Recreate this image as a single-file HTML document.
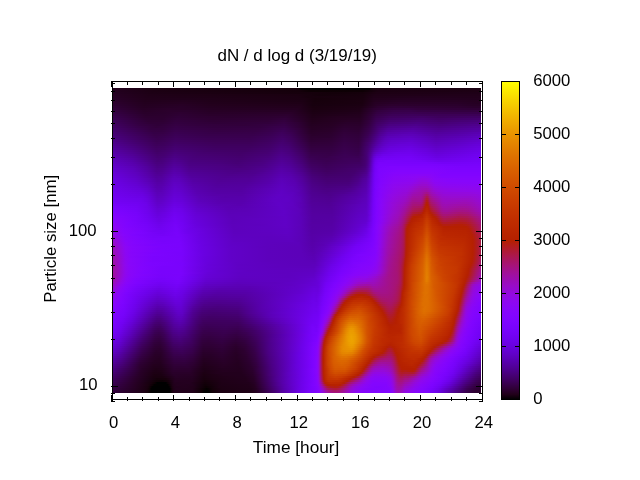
<!DOCTYPE html>
<html><head><meta charset="utf-8"><title>dN / d log d (3/19/19)</title>
<style>html,body{margin:0;padding:0;background:#fff;overflow:hidden}svg{display:block}</style>
</head><body>
<svg width="640" height="480" viewBox="0 0 640 480">
<rect width="640" height="480" fill="#fff"/>
<defs><linearGradient id="g0"><stop offset="0" stop-color="#23001e"/><stop offset="0.106" stop-color="#1b0012"/><stop offset="0.5" stop-color="#15000b"/><stop offset="0.508" stop-color="#0a0002"/><stop offset="0.511" stop-color="#000000"/><stop offset="0.696" stop-color="#000000"/><stop offset="0.698" stop-color="#030000"/><stop offset="0.704" stop-color="#110007"/><stop offset="0.715" stop-color="#19000f"/><stop offset="1" stop-color="#1b0012"/></linearGradient><linearGradient id="g1"><stop offset="0" stop-color="#23001f"/><stop offset="0.111" stop-color="#1c0013"/><stop offset="0.505" stop-color="#15000b"/><stop offset="0.538" stop-color="#0d0004"/><stop offset="0.679" stop-color="#0e0005"/><stop offset="0.72" stop-color="#1b0012"/><stop offset="1" stop-color="#1d0014"/></linearGradient><linearGradient id="g2"><stop offset="0" stop-color="#240021"/><stop offset="0.103" stop-color="#1d0015"/><stop offset="0.522" stop-color="#16000c"/><stop offset="0.601" stop-color="#130009"/><stop offset="0.679" stop-color="#15000b"/><stop offset="0.715" stop-color="#1d0014"/><stop offset="1" stop-color="#1e0017"/></linearGradient><linearGradient id="g3"><stop offset="0" stop-color="#260023"/><stop offset="0.098" stop-color="#1f0017"/><stop offset="0.503" stop-color="#1a0010"/><stop offset="0.56" stop-color="#14000a"/><stop offset="0.679" stop-color="#17000d"/><stop offset="0.712" stop-color="#1f0017"/><stop offset="0.94" stop-color="#200019"/><stop offset="1" stop-color="#200019"/></linearGradient><linearGradient id="g4"><stop offset="0" stop-color="#270025"/><stop offset="0.09" stop-color="#200019"/><stop offset="0.503" stop-color="#1b0012"/><stop offset="0.53" stop-color="#17000d"/><stop offset="0.679" stop-color="#18000e"/><stop offset="0.709" stop-color="#200019"/><stop offset="0.823" stop-color="#22001d"/><stop offset="1" stop-color="#21001b"/></linearGradient><linearGradient id="g5"><stop offset="0" stop-color="#280028"/><stop offset="0.092" stop-color="#21001a"/><stop offset="0.198" stop-color="#20001a"/><stop offset="0.356" stop-color="#1e0016"/><stop offset="0.519" stop-color="#1b0012"/><stop offset="0.549" stop-color="#16000b"/><stop offset="0.679" stop-color="#19000f"/><stop offset="0.709" stop-color="#22001c"/><stop offset="0.807" stop-color="#240021"/><stop offset="0.943" stop-color="#23001f"/><stop offset="1" stop-color="#22001d"/></linearGradient><linearGradient id="g6"><stop offset="0" stop-color="#2a002b"/><stop offset="0.087" stop-color="#22001c"/><stop offset="0.19" stop-color="#23001e"/><stop offset="0.272" stop-color="#200019"/><stop offset="0.516" stop-color="#1c0014"/><stop offset="0.546" stop-color="#16000c"/><stop offset="0.679" stop-color="#1a0010"/><stop offset="0.712" stop-color="#24001f"/><stop offset="0.772" stop-color="#260024"/><stop offset="0.938" stop-color="#260023"/><stop offset="1" stop-color="#24001f"/></linearGradient><linearGradient id="g7"><stop offset="0" stop-color="#2c002e"/><stop offset="0.087" stop-color="#23001e"/><stop offset="0.19" stop-color="#250021"/><stop offset="0.269" stop-color="#21001b"/><stop offset="0.514" stop-color="#1e0016"/><stop offset="0.546" stop-color="#17000d"/><stop offset="0.677" stop-color="#1a0010"/><stop offset="0.712" stop-color="#260023"/><stop offset="0.777" stop-color="#290029"/><stop offset="0.935" stop-color="#280027"/><stop offset="0.989" stop-color="#250022"/><stop offset="1" stop-color="#250022"/></linearGradient><linearGradient id="g8"><stop offset="0" stop-color="#2d0032"/><stop offset="0.084" stop-color="#240020"/><stop offset="0.185" stop-color="#270025"/><stop offset="0.266" stop-color="#23001d"/><stop offset="0.511" stop-color="#200019"/><stop offset="0.543" stop-color="#17000e"/><stop offset="0.677" stop-color="#1b0012"/><stop offset="0.715" stop-color="#280027"/><stop offset="0.758" stop-color="#2c002e"/><stop offset="0.935" stop-color="#2a002c"/><stop offset="0.978" stop-color="#270026"/><stop offset="1" stop-color="#270026"/></linearGradient><linearGradient id="g9"><stop offset="0" stop-color="#2f0036"/><stop offset="0.084" stop-color="#250022"/><stop offset="0.185" stop-color="#280028"/><stop offset="0.261" stop-color="#240020"/><stop offset="0.508" stop-color="#22001c"/><stop offset="0.543" stop-color="#19000f"/><stop offset="0.674" stop-color="#1d0014"/><stop offset="0.72" stop-color="#2c002f"/><stop offset="0.764" stop-color="#2f0037"/><stop offset="0.81" stop-color="#2f0036"/><stop offset="0.938" stop-color="#2d0031"/><stop offset="0.981" stop-color="#2a002c"/><stop offset="1" stop-color="#2a002c"/></linearGradient><linearGradient id="g10"><stop offset="0" stop-color="#31003a"/><stop offset="0.082" stop-color="#270025"/><stop offset="0.155" stop-color="#2a002a"/><stop offset="0.215" stop-color="#280027"/><stop offset="0.28" stop-color="#250022"/><stop offset="0.5" stop-color="#240020"/><stop offset="0.546" stop-color="#1a0010"/><stop offset="0.671" stop-color="#1e0016"/><stop offset="0.709" stop-color="#2d0031"/><stop offset="0.753" stop-color="#330040"/><stop offset="0.804" stop-color="#340042"/><stop offset="0.826" stop-color="#32003c"/><stop offset="0.94" stop-color="#300038"/><stop offset="1" stop-color="#2e0034"/></linearGradient><linearGradient id="g11"><stop offset="0" stop-color="#33003f"/><stop offset="0.087" stop-color="#280027"/><stop offset="0.152" stop-color="#2b002c"/><stop offset="0.204" stop-color="#2a002c"/><stop offset="0.266" stop-color="#270025"/><stop offset="0.492" stop-color="#260024"/><stop offset="0.522" stop-color="#20001a"/><stop offset="0.543" stop-color="#1b0012"/><stop offset="0.671" stop-color="#1f0018"/><stop offset="0.701" stop-color="#2b002e"/><stop offset="0.72" stop-color="#32003e"/><stop offset="0.764" stop-color="#370049"/><stop offset="0.807" stop-color="#37004a"/><stop offset="0.829" stop-color="#350045"/><stop offset="0.957" stop-color="#330040"/><stop offset="1" stop-color="#33003f"/></linearGradient><linearGradient id="g12"><stop offset="0" stop-color="#350044"/><stop offset="0.084" stop-color="#29002a"/><stop offset="0.141" stop-color="#2a002c"/><stop offset="0.182" stop-color="#2d0031"/><stop offset="0.264" stop-color="#280028"/><stop offset="0.438" stop-color="#290029"/><stop offset="0.484" stop-color="#290029"/><stop offset="0.522" stop-color="#22001c"/><stop offset="0.543" stop-color="#1c0014"/><stop offset="0.649" stop-color="#20001a"/><stop offset="0.671" stop-color="#21001b"/><stop offset="0.701" stop-color="#2d0032"/><stop offset="0.717" stop-color="#340042"/><stop offset="0.761" stop-color="#390050"/><stop offset="0.812" stop-color="#3a0051"/><stop offset="0.91" stop-color="#38004b"/><stop offset="1" stop-color="#37004b"/></linearGradient><linearGradient id="g13"><stop offset="0" stop-color="#370049"/><stop offset="0.09" stop-color="#2a002c"/><stop offset="0.141" stop-color="#2b002e"/><stop offset="0.182" stop-color="#2e0034"/><stop offset="0.266" stop-color="#2a002b"/><stop offset="0.435" stop-color="#2b002d"/><stop offset="0.476" stop-color="#2c002f"/><stop offset="0.519" stop-color="#240020"/><stop offset="0.543" stop-color="#1e0016"/><stop offset="0.647" stop-color="#22001d"/><stop offset="0.671" stop-color="#23001e"/><stop offset="0.701" stop-color="#2f0036"/><stop offset="0.715" stop-color="#360047"/><stop offset="0.758" stop-color="#3c0057"/><stop offset="0.812" stop-color="#3d005b"/><stop offset="0.864" stop-color="#3c0056"/><stop offset="0.94" stop-color="#3c0056"/><stop offset="1" stop-color="#3c0057"/></linearGradient><linearGradient id="g14"><stop offset="0" stop-color="#39004e"/><stop offset="0.087" stop-color="#2c002f"/><stop offset="0.139" stop-color="#2c002f"/><stop offset="0.177" stop-color="#2f0037"/><stop offset="0.231" stop-color="#2d0031"/><stop offset="0.312" stop-color="#2b002e"/><stop offset="0.432" stop-color="#2d0031"/><stop offset="0.47" stop-color="#2e0034"/><stop offset="0.516" stop-color="#260024"/><stop offset="0.541" stop-color="#1f0018"/><stop offset="0.614" stop-color="#24001f"/><stop offset="0.671" stop-color="#240020"/><stop offset="0.698" stop-color="#2f0037"/><stop offset="0.715" stop-color="#38004c"/><stop offset="0.753" stop-color="#3f005e"/><stop offset="0.84" stop-color="#410065"/><stop offset="0.889" stop-color="#3e005c"/><stop offset="0.984" stop-color="#400063"/><stop offset="1" stop-color="#400063"/></linearGradient><linearGradient id="g15"><stop offset="0" stop-color="#3b0053"/><stop offset="0.09" stop-color="#2d0032"/><stop offset="0.133" stop-color="#2c0030"/><stop offset="0.174" stop-color="#31003a"/><stop offset="0.228" stop-color="#2f0035"/><stop offset="0.272" stop-color="#2d0031"/><stop offset="0.427" stop-color="#2e0034"/><stop offset="0.467" stop-color="#31003a"/><stop offset="0.516" stop-color="#270026"/><stop offset="0.541" stop-color="#21001a"/><stop offset="0.609" stop-color="#250021"/><stop offset="0.647" stop-color="#260023"/><stop offset="0.671" stop-color="#260023"/><stop offset="0.696" stop-color="#2f0037"/><stop offset="0.715" stop-color="#3a0052"/><stop offset="0.755" stop-color="#410067"/><stop offset="0.84" stop-color="#44006f"/><stop offset="0.883" stop-color="#410065"/><stop offset="0.94" stop-color="#43006b"/><stop offset="1" stop-color="#44006e"/></linearGradient><linearGradient id="g16"><stop offset="0" stop-color="#3c0058"/><stop offset="0.095" stop-color="#2e0034"/><stop offset="0.136" stop-color="#2e0033"/><stop offset="0.171" stop-color="#32003d"/><stop offset="0.226" stop-color="#300039"/><stop offset="0.264" stop-color="#2e0034"/><stop offset="0.421" stop-color="#300037"/><stop offset="0.465" stop-color="#33003f"/><stop offset="0.516" stop-color="#290029"/><stop offset="0.541" stop-color="#22001c"/><stop offset="0.598" stop-color="#250021"/><stop offset="0.636" stop-color="#280026"/><stop offset="0.671" stop-color="#270026"/><stop offset="0.698" stop-color="#33003f"/><stop offset="0.715" stop-color="#3c0058"/><stop offset="0.75" stop-color="#44006e"/><stop offset="0.829" stop-color="#470078"/><stop offset="0.856" stop-color="#460073"/><stop offset="0.889" stop-color="#44006d"/><stop offset="0.94" stop-color="#460074"/><stop offset="0.984" stop-color="#470079"/><stop offset="1" stop-color="#470079"/></linearGradient><linearGradient id="g17"><stop offset="0" stop-color="#3e005c"/><stop offset="0.062" stop-color="#340043"/><stop offset="0.101" stop-color="#2f0036"/><stop offset="0.136" stop-color="#2f0036"/><stop offset="0.171" stop-color="#330040"/><stop offset="0.228" stop-color="#31003b"/><stop offset="0.277" stop-color="#2f0037"/><stop offset="0.421" stop-color="#31003b"/><stop offset="0.465" stop-color="#350043"/><stop offset="0.503" stop-color="#2e0034"/><stop offset="0.541" stop-color="#23001e"/><stop offset="0.598" stop-color="#260023"/><stop offset="0.636" stop-color="#29002a"/><stop offset="0.671" stop-color="#290029"/><stop offset="0.696" stop-color="#33003f"/><stop offset="0.717" stop-color="#3f0060"/><stop offset="0.753" stop-color="#470078"/><stop offset="0.829" stop-color="#4a0082"/><stop offset="0.861" stop-color="#480079"/><stop offset="0.894" stop-color="#460075"/><stop offset="0.943" stop-color="#49007e"/><stop offset="0.995" stop-color="#4b0083"/><stop offset="1" stop-color="#4b0083"/></linearGradient><linearGradient id="g18"><stop offset="0" stop-color="#400061"/><stop offset="0.073" stop-color="#340042"/><stop offset="0.122" stop-color="#2f0037"/><stop offset="0.171" stop-color="#350043"/><stop offset="0.234" stop-color="#32003d"/><stop offset="0.359" stop-color="#31003a"/><stop offset="0.432" stop-color="#340042"/><stop offset="0.465" stop-color="#360048"/><stop offset="0.508" stop-color="#2e0034"/><stop offset="0.538" stop-color="#240021"/><stop offset="0.595" stop-color="#270024"/><stop offset="0.63" stop-color="#2b002d"/><stop offset="0.671" stop-color="#2a002c"/><stop offset="0.696" stop-color="#340043"/><stop offset="0.717" stop-color="#410066"/><stop offset="0.75" stop-color="#4a0081"/><stop offset="0.823" stop-color="#4d008c"/><stop offset="0.861" stop-color="#4a0082"/><stop offset="0.889" stop-color="#49007d"/><stop offset="0.938" stop-color="#4b0085"/><stop offset="0.981" stop-color="#4e008c"/><stop offset="1" stop-color="#4e008d"/></linearGradient><linearGradient id="g19"><stop offset="0" stop-color="#410065"/><stop offset="0.065" stop-color="#37004a"/><stop offset="0.117" stop-color="#31003a"/><stop offset="0.144" stop-color="#33003f"/><stop offset="0.171" stop-color="#360047"/><stop offset="0.272" stop-color="#32003e"/><stop offset="0.399" stop-color="#330040"/><stop offset="0.44" stop-color="#370049"/><stop offset="0.467" stop-color="#38004c"/><stop offset="0.516" stop-color="#2d0031"/><stop offset="0.538" stop-color="#260023"/><stop offset="0.592" stop-color="#270026"/><stop offset="0.628" stop-color="#2c0030"/><stop offset="0.671" stop-color="#2c002f"/><stop offset="0.696" stop-color="#360047"/><stop offset="0.72" stop-color="#440070"/><stop offset="0.75" stop-color="#4d008b"/><stop offset="0.821" stop-color="#510096"/><stop offset="0.859" stop-color="#4d008b"/><stop offset="0.886" stop-color="#4b0085"/><stop offset="0.94" stop-color="#4e008e"/><stop offset="0.989" stop-color="#510096"/><stop offset="1" stop-color="#510096"/></linearGradient><linearGradient id="g20"><stop offset="0" stop-color="#43006a"/><stop offset="0.103" stop-color="#330040"/><stop offset="0.136" stop-color="#33003f"/><stop offset="0.168" stop-color="#37004a"/><stop offset="0.283" stop-color="#340041"/><stop offset="0.394" stop-color="#350043"/><stop offset="0.438" stop-color="#38004c"/><stop offset="0.465" stop-color="#3a0052"/><stop offset="0.508" stop-color="#31003a"/><stop offset="0.541" stop-color="#260024"/><stop offset="0.595" stop-color="#290029"/><stop offset="0.63" stop-color="#2e0034"/><stop offset="0.668" stop-color="#2c0030"/><stop offset="0.696" stop-color="#37004b"/><stop offset="0.723" stop-color="#48007a"/><stop offset="0.747" stop-color="#500094"/><stop offset="0.815" stop-color="#5400a0"/><stop offset="0.859" stop-color="#500093"/><stop offset="0.883" stop-color="#4e008d"/><stop offset="0.94" stop-color="#510096"/><stop offset="0.989" stop-color="#53009f"/><stop offset="1" stop-color="#54009f"/></linearGradient><linearGradient id="g21"><stop offset="0" stop-color="#44006e"/><stop offset="0.106" stop-color="#350043"/><stop offset="0.133" stop-color="#340042"/><stop offset="0.171" stop-color="#39004e"/><stop offset="0.283" stop-color="#350044"/><stop offset="0.389" stop-color="#360046"/><stop offset="0.432" stop-color="#39004e"/><stop offset="0.462" stop-color="#3c0057"/><stop offset="0.495" stop-color="#360047"/><stop offset="0.538" stop-color="#280027"/><stop offset="0.592" stop-color="#2a002a"/><stop offset="0.628" stop-color="#2f0037"/><stop offset="0.668" stop-color="#2e0033"/><stop offset="0.696" stop-color="#39004f"/><stop offset="0.723" stop-color="#4a0081"/><stop offset="0.745" stop-color="#52009b"/><stop offset="0.766" stop-color="#5500a3"/><stop offset="0.815" stop-color="#5700a9"/><stop offset="0.859" stop-color="#52009b"/><stop offset="0.883" stop-color="#500094"/><stop offset="0.946" stop-color="#5400a0"/><stop offset="1" stop-color="#5600a8"/></linearGradient><linearGradient id="g22"><stop offset="0" stop-color="#460073"/><stop offset="0.111" stop-color="#350046"/><stop offset="0.136" stop-color="#360046"/><stop offset="0.168" stop-color="#3a0052"/><stop offset="0.269" stop-color="#360048"/><stop offset="0.383" stop-color="#370049"/><stop offset="0.432" stop-color="#3a0052"/><stop offset="0.459" stop-color="#3e005c"/><stop offset="0.486" stop-color="#3a0050"/><stop offset="0.538" stop-color="#290029"/><stop offset="0.592" stop-color="#2b002d"/><stop offset="0.628" stop-color="#31003a"/><stop offset="0.668" stop-color="#2f0036"/><stop offset="0.696" stop-color="#3b0053"/><stop offset="0.726" stop-color="#4e008d"/><stop offset="0.747" stop-color="#5600a7"/><stop offset="0.81" stop-color="#5a00b3"/><stop offset="0.856" stop-color="#5500a4"/><stop offset="0.878" stop-color="#52009c"/><stop offset="0.938" stop-color="#5500a5"/><stop offset="0.986" stop-color="#5900b0"/><stop offset="1" stop-color="#5900b1"/></linearGradient><linearGradient id="g23"><stop offset="0" stop-color="#470078"/><stop offset="0.114" stop-color="#370048"/><stop offset="0.139" stop-color="#38004b"/><stop offset="0.171" stop-color="#3b0056"/><stop offset="0.253" stop-color="#38004c"/><stop offset="0.38" stop-color="#38004c"/><stop offset="0.429" stop-color="#3b0055"/><stop offset="0.459" stop-color="#3f0060"/><stop offset="0.481" stop-color="#3c0058"/><stop offset="0.522" stop-color="#300038"/><stop offset="0.541" stop-color="#2a002b"/><stop offset="0.595" stop-color="#2c0030"/><stop offset="0.628" stop-color="#32003d"/><stop offset="0.668" stop-color="#300039"/><stop offset="0.693" stop-color="#3b0053"/><stop offset="0.726" stop-color="#500095"/><stop offset="0.747" stop-color="#5800af"/><stop offset="0.791" stop-color="#5c01b9"/><stop offset="0.818" stop-color="#5c01b9"/><stop offset="0.856" stop-color="#5700ab"/><stop offset="0.878" stop-color="#5500a3"/><stop offset="0.935" stop-color="#5700ac"/><stop offset="0.992" stop-color="#5b01b8"/><stop offset="1" stop-color="#5c01b9"/></linearGradient><linearGradient id="g24"><stop offset="0" stop-color="#49007d"/><stop offset="0.117" stop-color="#38004b"/><stop offset="0.141" stop-color="#390050"/><stop offset="0.171" stop-color="#3d0059"/><stop offset="0.253" stop-color="#390050"/><stop offset="0.367" stop-color="#39004e"/><stop offset="0.432" stop-color="#3d005a"/><stop offset="0.459" stop-color="#410064"/><stop offset="0.481" stop-color="#3e005c"/><stop offset="0.522" stop-color="#31003b"/><stop offset="0.538" stop-color="#2c002f"/><stop offset="0.587" stop-color="#2c0030"/><stop offset="0.628" stop-color="#33003f"/><stop offset="0.668" stop-color="#31003b"/><stop offset="0.693" stop-color="#3c0058"/><stop offset="0.728" stop-color="#5400a1"/><stop offset="0.747" stop-color="#5b01b7"/><stop offset="0.807" stop-color="#5f01c2"/><stop offset="0.851" stop-color="#5a01b5"/><stop offset="0.878" stop-color="#5700a9"/><stop offset="0.938" stop-color="#5a00b4"/><stop offset="0.995" stop-color="#5e01c0"/><stop offset="1" stop-color="#5e01c0"/></linearGradient><linearGradient id="g25"><stop offset="0" stop-color="#4a0082"/><stop offset="0.073" stop-color="#3f0061"/><stop offset="0.122" stop-color="#39004e"/><stop offset="0.171" stop-color="#3e005d"/><stop offset="0.258" stop-color="#3b0053"/><stop offset="0.372" stop-color="#3a0052"/><stop offset="0.429" stop-color="#3e005d"/><stop offset="0.462" stop-color="#420069"/><stop offset="0.489" stop-color="#3d005a"/><stop offset="0.522" stop-color="#32003e"/><stop offset="0.538" stop-color="#2d0031"/><stop offset="0.595" stop-color="#2f0035"/><stop offset="0.628" stop-color="#340042"/><stop offset="0.668" stop-color="#32003d"/><stop offset="0.696" stop-color="#400062"/><stop offset="0.723" stop-color="#53009e"/><stop offset="0.739" stop-color="#5b01b6"/><stop offset="0.755" stop-color="#5e01c2"/><stop offset="0.81" stop-color="#6101c9"/><stop offset="0.853" stop-color="#5c01ba"/><stop offset="0.878" stop-color="#5900af"/><stop offset="0.94" stop-color="#5c01bb"/><stop offset="0.995" stop-color="#6001c7"/><stop offset="1" stop-color="#6001c7"/></linearGradient><linearGradient id="g26"><stop offset="0" stop-color="#4c0087"/><stop offset="0.06" stop-color="#44006d"/><stop offset="0.117" stop-color="#3a0053"/><stop offset="0.139" stop-color="#3c0056"/><stop offset="0.168" stop-color="#400061"/><stop offset="0.272" stop-color="#3c0056"/><stop offset="0.378" stop-color="#3c0056"/><stop offset="0.429" stop-color="#3f0061"/><stop offset="0.462" stop-color="#44006d"/><stop offset="0.489" stop-color="#3f005e"/><stop offset="0.516" stop-color="#360047"/><stop offset="0.538" stop-color="#2e0034"/><stop offset="0.595" stop-color="#300038"/><stop offset="0.628" stop-color="#350044"/><stop offset="0.668" stop-color="#33003f"/><stop offset="0.696" stop-color="#420068"/><stop offset="0.72" stop-color="#5400a1"/><stop offset="0.739" stop-color="#5d01bd"/><stop offset="0.758" stop-color="#6101c9"/><stop offset="0.812" stop-color="#6301cf"/><stop offset="0.853" stop-color="#5e01c0"/><stop offset="0.878" stop-color="#5a01b5"/><stop offset="0.935" stop-color="#5e01c0"/><stop offset="0.995" stop-color="#6301ce"/><stop offset="1" stop-color="#6301ce"/></linearGradient><linearGradient id="g27"><stop offset="0" stop-color="#4e008d"/><stop offset="0.065" stop-color="#44006f"/><stop offset="0.12" stop-color="#3c0056"/><stop offset="0.147" stop-color="#3e005d"/><stop offset="0.168" stop-color="#410065"/><stop offset="0.28" stop-color="#3d0059"/><stop offset="0.372" stop-color="#3d0059"/><stop offset="0.429" stop-color="#410064"/><stop offset="0.459" stop-color="#450071"/><stop offset="0.481" stop-color="#420068"/><stop offset="0.516" stop-color="#38004b"/><stop offset="0.538" stop-color="#300038"/><stop offset="0.592" stop-color="#31003a"/><stop offset="0.628" stop-color="#360047"/><stop offset="0.668" stop-color="#340041"/><stop offset="0.698" stop-color="#460073"/><stop offset="0.715" stop-color="#53009d"/><stop offset="0.734" stop-color="#5d01be"/><stop offset="0.753" stop-color="#6201cd"/><stop offset="0.807" stop-color="#6601d6"/><stop offset="0.853" stop-color="#6001c6"/><stop offset="0.878" stop-color="#5c01bb"/><stop offset="0.932" stop-color="#5f01c5"/><stop offset="0.992" stop-color="#6501d4"/><stop offset="1" stop-color="#6501d4"/></linearGradient><linearGradient id="g28"><stop offset="0" stop-color="#500092"/><stop offset="0.06" stop-color="#470077"/><stop offset="0.117" stop-color="#3d005a"/><stop offset="0.139" stop-color="#3e005d"/><stop offset="0.171" stop-color="#42006a"/><stop offset="0.272" stop-color="#3e005d"/><stop offset="0.378" stop-color="#3e005d"/><stop offset="0.429" stop-color="#420068"/><stop offset="0.457" stop-color="#460075"/><stop offset="0.478" stop-color="#44006e"/><stop offset="0.516" stop-color="#39004f"/><stop offset="0.538" stop-color="#31003b"/><stop offset="0.595" stop-color="#32003d"/><stop offset="0.628" stop-color="#370049"/><stop offset="0.668" stop-color="#350043"/><stop offset="0.693" stop-color="#43006d"/><stop offset="0.707" stop-color="#4f0091"/><stop offset="0.723" stop-color="#5a01b5"/><stop offset="0.745" stop-color="#6301cf"/><stop offset="0.78" stop-color="#6701d9"/><stop offset="0.812" stop-color="#6701da"/><stop offset="0.853" stop-color="#6201cc"/><stop offset="0.878" stop-color="#5e01c0"/><stop offset="0.938" stop-color="#6201cc"/><stop offset="0.986" stop-color="#6601d9"/><stop offset="1" stop-color="#6701da"/></linearGradient><linearGradient id="g29"><stop offset="0" stop-color="#510098"/><stop offset="0.057" stop-color="#49007e"/><stop offset="0.117" stop-color="#3f005e"/><stop offset="0.141" stop-color="#400062"/><stop offset="0.168" stop-color="#44006e"/><stop offset="0.28" stop-color="#3f0060"/><stop offset="0.372" stop-color="#3f0060"/><stop offset="0.427" stop-color="#43006a"/><stop offset="0.457" stop-color="#470079"/><stop offset="0.476" stop-color="#460074"/><stop offset="0.516" stop-color="#3a0053"/><stop offset="0.538" stop-color="#33003e"/><stop offset="0.595" stop-color="#330040"/><stop offset="0.628" stop-color="#38004b"/><stop offset="0.668" stop-color="#350045"/><stop offset="0.696" stop-color="#470078"/><stop offset="0.715" stop-color="#5800ae"/><stop offset="0.734" stop-color="#6201cb"/><stop offset="0.753" stop-color="#6701d9"/><stop offset="0.807" stop-color="#6a01e1"/><stop offset="0.856" stop-color="#6301d0"/><stop offset="0.878" stop-color="#6001c6"/><stop offset="0.935" stop-color="#6401d1"/><stop offset="0.992" stop-color="#6901df"/><stop offset="1" stop-color="#6901df"/></linearGradient><linearGradient id="g30"><stop offset="0" stop-color="#53009d"/><stop offset="0.054" stop-color="#4b0085"/><stop offset="0.117" stop-color="#400062"/><stop offset="0.139" stop-color="#410065"/><stop offset="0.168" stop-color="#450072"/><stop offset="0.277" stop-color="#400064"/><stop offset="0.361" stop-color="#400062"/><stop offset="0.427" stop-color="#44006e"/><stop offset="0.457" stop-color="#49007d"/><stop offset="0.478" stop-color="#470077"/><stop offset="0.516" stop-color="#3c0057"/><stop offset="0.538" stop-color="#340042"/><stop offset="0.592" stop-color="#340042"/><stop offset="0.628" stop-color="#39004d"/><stop offset="0.668" stop-color="#360048"/><stop offset="0.693" stop-color="#460075"/><stop offset="0.712" stop-color="#5900b0"/><stop offset="0.728" stop-color="#6201cc"/><stop offset="0.75" stop-color="#6901de"/><stop offset="0.807" stop-color="#6c01e6"/><stop offset="0.851" stop-color="#6701d9"/><stop offset="0.878" stop-color="#6201cc"/><stop offset="0.932" stop-color="#6501d6"/><stop offset="0.989" stop-color="#6b01e3"/><stop offset="1" stop-color="#6b01e4"/></linearGradient><linearGradient id="g31"><stop offset="0" stop-color="#5500a2"/><stop offset="0.052" stop-color="#4e008c"/><stop offset="0.12" stop-color="#410065"/><stop offset="0.144" stop-color="#43006c"/><stop offset="0.171" stop-color="#470077"/><stop offset="0.255" stop-color="#420069"/><stop offset="0.359" stop-color="#410065"/><stop offset="0.427" stop-color="#450072"/><stop offset="0.457" stop-color="#4a0081"/><stop offset="0.478" stop-color="#48007b"/><stop offset="0.514" stop-color="#3e005e"/><stop offset="0.538" stop-color="#350045"/><stop offset="0.595" stop-color="#350045"/><stop offset="0.63" stop-color="#390050"/><stop offset="0.668" stop-color="#37004a"/><stop offset="0.693" stop-color="#470078"/><stop offset="0.712" stop-color="#5c01b9"/><stop offset="0.726" stop-color="#6401d1"/><stop offset="0.747" stop-color="#6b01e3"/><stop offset="0.807" stop-color="#6e02eb"/><stop offset="0.853" stop-color="#6801dd"/><stop offset="0.878" stop-color="#6401d1"/><stop offset="0.943" stop-color="#6901df"/><stop offset="1" stop-color="#6d02e8"/></linearGradient><linearGradient id="g32"><stop offset="0" stop-color="#5600a8"/><stop offset="0.054" stop-color="#4f0090"/><stop offset="0.12" stop-color="#420069"/><stop offset="0.144" stop-color="#450070"/><stop offset="0.168" stop-color="#48007c"/><stop offset="0.245" stop-color="#44006e"/><stop offset="0.348" stop-color="#420068"/><stop offset="0.421" stop-color="#460073"/><stop offset="0.459" stop-color="#4c0086"/><stop offset="0.484" stop-color="#48007b"/><stop offset="0.514" stop-color="#400062"/><stop offset="0.538" stop-color="#370049"/><stop offset="0.592" stop-color="#360047"/><stop offset="0.63" stop-color="#3a0052"/><stop offset="0.668" stop-color="#38004d"/><stop offset="0.69" stop-color="#460074"/><stop offset="0.698" stop-color="#4e008f"/><stop offset="0.709" stop-color="#5d01bc"/><stop offset="0.717" stop-color="#6301d0"/><stop offset="0.734" stop-color="#6a01e3"/><stop offset="0.766" stop-color="#6f02ed"/><stop offset="0.81" stop-color="#7002ee"/><stop offset="0.853" stop-color="#6a01e2"/><stop offset="0.88" stop-color="#6601d7"/><stop offset="0.995" stop-color="#6e02ec"/><stop offset="1" stop-color="#6f02ec"/></linearGradient><linearGradient id="g33"><stop offset="0" stop-color="#5800ad"/><stop offset="0.054" stop-color="#510096"/><stop offset="0.12" stop-color="#44006d"/><stop offset="0.139" stop-color="#450071"/><stop offset="0.168" stop-color="#4a0081"/><stop offset="0.228" stop-color="#460073"/><stop offset="0.345" stop-color="#43006a"/><stop offset="0.424" stop-color="#470078"/><stop offset="0.457" stop-color="#4d008a"/><stop offset="0.478" stop-color="#4b0083"/><stop offset="0.511" stop-color="#420069"/><stop offset="0.538" stop-color="#38004d"/><stop offset="0.59" stop-color="#370049"/><stop offset="0.63" stop-color="#3b0055"/><stop offset="0.666" stop-color="#39004f"/><stop offset="0.677" stop-color="#3e005c"/><stop offset="0.69" stop-color="#460076"/><stop offset="0.698" stop-color="#500093"/><stop offset="0.709" stop-color="#6001c7"/><stop offset="0.717" stop-color="#6801dc"/><stop offset="0.734" stop-color="#6e02eb"/><stop offset="0.777" stop-color="#7202f2"/><stop offset="0.81" stop-color="#7202f2"/><stop offset="0.853" stop-color="#6c01e7"/><stop offset="0.88" stop-color="#6801dd"/><stop offset="0.989" stop-color="#7002ef"/><stop offset="1" stop-color="#7002ef"/></linearGradient><linearGradient id="g34"><stop offset="0" stop-color="#5a00b2"/><stop offset="0.054" stop-color="#52009c"/><stop offset="0.12" stop-color="#450071"/><stop offset="0.139" stop-color="#460075"/><stop offset="0.166" stop-color="#4b0085"/><stop offset="0.188" stop-color="#4a0081"/><stop offset="0.22" stop-color="#470077"/><stop offset="0.348" stop-color="#44006d"/><stop offset="0.424" stop-color="#49007c"/><stop offset="0.457" stop-color="#4e008e"/><stop offset="0.478" stop-color="#4c0088"/><stop offset="0.514" stop-color="#43006b"/><stop offset="0.535" stop-color="#3a0052"/><stop offset="0.579" stop-color="#38004b"/><stop offset="0.614" stop-color="#3b0054"/><stop offset="0.644" stop-color="#3c0056"/><stop offset="0.668" stop-color="#3b0054"/><stop offset="0.688" stop-color="#450071"/><stop offset="0.693" stop-color="#4a0080"/><stop offset="0.701" stop-color="#5600a7"/><stop offset="0.709" stop-color="#6401d2"/><stop offset="0.717" stop-color="#6c01e7"/><stop offset="0.734" stop-color="#7202f2"/><stop offset="0.804" stop-color="#7502f7"/><stop offset="0.853" stop-color="#6e02ec"/><stop offset="0.88" stop-color="#6a01e2"/><stop offset="0.981" stop-color="#7102f1"/><stop offset="1" stop-color="#7202f2"/></linearGradient><linearGradient id="g35"><stop offset="0" stop-color="#5b01b7"/><stop offset="0.054" stop-color="#5400a2"/><stop offset="0.109" stop-color="#48007b"/><stop offset="0.125" stop-color="#460074"/><stop offset="0.149" stop-color="#4a0081"/><stop offset="0.168" stop-color="#4d008b"/><stop offset="0.193" stop-color="#4a0082"/><stop offset="0.22" stop-color="#48007a"/><stop offset="0.296" stop-color="#460074"/><stop offset="0.351" stop-color="#450070"/><stop offset="0.427" stop-color="#4a0081"/><stop offset="0.457" stop-color="#4f0092"/><stop offset="0.478" stop-color="#4e008c"/><stop offset="0.514" stop-color="#44006f"/><stop offset="0.535" stop-color="#3c0057"/><stop offset="0.557" stop-color="#390050"/><stop offset="0.598" stop-color="#3a0050"/><stop offset="0.63" stop-color="#3d0059"/><stop offset="0.671" stop-color="#3d0059"/><stop offset="0.688" stop-color="#450072"/><stop offset="0.693" stop-color="#4a0082"/><stop offset="0.701" stop-color="#5800ad"/><stop offset="0.709" stop-color="#6701db"/><stop offset="0.715" stop-color="#6e02eb"/><stop offset="0.726" stop-color="#7402f6"/><stop offset="0.807" stop-color="#7603f9"/><stop offset="0.856" stop-color="#7002ef"/><stop offset="0.883" stop-color="#6d02e8"/><stop offset="0.981" stop-color="#7302f4"/><stop offset="1" stop-color="#7302f5"/></linearGradient><linearGradient id="g36"><stop offset="0" stop-color="#5d01bc"/><stop offset="0.052" stop-color="#5600a9"/><stop offset="0.095" stop-color="#4d008b"/><stop offset="0.12" stop-color="#470079"/><stop offset="0.136" stop-color="#48007c"/><stop offset="0.166" stop-color="#4f0090"/><stop offset="0.185" stop-color="#4d008b"/><stop offset="0.212" stop-color="#49007e"/><stop offset="0.285" stop-color="#480079"/><stop offset="0.34" stop-color="#450073"/><stop offset="0.402" stop-color="#49007d"/><stop offset="0.435" stop-color="#4d008b"/><stop offset="0.459" stop-color="#510096"/><stop offset="0.484" stop-color="#4e008d"/><stop offset="0.514" stop-color="#460074"/><stop offset="0.538" stop-color="#3d0059"/><stop offset="0.582" stop-color="#3a0051"/><stop offset="0.609" stop-color="#3c0057"/><stop offset="0.644" stop-color="#3e005c"/><stop offset="0.668" stop-color="#3e005b"/><stop offset="0.685" stop-color="#44006e"/><stop offset="0.69" stop-color="#48007a"/><stop offset="0.696" stop-color="#4f0091"/><stop offset="0.707" stop-color="#6501d6"/><stop offset="0.712" stop-color="#6f02ec"/><stop offset="0.72" stop-color="#7602f8"/><stop offset="0.747" stop-color="#7903fc"/><stop offset="0.84" stop-color="#7603f9"/><stop offset="0.883" stop-color="#7002ef"/><stop offset="0.989" stop-color="#7502f7"/><stop offset="1" stop-color="#7502f7"/></linearGradient><linearGradient id="g37"><stop offset="0" stop-color="#5e01c1"/><stop offset="0.052" stop-color="#5800ae"/><stop offset="0.092" stop-color="#500093"/><stop offset="0.117" stop-color="#49007e"/><stop offset="0.133" stop-color="#49007e"/><stop offset="0.166" stop-color="#500095"/><stop offset="0.182" stop-color="#4f0091"/><stop offset="0.209" stop-color="#4a0082"/><stop offset="0.288" stop-color="#48007c"/><stop offset="0.337" stop-color="#460075"/><stop offset="0.41" stop-color="#4b0083"/><stop offset="0.435" stop-color="#4e008f"/><stop offset="0.459" stop-color="#52009a"/><stop offset="0.484" stop-color="#4f0091"/><stop offset="0.514" stop-color="#470078"/><stop offset="0.538" stop-color="#3e005d"/><stop offset="0.579" stop-color="#3b0054"/><stop offset="0.611" stop-color="#3d005a"/><stop offset="0.647" stop-color="#3f005e"/><stop offset="0.671" stop-color="#3f0061"/><stop offset="0.685" stop-color="#450070"/><stop offset="0.69" stop-color="#49007c"/><stop offset="0.696" stop-color="#500095"/><stop offset="0.707" stop-color="#6701db"/><stop offset="0.712" stop-color="#7102f1"/><stop offset="0.723" stop-color="#7a03fc"/><stop offset="0.851" stop-color="#7903fc"/><stop offset="0.899" stop-color="#7502f7"/><stop offset="1" stop-color="#7703fa"/></linearGradient><linearGradient id="g38"><stop offset="0" stop-color="#6001c6"/><stop offset="0.062" stop-color="#5800ad"/><stop offset="0.095" stop-color="#500095"/><stop offset="0.12" stop-color="#4a0081"/><stop offset="0.136" stop-color="#4b0084"/><stop offset="0.166" stop-color="#52009a"/><stop offset="0.182" stop-color="#510096"/><stop offset="0.209" stop-color="#4b0085"/><stop offset="0.285" stop-color="#4a0080"/><stop offset="0.34" stop-color="#470079"/><stop offset="0.405" stop-color="#4b0085"/><stop offset="0.432" stop-color="#4f0091"/><stop offset="0.459" stop-color="#53009e"/><stop offset="0.484" stop-color="#500095"/><stop offset="0.511" stop-color="#4a0080"/><stop offset="0.538" stop-color="#400061"/><stop offset="0.579" stop-color="#3c0057"/><stop offset="0.617" stop-color="#3f005e"/><stop offset="0.674" stop-color="#410066"/><stop offset="0.685" stop-color="#450072"/><stop offset="0.69" stop-color="#49007f"/><stop offset="0.696" stop-color="#510098"/><stop offset="0.707" stop-color="#6901df"/><stop offset="0.712" stop-color="#7302f4"/><stop offset="0.723" stop-color="#7b03fe"/><stop offset="0.856" stop-color="#7c03fe"/><stop offset="0.935" stop-color="#7803fb"/><stop offset="1" stop-color="#7903fc"/></linearGradient><linearGradient id="g39"><stop offset="0" stop-color="#6101ca"/><stop offset="0.054" stop-color="#5b01b6"/><stop offset="0.09" stop-color="#53009f"/><stop offset="0.12" stop-color="#4b0085"/><stop offset="0.136" stop-color="#4c0088"/><stop offset="0.166" stop-color="#53009f"/><stop offset="0.182" stop-color="#52009b"/><stop offset="0.209" stop-color="#4d0089"/><stop offset="0.285" stop-color="#4b0083"/><stop offset="0.345" stop-color="#49007c"/><stop offset="0.416" stop-color="#4e008c"/><stop offset="0.457" stop-color="#5400a2"/><stop offset="0.481" stop-color="#52009b"/><stop offset="0.514" stop-color="#4a0081"/><stop offset="0.538" stop-color="#410065"/><stop offset="0.579" stop-color="#3d005a"/><stop offset="0.671" stop-color="#420069"/><stop offset="0.685" stop-color="#460076"/><stop offset="0.69" stop-color="#4b0083"/><stop offset="0.696" stop-color="#53009c"/><stop offset="0.707" stop-color="#6a01e2"/><stop offset="0.712" stop-color="#7402f5"/><stop offset="0.72" stop-color="#7b03fe"/><stop offset="0.755" stop-color="#7f04ff"/><stop offset="0.864" stop-color="#7e04ff"/><stop offset="0.951" stop-color="#7b03fd"/><stop offset="1" stop-color="#7b03fd"/></linearGradient><linearGradient id="g40"><stop offset="0" stop-color="#6301ce"/><stop offset="0.057" stop-color="#5c01b9"/><stop offset="0.095" stop-color="#53009e"/><stop offset="0.12" stop-color="#4d0089"/><stop offset="0.136" stop-color="#4e008d"/><stop offset="0.166" stop-color="#5500a4"/><stop offset="0.182" stop-color="#5400a0"/><stop offset="0.207" stop-color="#4e008e"/><stop offset="0.31" stop-color="#4a0082"/><stop offset="0.364" stop-color="#4b0082"/><stop offset="0.427" stop-color="#500095"/><stop offset="0.457" stop-color="#5600a6"/><stop offset="0.484" stop-color="#53009e"/><stop offset="0.514" stop-color="#4c0086"/><stop offset="0.541" stop-color="#420068"/><stop offset="0.584" stop-color="#3e005d"/><stop offset="0.671" stop-color="#44006e"/><stop offset="0.685" stop-color="#48007b"/><stop offset="0.69" stop-color="#4c0088"/><stop offset="0.696" stop-color="#5400a1"/><stop offset="0.707" stop-color="#6b01e4"/><stop offset="0.712" stop-color="#7402f6"/><stop offset="0.723" stop-color="#7d04ff"/><stop offset="0.78" stop-color="#8104ff"/><stop offset="0.864" stop-color="#8104ff"/><stop offset="0.929" stop-color="#7d03fe"/><stop offset="1" stop-color="#7d03fe"/></linearGradient><linearGradient id="g41"><stop offset="0" stop-color="#6401d2"/><stop offset="0.054" stop-color="#5d01be"/><stop offset="0.092" stop-color="#5500a5"/><stop offset="0.117" stop-color="#4e008e"/><stop offset="0.133" stop-color="#4f008f"/><stop offset="0.166" stop-color="#5700a9"/><stop offset="0.182" stop-color="#5500a5"/><stop offset="0.207" stop-color="#500093"/><stop offset="0.34" stop-color="#4b0084"/><stop offset="0.405" stop-color="#4f0090"/><stop offset="0.438" stop-color="#5400a0"/><stop offset="0.459" stop-color="#5700aa"/><stop offset="0.489" stop-color="#53009f"/><stop offset="0.516" stop-color="#4c0088"/><stop offset="0.541" stop-color="#43006d"/><stop offset="0.579" stop-color="#400061"/><stop offset="0.658" stop-color="#44006d"/><stop offset="0.682" stop-color="#49007d"/><stop offset="0.69" stop-color="#4e008d"/><stop offset="0.696" stop-color="#5600a6"/><stop offset="0.707" stop-color="#6c01e6"/><stop offset="0.712" stop-color="#7502f7"/><stop offset="0.723" stop-color="#7e04ff"/><stop offset="0.777" stop-color="#8305fe"/><stop offset="0.861" stop-color="#8305fe"/><stop offset="0.927" stop-color="#7e04ff"/><stop offset="1" stop-color="#7e04ff"/></linearGradient><linearGradient id="g42"><stop offset="0" stop-color="#6601d6"/><stop offset="0.065" stop-color="#5d01bc"/><stop offset="0.095" stop-color="#5600a6"/><stop offset="0.12" stop-color="#4f0091"/><stop offset="0.136" stop-color="#510095"/><stop offset="0.166" stop-color="#5800ae"/><stop offset="0.182" stop-color="#5700aa"/><stop offset="0.207" stop-color="#510098"/><stop offset="0.326" stop-color="#4c0088"/><stop offset="0.386" stop-color="#4e008e"/><stop offset="0.432" stop-color="#5400a0"/><stop offset="0.457" stop-color="#5800ad"/><stop offset="0.481" stop-color="#5600a8"/><stop offset="0.514" stop-color="#4f0090"/><stop offset="0.541" stop-color="#450071"/><stop offset="0.582" stop-color="#410065"/><stop offset="0.655" stop-color="#44006f"/><stop offset="0.674" stop-color="#49007d"/><stop offset="0.688" stop-color="#4e008c"/><stop offset="0.693" stop-color="#53009e"/><stop offset="0.707" stop-color="#6d02e8"/><stop offset="0.712" stop-color="#7602f8"/><stop offset="0.723" stop-color="#7e04ff"/><stop offset="0.766" stop-color="#8505fd"/><stop offset="0.861" stop-color="#8505fc"/><stop offset="0.916" stop-color="#8004ff"/><stop offset="1" stop-color="#8004ff"/></linearGradient><linearGradient id="g43"><stop offset="0" stop-color="#6701da"/><stop offset="0.062" stop-color="#5e01c1"/><stop offset="0.095" stop-color="#5700aa"/><stop offset="0.117" stop-color="#510097"/><stop offset="0.13" stop-color="#510096"/><stop offset="0.166" stop-color="#5a00b3"/><stop offset="0.182" stop-color="#5800af"/><stop offset="0.209" stop-color="#52009b"/><stop offset="0.312" stop-color="#4e008c"/><stop offset="0.378" stop-color="#4f0090"/><stop offset="0.429" stop-color="#5500a2"/><stop offset="0.457" stop-color="#5900b1"/><stop offset="0.484" stop-color="#5700aa"/><stop offset="0.511" stop-color="#510097"/><stop offset="0.541" stop-color="#460076"/><stop offset="0.579" stop-color="#420069"/><stop offset="0.647" stop-color="#44006f"/><stop offset="0.668" stop-color="#49007c"/><stop offset="0.688" stop-color="#500093"/><stop offset="0.693" stop-color="#5500a3"/><stop offset="0.707" stop-color="#6d02e9"/><stop offset="0.712" stop-color="#7603f9"/><stop offset="0.723" stop-color="#7f04ff"/><stop offset="0.764" stop-color="#8605fb"/><stop offset="0.826" stop-color="#8906f8"/><stop offset="0.859" stop-color="#8806f8"/><stop offset="0.891" stop-color="#8204ff"/><stop offset="1" stop-color="#8104ff"/></linearGradient><linearGradient id="g44"><stop offset="0" stop-color="#6801dd"/><stop offset="0.068" stop-color="#5e01c2"/><stop offset="0.095" stop-color="#5800ae"/><stop offset="0.117" stop-color="#52009b"/><stop offset="0.133" stop-color="#53009c"/><stop offset="0.166" stop-color="#5b01b7"/><stop offset="0.182" stop-color="#5a00b4"/><stop offset="0.212" stop-color="#53009e"/><stop offset="0.302" stop-color="#4f0090"/><stop offset="0.37" stop-color="#500092"/><stop offset="0.424" stop-color="#5500a3"/><stop offset="0.457" stop-color="#5a00b4"/><stop offset="0.484" stop-color="#5800ae"/><stop offset="0.514" stop-color="#520099"/><stop offset="0.541" stop-color="#48007a"/><stop offset="0.579" stop-color="#44006d"/><stop offset="0.644" stop-color="#450071"/><stop offset="0.668" stop-color="#4a0081"/><stop offset="0.682" stop-color="#4f0092"/><stop offset="0.688" stop-color="#520099"/><stop offset="0.696" stop-color="#5a00b4"/><stop offset="0.707" stop-color="#6e02ea"/><stop offset="0.712" stop-color="#7703f9"/><stop offset="0.723" stop-color="#7f04ff"/><stop offset="0.766" stop-color="#8806f9"/><stop offset="0.823" stop-color="#8b07f5"/><stop offset="0.845" stop-color="#8d07ef"/><stop offset="0.864" stop-color="#8906f7"/><stop offset="0.894" stop-color="#8305fe"/><stop offset="1" stop-color="#8305fe"/></linearGradient><linearGradient id="g45"><stop offset="0" stop-color="#6901e0"/><stop offset="0.06" stop-color="#6101ca"/><stop offset="0.092" stop-color="#5a01b5"/><stop offset="0.12" stop-color="#53009e"/><stop offset="0.136" stop-color="#5400a2"/><stop offset="0.163" stop-color="#5c01ba"/><stop offset="0.179" stop-color="#5c01ba"/><stop offset="0.212" stop-color="#5500a3"/><stop offset="0.288" stop-color="#500093"/><stop offset="0.372" stop-color="#510096"/><stop offset="0.424" stop-color="#5600a6"/><stop offset="0.457" stop-color="#5b01b7"/><stop offset="0.486" stop-color="#5900b0"/><stop offset="0.514" stop-color="#53009c"/><stop offset="0.541" stop-color="#49007e"/><stop offset="0.576" stop-color="#450071"/><stop offset="0.641" stop-color="#460073"/><stop offset="0.666" stop-color="#4b0083"/><stop offset="0.679" stop-color="#510096"/><stop offset="0.688" stop-color="#53009e"/><stop offset="0.696" stop-color="#5b01b8"/><stop offset="0.707" stop-color="#6e02ec"/><stop offset="0.712" stop-color="#7703fa"/><stop offset="0.728" stop-color="#8204ff"/><stop offset="0.766" stop-color="#8906f7"/><stop offset="0.821" stop-color="#8c07f2"/><stop offset="0.84" stop-color="#9008e7"/><stop offset="0.859" stop-color="#8e08ed"/><stop offset="0.875" stop-color="#8806fa"/><stop offset="0.957" stop-color="#8505fd"/><stop offset="1" stop-color="#8505fd"/></linearGradient><linearGradient id="g46"><stop offset="0" stop-color="#6a01e3"/><stop offset="0.065" stop-color="#6201cb"/><stop offset="0.098" stop-color="#5a00b4"/><stop offset="0.12" stop-color="#5400a2"/><stop offset="0.133" stop-color="#5500a4"/><stop offset="0.163" stop-color="#5d01be"/><stop offset="0.179" stop-color="#5d01be"/><stop offset="0.217" stop-color="#5500a4"/><stop offset="0.293" stop-color="#510096"/><stop offset="0.372" stop-color="#520099"/><stop offset="0.427" stop-color="#5700ab"/><stop offset="0.459" stop-color="#5c01ba"/><stop offset="0.492" stop-color="#5900b0"/><stop offset="0.516" stop-color="#53009c"/><stop offset="0.541" stop-color="#4a0081"/><stop offset="0.582" stop-color="#460074"/><stop offset="0.641" stop-color="#470077"/><stop offset="0.666" stop-color="#4c0088"/><stop offset="0.679" stop-color="#52009b"/><stop offset="0.688" stop-color="#5500a3"/><stop offset="0.696" stop-color="#5c01bb"/><stop offset="0.707" stop-color="#6f02ed"/><stop offset="0.712" stop-color="#7703fa"/><stop offset="0.726" stop-color="#8104ff"/><stop offset="0.761" stop-color="#8a06f5"/><stop offset="0.815" stop-color="#8d07f0"/><stop offset="0.837" stop-color="#9209df"/><stop offset="0.853" stop-color="#9209e0"/><stop offset="0.872" stop-color="#8b07f5"/><stop offset="0.91" stop-color="#8706fb"/><stop offset="1" stop-color="#8706fb"/></linearGradient><linearGradient id="g47"><stop offset="0" stop-color="#6b01e5"/><stop offset="0.065" stop-color="#6301cf"/><stop offset="0.095" stop-color="#5c01bb"/><stop offset="0.12" stop-color="#5600a6"/><stop offset="0.133" stop-color="#5600a8"/><stop offset="0.166" stop-color="#5f01c3"/><stop offset="0.182" stop-color="#5e01c0"/><stop offset="0.217" stop-color="#5600a8"/><stop offset="0.285" stop-color="#520099"/><stop offset="0.364" stop-color="#52009b"/><stop offset="0.421" stop-color="#5700ab"/><stop offset="0.459" stop-color="#5c01bc"/><stop offset="0.495" stop-color="#5900b1"/><stop offset="0.516" stop-color="#53009f"/><stop offset="0.541" stop-color="#4b0084"/><stop offset="0.582" stop-color="#470077"/><stop offset="0.641" stop-color="#48007b"/><stop offset="0.666" stop-color="#4e008d"/><stop offset="0.679" stop-color="#53009f"/><stop offset="0.688" stop-color="#5600a6"/><stop offset="0.696" stop-color="#5d01be"/><stop offset="0.707" stop-color="#7002ee"/><stop offset="0.712" stop-color="#7803fb"/><stop offset="0.726" stop-color="#8204ff"/><stop offset="0.764" stop-color="#8c07f3"/><stop offset="0.812" stop-color="#8f08eb"/><stop offset="0.84" stop-color="#950ad6"/><stop offset="0.853" stop-color="#950ad8"/><stop offset="0.875" stop-color="#8c07f2"/><stop offset="0.913" stop-color="#8906f8"/><stop offset="1" stop-color="#8806f9"/></linearGradient><linearGradient id="g48"><stop offset="0" stop-color="#6c01e7"/><stop offset="0.065" stop-color="#6401d3"/><stop offset="0.095" stop-color="#5e01c0"/><stop offset="0.12" stop-color="#5700a9"/><stop offset="0.136" stop-color="#5800ad"/><stop offset="0.166" stop-color="#6001c6"/><stop offset="0.182" stop-color="#5f01c4"/><stop offset="0.215" stop-color="#5800ac"/><stop offset="0.28" stop-color="#52009c"/><stop offset="0.359" stop-color="#53009d"/><stop offset="0.418" stop-color="#5800ae"/><stop offset="0.459" stop-color="#5d01be"/><stop offset="0.495" stop-color="#5a00b3"/><stop offset="0.516" stop-color="#5400a2"/><stop offset="0.541" stop-color="#4c0087"/><stop offset="0.579" stop-color="#48007b"/><stop offset="0.639" stop-color="#49007f"/><stop offset="0.663" stop-color="#4e008f"/><stop offset="0.679" stop-color="#5400a2"/><stop offset="0.688" stop-color="#5700a9"/><stop offset="0.696" stop-color="#5e01c1"/><stop offset="0.707" stop-color="#7002ef"/><stop offset="0.712" stop-color="#7803fb"/><stop offset="0.723" stop-color="#8104ff"/><stop offset="0.758" stop-color="#8c07f1"/><stop offset="0.807" stop-color="#9008e7"/><stop offset="0.837" stop-color="#970bcd"/><stop offset="0.853" stop-color="#970bce"/><stop offset="0.875" stop-color="#8e08ec"/><stop offset="0.897" stop-color="#8b07f3"/><stop offset="1" stop-color="#8a06f6"/></linearGradient><linearGradient id="g49"><stop offset="0" stop-color="#6d02e8"/><stop offset="0.068" stop-color="#6501d6"/><stop offset="0.095" stop-color="#5f01c5"/><stop offset="0.117" stop-color="#5800ae"/><stop offset="0.13" stop-color="#5800ad"/><stop offset="0.168" stop-color="#6101ca"/><stop offset="0.188" stop-color="#5f01c3"/><stop offset="0.22" stop-color="#5800ad"/><stop offset="0.283" stop-color="#53009e"/><stop offset="0.356" stop-color="#54009f"/><stop offset="0.427" stop-color="#5a00b4"/><stop offset="0.457" stop-color="#5e01bf"/><stop offset="0.489" stop-color="#5b01b8"/><stop offset="0.514" stop-color="#5600a7"/><stop offset="0.541" stop-color="#4d0089"/><stop offset="0.584" stop-color="#49007e"/><stop offset="0.644" stop-color="#4c0086"/><stop offset="0.668" stop-color="#52009a"/><stop offset="0.688" stop-color="#5800ac"/><stop offset="0.696" stop-color="#5f01c3"/><stop offset="0.707" stop-color="#7102f0"/><stop offset="0.712" stop-color="#7903fc"/><stop offset="0.726" stop-color="#8305fe"/><stop offset="0.764" stop-color="#8e08ee"/><stop offset="0.802" stop-color="#9109e4"/><stop offset="0.837" stop-color="#990cc2"/><stop offset="0.853" stop-color="#990cc3"/><stop offset="0.875" stop-color="#9108e6"/><stop offset="0.902" stop-color="#8d07ef"/><stop offset="1" stop-color="#8c07f2"/></linearGradient><linearGradient id="g50"><stop offset="0" stop-color="#6e02ea"/><stop offset="0.073" stop-color="#6601d8"/><stop offset="0.095" stop-color="#6101ca"/><stop offset="0.12" stop-color="#5900b0"/><stop offset="0.133" stop-color="#5900b2"/><stop offset="0.168" stop-color="#6201cd"/><stop offset="0.188" stop-color="#6001c6"/><stop offset="0.22" stop-color="#5900b0"/><stop offset="0.272" stop-color="#5400a2"/><stop offset="0.348" stop-color="#5400a0"/><stop offset="0.427" stop-color="#5b01b7"/><stop offset="0.459" stop-color="#5e01c1"/><stop offset="0.492" stop-color="#5b01b8"/><stop offset="0.514" stop-color="#5700a9"/><stop offset="0.538" stop-color="#4e008e"/><stop offset="0.573" stop-color="#4b0082"/><stop offset="0.628" stop-color="#4c0087"/><stop offset="0.655" stop-color="#500093"/><stop offset="0.679" stop-color="#5700a9"/><stop offset="0.688" stop-color="#5800af"/><stop offset="0.696" stop-color="#6001c5"/><stop offset="0.707" stop-color="#7102f2"/><stop offset="0.715" stop-color="#7c03fe"/><stop offset="0.731" stop-color="#8605fb"/><stop offset="0.766" stop-color="#8f08ea"/><stop offset="0.802" stop-color="#9309df"/><stop offset="0.829" stop-color="#9a0cbf"/><stop offset="0.851" stop-color="#9c0db4"/><stop offset="0.856" stop-color="#9b0db9"/><stop offset="0.872" stop-color="#940ada"/><stop offset="0.891" stop-color="#9008e7"/><stop offset="0.946" stop-color="#8f08ec"/><stop offset="1" stop-color="#8d07ef"/></linearGradient><linearGradient id="g51"><stop offset="0" stop-color="#6e02eb"/><stop offset="0.073" stop-color="#6801dc"/><stop offset="0.092" stop-color="#6401d1"/><stop offset="0.117" stop-color="#5a01b5"/><stop offset="0.13" stop-color="#5a00b4"/><stop offset="0.166" stop-color="#6301cf"/><stop offset="0.185" stop-color="#6201cb"/><stop offset="0.226" stop-color="#5900b1"/><stop offset="0.274" stop-color="#5500a4"/><stop offset="0.348" stop-color="#5400a2"/><stop offset="0.459" stop-color="#5f01c3"/><stop offset="0.503" stop-color="#5a01b5"/><stop offset="0.541" stop-color="#4e008e"/><stop offset="0.584" stop-color="#4b0085"/><stop offset="0.644" stop-color="#4f0092"/><stop offset="0.671" stop-color="#5600a6"/><stop offset="0.688" stop-color="#5900b1"/><stop offset="0.696" stop-color="#6001c7"/><stop offset="0.707" stop-color="#7202f3"/><stop offset="0.712" stop-color="#7a03fd"/><stop offset="0.726" stop-color="#8405fe"/><stop offset="0.764" stop-color="#9008e8"/><stop offset="0.799" stop-color="#940adb"/><stop offset="0.821" stop-color="#9b0dbd"/><stop offset="0.853" stop-color="#9f0fa3"/><stop offset="0.87" stop-color="#970bcc"/><stop offset="0.883" stop-color="#940adb"/><stop offset="0.916" stop-color="#9108e6"/><stop offset="0.995" stop-color="#9008e9"/><stop offset="1" stop-color="#8f08eb"/></linearGradient><linearGradient id="g52"><stop offset="0" stop-color="#6f02ed"/><stop offset="0.079" stop-color="#6901de"/><stop offset="0.098" stop-color="#6301d0"/><stop offset="0.12" stop-color="#5b01b7"/><stop offset="0.136" stop-color="#5c01ba"/><stop offset="0.166" stop-color="#6401d1"/><stop offset="0.182" stop-color="#6301d0"/><stop offset="0.228" stop-color="#5a00b2"/><stop offset="0.285" stop-color="#5500a5"/><stop offset="0.353" stop-color="#5500a5"/><stop offset="0.457" stop-color="#5f01c4"/><stop offset="0.492" stop-color="#5c01bc"/><stop offset="0.516" stop-color="#5700aa"/><stop offset="0.538" stop-color="#4f0092"/><stop offset="0.579" stop-color="#4c0088"/><stop offset="0.628" stop-color="#4f0092"/><stop offset="0.663" stop-color="#5500a3"/><stop offset="0.679" stop-color="#5800af"/><stop offset="0.688" stop-color="#5a00b4"/><stop offset="0.696" stop-color="#6101c9"/><stop offset="0.707" stop-color="#7302f4"/><stop offset="0.712" stop-color="#7a03fd"/><stop offset="0.728" stop-color="#8605fc"/><stop offset="0.764" stop-color="#9108e6"/><stop offset="0.799" stop-color="#950ad5"/><stop offset="0.81" stop-color="#990cc2"/><stop offset="0.818" stop-color="#9c0db6"/><stop offset="0.84" stop-color="#9f0fa6"/><stop offset="0.851" stop-color="#a3118c"/><stop offset="0.853" stop-color="#a3118b"/><stop offset="0.856" stop-color="#a21191"/><stop offset="0.864" stop-color="#9c0eb4"/><stop offset="0.878" stop-color="#970bcd"/><stop offset="0.899" stop-color="#9309dd"/><stop offset="0.965" stop-color="#9309df"/><stop offset="0.997" stop-color="#9109e5"/><stop offset="1" stop-color="#9008e7"/></linearGradient><linearGradient id="g53"><stop offset="0" stop-color="#7002ee"/><stop offset="0.079" stop-color="#6a01e2"/><stop offset="0.095" stop-color="#6601d7"/><stop offset="0.12" stop-color="#5c01ba"/><stop offset="0.136" stop-color="#5d01bd"/><stop offset="0.166" stop-color="#6501d4"/><stop offset="0.182" stop-color="#6401d3"/><stop offset="0.228" stop-color="#5a01b5"/><stop offset="0.274" stop-color="#5700a9"/><stop offset="0.348" stop-color="#5600a6"/><stop offset="0.454" stop-color="#6001c5"/><stop offset="0.486" stop-color="#5e01bf"/><stop offset="0.511" stop-color="#5900b1"/><stop offset="0.541" stop-color="#4f0092"/><stop offset="0.59" stop-color="#4d008b"/><stop offset="0.66" stop-color="#5500a5"/><stop offset="0.679" stop-color="#5900b1"/><stop offset="0.688" stop-color="#5b01b6"/><stop offset="0.696" stop-color="#6201cb"/><stop offset="0.707" stop-color="#7302f4"/><stop offset="0.712" stop-color="#7b03fd"/><stop offset="0.726" stop-color="#8405fd"/><stop offset="0.753" stop-color="#9008e9"/><stop offset="0.796" stop-color="#960bd2"/><stop offset="0.807" stop-color="#9a0cc0"/><stop offset="0.815" stop-color="#9d0eae"/><stop offset="0.837" stop-color="#9f0fa4"/><stop offset="0.842" stop-color="#a11097"/><stop offset="0.851" stop-color="#a71470"/><stop offset="0.853" stop-color="#a7146d"/><stop offset="0.856" stop-color="#a61376"/><stop offset="0.861" stop-color="#a1109a"/><stop offset="0.867" stop-color="#9d0eae"/><stop offset="0.886" stop-color="#970bcc"/><stop offset="0.902" stop-color="#950ad7"/><stop offset="0.981" stop-color="#940ada"/><stop offset="1" stop-color="#9209e2"/></linearGradient><linearGradient id="g54"><stop offset="0" stop-color="#7102f0"/><stop offset="0.082" stop-color="#6b01e5"/><stop offset="0.098" stop-color="#6601d8"/><stop offset="0.12" stop-color="#5d01be"/><stop offset="0.133" stop-color="#5e01bf"/><stop offset="0.166" stop-color="#6601d7"/><stop offset="0.185" stop-color="#6501d4"/><stop offset="0.234" stop-color="#5b01b5"/><stop offset="0.304" stop-color="#5600a8"/><stop offset="0.356" stop-color="#5700aa"/><stop offset="0.446" stop-color="#5f01c5"/><stop offset="0.478" stop-color="#5f01c3"/><stop offset="0.508" stop-color="#5a01b5"/><stop offset="0.541" stop-color="#500094"/><stop offset="0.59" stop-color="#4e008e"/><stop offset="0.66" stop-color="#5700a9"/><stop offset="0.679" stop-color="#5a00b4"/><stop offset="0.688" stop-color="#5b01b8"/><stop offset="0.696" stop-color="#6201cd"/><stop offset="0.707" stop-color="#7402f5"/><stop offset="0.712" stop-color="#7b03fd"/><stop offset="0.726" stop-color="#8505fd"/><stop offset="0.761" stop-color="#9209e2"/><stop offset="0.796" stop-color="#970bcc"/><stop offset="0.807" stop-color="#9c0db7"/><stop offset="0.815" stop-color="#9f0fa4"/><stop offset="0.837" stop-color="#a0109d"/><stop offset="0.842" stop-color="#a3118c"/><stop offset="0.848" stop-color="#a81567"/><stop offset="0.851" stop-color="#ab1753"/><stop offset="0.853" stop-color="#ab174c"/><stop offset="0.856" stop-color="#aa1659"/><stop offset="0.861" stop-color="#a31288"/><stop offset="0.864" stop-color="#a11097"/><stop offset="0.872" stop-color="#9e0eab"/><stop offset="0.894" stop-color="#970bcd"/><stop offset="0.924" stop-color="#960bd2"/><stop offset="0.97" stop-color="#960bd0"/><stop offset="1" stop-color="#9309de"/></linearGradient><linearGradient id="g55"><stop offset="0" stop-color="#7202f2"/><stop offset="0.076" stop-color="#6d02e9"/><stop offset="0.092" stop-color="#6a01e1"/><stop offset="0.12" stop-color="#5e01c1"/><stop offset="0.136" stop-color="#5f01c4"/><stop offset="0.166" stop-color="#6701da"/><stop offset="0.185" stop-color="#6601d7"/><stop offset="0.234" stop-color="#5b01b8"/><stop offset="0.296" stop-color="#5700ab"/><stop offset="0.353" stop-color="#5700ab"/><stop offset="0.438" stop-color="#5f01c4"/><stop offset="0.473" stop-color="#6001c5"/><stop offset="0.508" stop-color="#5b01b6"/><stop offset="0.538" stop-color="#510097"/><stop offset="0.587" stop-color="#4f0090"/><stop offset="0.658" stop-color="#5700ab"/><stop offset="0.677" stop-color="#5b01b6"/><stop offset="0.688" stop-color="#5c01ba"/><stop offset="0.696" stop-color="#6301ce"/><stop offset="0.707" stop-color="#7402f6"/><stop offset="0.715" stop-color="#7e04ff"/><stop offset="0.728" stop-color="#8706fa"/><stop offset="0.761" stop-color="#9309df"/><stop offset="0.793" stop-color="#980bc9"/><stop offset="0.804" stop-color="#9c0db6"/><stop offset="0.812" stop-color="#a0109e"/><stop offset="0.821" stop-color="#a11098"/><stop offset="0.834" stop-color="#a11099"/><stop offset="0.84" stop-color="#a2118e"/><stop offset="0.842" stop-color="#a41280"/><stop offset="0.845" stop-color="#a7146c"/><stop offset="0.851" stop-color="#ae1a38"/><stop offset="0.853" stop-color="#af1b2f"/><stop offset="0.856" stop-color="#ad193e"/><stop offset="0.861" stop-color="#a61376"/><stop offset="0.864" stop-color="#a31288"/><stop offset="0.87" stop-color="#a11098"/><stop offset="0.894" stop-color="#990cc5"/><stop offset="0.91" stop-color="#980bca"/><stop offset="0.965" stop-color="#990cc6"/><stop offset="1" stop-color="#940ad9"/></linearGradient><linearGradient id="g56"><stop offset="0" stop-color="#7302f4"/><stop offset="0.076" stop-color="#6e02ec"/><stop offset="0.095" stop-color="#6a01e1"/><stop offset="0.12" stop-color="#6001c5"/><stop offset="0.133" stop-color="#6001c6"/><stop offset="0.166" stop-color="#6801dd"/><stop offset="0.188" stop-color="#6601d9"/><stop offset="0.234" stop-color="#5c01bb"/><stop offset="0.299" stop-color="#5800ad"/><stop offset="0.353" stop-color="#5800ad"/><stop offset="0.44" stop-color="#6001c5"/><stop offset="0.476" stop-color="#5f01c5"/><stop offset="0.508" stop-color="#5b01b7"/><stop offset="0.541" stop-color="#510097"/><stop offset="0.592" stop-color="#500093"/><stop offset="0.666" stop-color="#5a00b3"/><stop offset="0.688" stop-color="#5d01bc"/><stop offset="0.696" stop-color="#6301d0"/><stop offset="0.707" stop-color="#7402f6"/><stop offset="0.715" stop-color="#7e04ff"/><stop offset="0.728" stop-color="#8706fa"/><stop offset="0.761" stop-color="#9309dd"/><stop offset="0.791" stop-color="#990cc6"/><stop offset="0.802" stop-color="#9c0eb3"/><stop offset="0.815" stop-color="#a2118f"/><stop offset="0.834" stop-color="#a2118f"/><stop offset="0.84" stop-color="#a41283"/><stop offset="0.842" stop-color="#a61473"/><stop offset="0.845" stop-color="#aa165b"/><stop offset="0.851" stop-color="#b11c20"/><stop offset="0.853" stop-color="#b21d16"/><stop offset="0.856" stop-color="#b01b26"/><stop offset="0.861" stop-color="#a81565"/><stop offset="0.864" stop-color="#a61378"/><stop offset="0.87" stop-color="#a3118a"/><stop offset="0.886" stop-color="#9d0ead"/><stop offset="0.897" stop-color="#9a0cc1"/><stop offset="0.929" stop-color="#9a0cc0"/><stop offset="0.957" stop-color="#9b0dbc"/><stop offset="0.976" stop-color="#990cc3"/><stop offset="1" stop-color="#950ad5"/></linearGradient><linearGradient id="g57"><stop offset="0" stop-color="#7402f6"/><stop offset="0.068" stop-color="#7102f0"/><stop offset="0.09" stop-color="#6d02e8"/><stop offset="0.12" stop-color="#6101c9"/><stop offset="0.13" stop-color="#6101c8"/><stop offset="0.168" stop-color="#6a01e1"/><stop offset="0.188" stop-color="#6801dc"/><stop offset="0.231" stop-color="#5e01c0"/><stop offset="0.288" stop-color="#5900b1"/><stop offset="0.348" stop-color="#5800ae"/><stop offset="0.451" stop-color="#6001c7"/><stop offset="0.489" stop-color="#5e01c1"/><stop offset="0.516" stop-color="#5900b0"/><stop offset="0.538" stop-color="#52009a"/><stop offset="0.587" stop-color="#500095"/><stop offset="0.658" stop-color="#5900b0"/><stop offset="0.679" stop-color="#5c01bb"/><stop offset="0.688" stop-color="#5d01be"/><stop offset="0.696" stop-color="#6401d2"/><stop offset="0.707" stop-color="#7502f7"/><stop offset="0.715" stop-color="#7e04ff"/><stop offset="0.728" stop-color="#8706fa"/><stop offset="0.755" stop-color="#9309de"/><stop offset="0.788" stop-color="#990cc3"/><stop offset="0.802" stop-color="#9e0eaa"/><stop offset="0.812" stop-color="#a31289"/><stop offset="0.821" stop-color="#a41281"/><stop offset="0.834" stop-color="#a41282"/><stop offset="0.837" stop-color="#a5137e"/><stop offset="0.84" stop-color="#a61474"/><stop offset="0.842" stop-color="#a81563"/><stop offset="0.845" stop-color="#ac184a"/><stop offset="0.851" stop-color="#b31e0d"/><stop offset="0.853" stop-color="#b42002"/><stop offset="0.856" stop-color="#b21e13"/><stop offset="0.861" stop-color="#aa1754"/><stop offset="0.864" stop-color="#a81568"/><stop offset="0.87" stop-color="#a5137b"/><stop offset="0.883" stop-color="#a0109b"/><stop offset="0.894" stop-color="#9c0db6"/><stop offset="0.905" stop-color="#9b0dbc"/><stop offset="0.954" stop-color="#9c0eb3"/><stop offset="0.973" stop-color="#9b0db9"/><stop offset="1" stop-color="#970bd0"/></linearGradient><linearGradient id="g58"><stop offset="0" stop-color="#7603f9"/><stop offset="0.065" stop-color="#7202f3"/><stop offset="0.09" stop-color="#6e02eb"/><stop offset="0.12" stop-color="#6201cc"/><stop offset="0.136" stop-color="#6301cf"/><stop offset="0.166" stop-color="#6b01e4"/><stop offset="0.185" stop-color="#6a01e1"/><stop offset="0.228" stop-color="#6001c5"/><stop offset="0.283" stop-color="#5a01b5"/><stop offset="0.345" stop-color="#5900af"/><stop offset="0.451" stop-color="#6001c7"/><stop offset="0.486" stop-color="#5f01c2"/><stop offset="0.514" stop-color="#5a00b3"/><stop offset="0.541" stop-color="#52009a"/><stop offset="0.592" stop-color="#510097"/><stop offset="0.668" stop-color="#5c01b9"/><stop offset="0.688" stop-color="#5e01c0"/><stop offset="0.693" stop-color="#6101ca"/><stop offset="0.707" stop-color="#7502f7"/><stop offset="0.715" stop-color="#7e04ff"/><stop offset="0.728" stop-color="#8806fa"/><stop offset="0.761" stop-color="#950ad8"/><stop offset="0.788" stop-color="#9b0dbd"/><stop offset="0.799" stop-color="#9e0fa7"/><stop offset="0.815" stop-color="#a61379"/><stop offset="0.834" stop-color="#a61473"/><stop offset="0.84" stop-color="#a81564"/><stop offset="0.842" stop-color="#ab1752"/><stop offset="0.845" stop-color="#ae1a38"/><stop offset="0.848" stop-color="#b21d18"/><stop offset="0.851" stop-color="#b52000"/><stop offset="0.856" stop-color="#b42001"/><stop offset="0.861" stop-color="#ad1843"/><stop offset="0.864" stop-color="#aa1658"/><stop offset="0.87" stop-color="#a7146c"/><stop offset="0.88" stop-color="#a41287"/><stop offset="0.894" stop-color="#9d0eaf"/><stop offset="0.905" stop-color="#9c0db5"/><stop offset="0.932" stop-color="#9e0eac"/><stop offset="0.959" stop-color="#9e0eaa"/><stop offset="0.976" stop-color="#9c0db5"/><stop offset="1" stop-color="#980bcb"/></linearGradient><linearGradient id="g59"><stop offset="0" stop-color="#7903fc"/><stop offset="0.065" stop-color="#7402f5"/><stop offset="0.095" stop-color="#6d02e8"/><stop offset="0.122" stop-color="#6301cf"/><stop offset="0.139" stop-color="#6501d5"/><stop offset="0.166" stop-color="#6c02e7"/><stop offset="0.185" stop-color="#6b01e4"/><stop offset="0.231" stop-color="#6001c7"/><stop offset="0.312" stop-color="#5a00b2"/><stop offset="0.361" stop-color="#5a00b4"/><stop offset="0.457" stop-color="#6001c7"/><stop offset="0.495" stop-color="#5e01bf"/><stop offset="0.516" stop-color="#5900b1"/><stop offset="0.541" stop-color="#52009c"/><stop offset="0.592" stop-color="#520099"/><stop offset="0.668" stop-color="#5c01bb"/><stop offset="0.688" stop-color="#5e01c1"/><stop offset="0.696" stop-color="#6501d4"/><stop offset="0.707" stop-color="#7502f8"/><stop offset="0.717" stop-color="#8004ff"/><stop offset="0.728" stop-color="#8806f9"/><stop offset="0.761" stop-color="#950ad6"/><stop offset="0.783" stop-color="#9a0cbf"/><stop offset="0.796" stop-color="#9f0fa5"/><stop offset="0.815" stop-color="#a7146d"/><stop offset="0.834" stop-color="#a91561"/><stop offset="0.84" stop-color="#ab1751"/><stop offset="0.842" stop-color="#ad193f"/><stop offset="0.845" stop-color="#b01c26"/><stop offset="0.848" stop-color="#b41f06"/><stop offset="0.851" stop-color="#b72300"/><stop offset="0.856" stop-color="#b62200"/><stop offset="0.859" stop-color="#b21e10"/><stop offset="0.861" stop-color="#af1a31"/><stop offset="0.864" stop-color="#ac1847"/><stop offset="0.87" stop-color="#a9165c"/><stop offset="0.883" stop-color="#a41284"/><stop offset="0.894" stop-color="#9f0fa6"/><stop offset="0.902" stop-color="#9d0eae"/><stop offset="0.929" stop-color="#9f0fa4"/><stop offset="0.946" stop-color="#a0109e"/><stop offset="0.967" stop-color="#9f0fa4"/><stop offset="1" stop-color="#990cc6"/></linearGradient><linearGradient id="g60"><stop offset="0" stop-color="#7b03fd"/><stop offset="0.065" stop-color="#7502f7"/><stop offset="0.095" stop-color="#6e02ea"/><stop offset="0.12" stop-color="#6501d4"/><stop offset="0.136" stop-color="#6601d7"/><stop offset="0.166" stop-color="#6e02ea"/><stop offset="0.182" stop-color="#6d02e9"/><stop offset="0.226" stop-color="#6201cd"/><stop offset="0.312" stop-color="#5a00b4"/><stop offset="0.367" stop-color="#5b01b6"/><stop offset="0.459" stop-color="#6001c7"/><stop offset="0.503" stop-color="#5d01bc"/><stop offset="0.541" stop-color="#53009d"/><stop offset="0.595" stop-color="#52009b"/><stop offset="0.668" stop-color="#5d01bd"/><stop offset="0.688" stop-color="#5f01c3"/><stop offset="0.696" stop-color="#6501d5"/><stop offset="0.707" stop-color="#7602f8"/><stop offset="0.717" stop-color="#8004ff"/><stop offset="0.728" stop-color="#8806f9"/><stop offset="0.761" stop-color="#960ad3"/><stop offset="0.777" stop-color="#990cc3"/><stop offset="0.793" stop-color="#9f0fa3"/><stop offset="0.81" stop-color="#a71471"/><stop offset="0.815" stop-color="#a91660"/><stop offset="0.826" stop-color="#aa1755"/><stop offset="0.834" stop-color="#ab174e"/><stop offset="0.84" stop-color="#ad193c"/><stop offset="0.842" stop-color="#af1b2b"/><stop offset="0.845" stop-color="#b21e12"/><stop offset="0.848" stop-color="#b62100"/><stop offset="0.853" stop-color="#ba2600"/><stop offset="0.859" stop-color="#b52000"/><stop offset="0.861" stop-color="#b11c1e"/><stop offset="0.864" stop-color="#ae1a34"/><stop offset="0.87" stop-color="#ac184b"/><stop offset="0.88" stop-color="#a7146c"/><stop offset="0.891" stop-color="#a11095"/><stop offset="0.897" stop-color="#9f0fa1"/><stop offset="0.908" stop-color="#9f0fa4"/><stop offset="0.935" stop-color="#a11095"/><stop offset="0.954" stop-color="#a21193"/><stop offset="0.967" stop-color="#a1109a"/><stop offset="1" stop-color="#9a0cc0"/></linearGradient><linearGradient id="g61"><stop offset="0" stop-color="#7d04ff"/><stop offset="0.062" stop-color="#7603f9"/><stop offset="0.092" stop-color="#7002ee"/><stop offset="0.122" stop-color="#6601d7"/><stop offset="0.139" stop-color="#6801dc"/><stop offset="0.166" stop-color="#6f02ed"/><stop offset="0.185" stop-color="#6e02ea"/><stop offset="0.228" stop-color="#6301cf"/><stop offset="0.315" stop-color="#5b01b6"/><stop offset="0.359" stop-color="#5b01b6"/><stop offset="0.465" stop-color="#6001c7"/><stop offset="0.508" stop-color="#5c01b9"/><stop offset="0.541" stop-color="#53009e"/><stop offset="0.595" stop-color="#53009d"/><stop offset="0.666" stop-color="#5d01bd"/><stop offset="0.682" stop-color="#5f01c2"/><stop offset="0.69" stop-color="#6101c8"/><stop offset="0.701" stop-color="#6d02e9"/><stop offset="0.707" stop-color="#7603f9"/><stop offset="0.717" stop-color="#8004ff"/><stop offset="0.731" stop-color="#8a06f6"/><stop offset="0.761" stop-color="#960bd1"/><stop offset="0.777" stop-color="#9a0cbf"/><stop offset="0.791" stop-color="#9f0fa2"/><stop offset="0.81" stop-color="#a91563"/><stop offset="0.815" stop-color="#ab174f"/><stop offset="0.826" stop-color="#ad1942"/><stop offset="0.834" stop-color="#ae1939"/><stop offset="0.84" stop-color="#b01b27"/><stop offset="0.845" stop-color="#b52000"/><stop offset="0.853" stop-color="#bc2900"/><stop offset="0.859" stop-color="#b72300"/><stop offset="0.861" stop-color="#b31f09"/><stop offset="0.864" stop-color="#b11c1f"/><stop offset="0.87" stop-color="#ae1a38"/><stop offset="0.88" stop-color="#aa165b"/><stop offset="0.891" stop-color="#a31288"/><stop offset="0.897" stop-color="#a11096"/><stop offset="0.908" stop-color="#a11098"/><stop offset="0.929" stop-color="#a3118b"/><stop offset="0.946" stop-color="#a41284"/><stop offset="0.965" stop-color="#a3118a"/><stop offset="0.997" stop-color="#9c0db6"/><stop offset="1" stop-color="#9b0db9"/></linearGradient><linearGradient id="g62"><stop offset="0" stop-color="#7f04ff"/><stop offset="0.065" stop-color="#7703fa"/><stop offset="0.098" stop-color="#6e02ec"/><stop offset="0.122" stop-color="#6701da"/><stop offset="0.144" stop-color="#6b01e3"/><stop offset="0.166" stop-color="#7102f0"/><stop offset="0.188" stop-color="#6e02eb"/><stop offset="0.226" stop-color="#6501d3"/><stop offset="0.318" stop-color="#5b01b7"/><stop offset="0.372" stop-color="#5c01b9"/><stop offset="0.465" stop-color="#6001c7"/><stop offset="0.505" stop-color="#5c01bb"/><stop offset="0.541" stop-color="#54009f"/><stop offset="0.595" stop-color="#53009e"/><stop offset="0.668" stop-color="#5e01c0"/><stop offset="0.682" stop-color="#5f01c4"/><stop offset="0.69" stop-color="#6101ca"/><stop offset="0.707" stop-color="#7603f9"/><stop offset="0.717" stop-color="#8104ff"/><stop offset="0.731" stop-color="#8a06f6"/><stop offset="0.761" stop-color="#970bcf"/><stop offset="0.777" stop-color="#9b0dbc"/><stop offset="0.791" stop-color="#a1109a"/><stop offset="0.807" stop-color="#a9165e"/><stop offset="0.815" stop-color="#ae193a"/><stop offset="0.821" stop-color="#af1a30"/><stop offset="0.834" stop-color="#b11c21"/><stop offset="0.84" stop-color="#b31e0f"/><stop offset="0.842" stop-color="#b52000"/><stop offset="0.853" stop-color="#bf2d00"/><stop offset="0.861" stop-color="#b62200"/><stop offset="0.864" stop-color="#b31f08"/><stop offset="0.87" stop-color="#b01c22"/><stop offset="0.88" stop-color="#ac1848"/><stop offset="0.891" stop-color="#a61378"/><stop offset="0.897" stop-color="#a41287"/><stop offset="0.908" stop-color="#a3118a"/><stop offset="0.929" stop-color="#a5137b"/><stop offset="0.943" stop-color="#a61473"/><stop offset="0.965" stop-color="#a5137b"/><stop offset="0.997" stop-color="#9e0eac"/><stop offset="1" stop-color="#9d0eaf"/></linearGradient><linearGradient id="g63"><stop offset="0" stop-color="#8104ff"/><stop offset="0.065" stop-color="#7803fb"/><stop offset="0.095" stop-color="#7002f0"/><stop offset="0.122" stop-color="#6801dd"/><stop offset="0.144" stop-color="#6c01e6"/><stop offset="0.168" stop-color="#7202f2"/><stop offset="0.188" stop-color="#6f02ed"/><stop offset="0.223" stop-color="#6601d7"/><stop offset="0.315" stop-color="#5c01b9"/><stop offset="0.367" stop-color="#5c01b9"/><stop offset="0.462" stop-color="#6001c7"/><stop offset="0.505" stop-color="#5c01bb"/><stop offset="0.541" stop-color="#5400a0"/><stop offset="0.598" stop-color="#5400a0"/><stop offset="0.671" stop-color="#5f01c4"/><stop offset="0.688" stop-color="#6101c8"/><stop offset="0.693" stop-color="#6401d1"/><stop offset="0.707" stop-color="#7703f9"/><stop offset="0.715" stop-color="#7f04ff"/><stop offset="0.728" stop-color="#8806f8"/><stop offset="0.758" stop-color="#970bcf"/><stop offset="0.777" stop-color="#9c0db8"/><stop offset="0.791" stop-color="#a21192"/><stop offset="0.807" stop-color="#ab184c"/><stop offset="0.815" stop-color="#b11c21"/><stop offset="0.823" stop-color="#b21e13"/><stop offset="0.834" stop-color="#b31f08"/><stop offset="0.837" stop-color="#b42001"/><stop offset="0.848" stop-color="#be2b00"/><stop offset="0.853" stop-color="#c23100"/><stop offset="0.867" stop-color="#b42000"/><stop offset="0.88" stop-color="#af1a32"/><stop offset="0.891" stop-color="#a81566"/><stop offset="0.897" stop-color="#a61376"/><stop offset="0.905" stop-color="#a51379"/><stop offset="0.929" stop-color="#a81569"/><stop offset="0.943" stop-color="#a91560"/><stop offset="0.965" stop-color="#a8156a"/><stop offset="0.992" stop-color="#a11099"/><stop offset="1" stop-color="#9f0fa4"/></linearGradient><linearGradient id="g64"><stop offset="0" stop-color="#8305fe"/><stop offset="0.065" stop-color="#7903fc"/><stop offset="0.098" stop-color="#7002f0"/><stop offset="0.12" stop-color="#6a01e1"/><stop offset="0.139" stop-color="#6c01e5"/><stop offset="0.166" stop-color="#7302f4"/><stop offset="0.188" stop-color="#7002ef"/><stop offset="0.223" stop-color="#6701d9"/><stop offset="0.321" stop-color="#5c01b9"/><stop offset="0.383" stop-color="#5d01bc"/><stop offset="0.47" stop-color="#6001c6"/><stop offset="0.511" stop-color="#5b01b8"/><stop offset="0.541" stop-color="#5400a1"/><stop offset="0.595" stop-color="#5400a1"/><stop offset="0.668" stop-color="#5f01c4"/><stop offset="0.682" stop-color="#6001c8"/><stop offset="0.69" stop-color="#6201cd"/><stop offset="0.707" stop-color="#7703fa"/><stop offset="0.717" stop-color="#8104ff"/><stop offset="0.731" stop-color="#8b07f5"/><stop offset="0.758" stop-color="#970bcc"/><stop offset="0.774" stop-color="#9b0db9"/><stop offset="0.785" stop-color="#a0109d"/><stop offset="0.796" stop-color="#a71471"/><stop offset="0.807" stop-color="#ae1939"/><stop offset="0.815" stop-color="#b31f08"/><stop offset="0.818" stop-color="#b42000"/><stop offset="0.84" stop-color="#b82400"/><stop offset="0.853" stop-color="#c43500"/><stop offset="0.867" stop-color="#b72300"/><stop offset="0.872" stop-color="#b52000"/><stop offset="0.878" stop-color="#b21e10"/><stop offset="0.891" stop-color="#ab1752"/><stop offset="0.897" stop-color="#a91562"/><stop offset="0.902" stop-color="#a81566"/><stop offset="0.924" stop-color="#aa165a"/><stop offset="0.94" stop-color="#ab174d"/><stop offset="0.962" stop-color="#aa1755"/><stop offset="0.973" stop-color="#a81567"/><stop offset="0.995" stop-color="#a21190"/><stop offset="1" stop-color="#a11098"/></linearGradient><linearGradient id="g65"><stop offset="0" stop-color="#8505fd"/><stop offset="0.062" stop-color="#7a03fd"/><stop offset="0.095" stop-color="#7202f3"/><stop offset="0.125" stop-color="#6b01e3"/><stop offset="0.168" stop-color="#7402f6"/><stop offset="0.19" stop-color="#7002ee"/><stop offset="0.223" stop-color="#6701db"/><stop offset="0.326" stop-color="#5c01b9"/><stop offset="0.427" stop-color="#5f01c2"/><stop offset="0.47" stop-color="#6001c6"/><stop offset="0.511" stop-color="#5b01b8"/><stop offset="0.541" stop-color="#5400a1"/><stop offset="0.598" stop-color="#5500a2"/><stop offset="0.668" stop-color="#6001c6"/><stop offset="0.682" stop-color="#6101ca"/><stop offset="0.69" stop-color="#6301cf"/><stop offset="0.707" stop-color="#7703fa"/><stop offset="0.717" stop-color="#8104ff"/><stop offset="0.728" stop-color="#8906f8"/><stop offset="0.758" stop-color="#980bc9"/><stop offset="0.774" stop-color="#9c0db4"/><stop offset="0.785" stop-color="#a11097"/><stop offset="0.793" stop-color="#a61474"/><stop offset="0.807" stop-color="#b01b27"/><stop offset="0.812" stop-color="#b42000"/><stop offset="0.842" stop-color="#bd2a00"/><stop offset="0.853" stop-color="#c73900"/><stop offset="0.867" stop-color="#ba2600"/><stop offset="0.878" stop-color="#b52000"/><stop offset="0.88" stop-color="#b31f07"/><stop offset="0.891" stop-color="#ad193e"/><stop offset="0.897" stop-color="#ab174e"/><stop offset="0.902" stop-color="#ab1753"/><stop offset="0.932" stop-color="#ad193f"/><stop offset="0.946" stop-color="#ae193a"/><stop offset="0.962" stop-color="#ac1843"/><stop offset="0.973" stop-color="#aa1656"/><stop offset="0.992" stop-color="#a5127f"/><stop offset="1" stop-color="#a3118d"/></linearGradient><linearGradient id="g66"><stop offset="0" stop-color="#8706fb"/><stop offset="0.049" stop-color="#7c03fe"/><stop offset="0.092" stop-color="#7402f6"/><stop offset="0.125" stop-color="#6c01e6"/><stop offset="0.171" stop-color="#7502f7"/><stop offset="0.193" stop-color="#7002ee"/><stop offset="0.226" stop-color="#6801db"/><stop offset="0.326" stop-color="#5c01ba"/><stop offset="0.413" stop-color="#5e01c0"/><stop offset="0.47" stop-color="#6001c6"/><stop offset="0.511" stop-color="#5b01b8"/><stop offset="0.541" stop-color="#5400a2"/><stop offset="0.598" stop-color="#5500a3"/><stop offset="0.671" stop-color="#6101ca"/><stop offset="0.688" stop-color="#6301cf"/><stop offset="0.696" stop-color="#6901df"/><stop offset="0.707" stop-color="#7803fb"/><stop offset="0.717" stop-color="#8204ff"/><stop offset="0.731" stop-color="#8b07f3"/><stop offset="0.758" stop-color="#990cc5"/><stop offset="0.774" stop-color="#9d0eaf"/><stop offset="0.785" stop-color="#a21190"/><stop offset="0.791" stop-color="#a61378"/><stop offset="0.807" stop-color="#b21d16"/><stop offset="0.81" stop-color="#b42002"/><stop offset="0.832" stop-color="#bb2700"/><stop offset="0.842" stop-color="#bf2d00"/><stop offset="0.851" stop-color="#c83b00"/><stop offset="0.856" stop-color="#c73a00"/><stop offset="0.867" stop-color="#bc2900"/><stop offset="0.883" stop-color="#b42001"/><stop offset="0.891" stop-color="#b01b2a"/><stop offset="0.897" stop-color="#ae193a"/><stop offset="0.902" stop-color="#ad193f"/><stop offset="0.929" stop-color="#af1b2e"/><stop offset="0.943" stop-color="#b01b27"/><stop offset="0.962" stop-color="#ae1a33"/><stop offset="0.973" stop-color="#ac1847"/><stop offset="0.992" stop-color="#a61474"/><stop offset="1" stop-color="#a41284"/></linearGradient><linearGradient id="g67"><stop offset="0" stop-color="#8806f8"/><stop offset="0.041" stop-color="#7e04ff"/><stop offset="0.092" stop-color="#7502f8"/><stop offset="0.125" stop-color="#6d02e9"/><stop offset="0.168" stop-color="#7602f8"/><stop offset="0.188" stop-color="#7202f3"/><stop offset="0.22" stop-color="#6901df"/><stop offset="0.323" stop-color="#5c01bb"/><stop offset="0.408" stop-color="#5e01bf"/><stop offset="0.47" stop-color="#6001c6"/><stop offset="0.511" stop-color="#5b01b8"/><stop offset="0.541" stop-color="#5500a2"/><stop offset="0.595" stop-color="#5500a3"/><stop offset="0.666" stop-color="#6101c8"/><stop offset="0.688" stop-color="#6401d3"/><stop offset="0.698" stop-color="#6e02ea"/><stop offset="0.707" stop-color="#7803fb"/><stop offset="0.717" stop-color="#8205fe"/><stop offset="0.728" stop-color="#8a06f5"/><stop offset="0.758" stop-color="#9a0cc0"/><stop offset="0.774" stop-color="#9e0fa9"/><stop offset="0.785" stop-color="#a31289"/><stop offset="0.791" stop-color="#a7146e"/><stop offset="0.802" stop-color="#b01c22"/><stop offset="0.807" stop-color="#b42003"/><stop offset="0.823" stop-color="#bc2800"/><stop offset="0.842" stop-color="#c12f00"/><stop offset="0.853" stop-color="#ca4000"/><stop offset="0.867" stop-color="#be2b00"/><stop offset="0.886" stop-color="#b52000"/><stop offset="0.894" stop-color="#b11c1f"/><stop offset="0.899" stop-color="#b01b28"/><stop offset="0.921" stop-color="#b01c22"/><stop offset="0.943" stop-color="#b21d15"/><stop offset="0.959" stop-color="#b11c1f"/><stop offset="0.97" stop-color="#af1a32"/><stop offset="0.992" stop-color="#a8156a"/><stop offset="1" stop-color="#a5137c"/></linearGradient><linearGradient id="g68"><stop offset="0" stop-color="#8a06f6"/><stop offset="0.038" stop-color="#7f04ff"/><stop offset="0.092" stop-color="#7603f9"/><stop offset="0.125" stop-color="#6f02ec"/><stop offset="0.171" stop-color="#7703f9"/><stop offset="0.19" stop-color="#7202f2"/><stop offset="0.228" stop-color="#6801dd"/><stop offset="0.323" stop-color="#5d01bc"/><stop offset="0.399" stop-color="#5d01be"/><stop offset="0.467" stop-color="#6001c6"/><stop offset="0.508" stop-color="#5c01ba"/><stop offset="0.538" stop-color="#5500a4"/><stop offset="0.595" stop-color="#5500a4"/><stop offset="0.666" stop-color="#6201cb"/><stop offset="0.688" stop-color="#6601d8"/><stop offset="0.707" stop-color="#7903fc"/><stop offset="0.717" stop-color="#8305fe"/><stop offset="0.728" stop-color="#8c07f3"/><stop offset="0.755" stop-color="#9a0dbe"/><stop offset="0.774" stop-color="#9f0fa2"/><stop offset="0.783" stop-color="#a3118c"/><stop offset="0.788" stop-color="#a61474"/><stop offset="0.793" stop-color="#ab174d"/><stop offset="0.799" stop-color="#b11c1e"/><stop offset="0.804" stop-color="#b42000"/><stop offset="0.823" stop-color="#bd2b00"/><stop offset="0.84" stop-color="#c12f00"/><stop offset="0.853" stop-color="#cc4300"/><stop offset="0.867" stop-color="#bf2e00"/><stop offset="0.891" stop-color="#b42001"/><stop offset="0.897" stop-color="#b31e10"/><stop offset="0.908" stop-color="#b21e13"/><stop offset="0.935" stop-color="#b41f06"/><stop offset="0.948" stop-color="#b41f05"/><stop offset="0.965" stop-color="#b21d16"/><stop offset="1" stop-color="#a61375"/></linearGradient><linearGradient id="g69"><stop offset="0" stop-color="#8c07f3"/><stop offset="0.033" stop-color="#8104ff"/><stop offset="0.092" stop-color="#7703fa"/><stop offset="0.125" stop-color="#7002ee"/><stop offset="0.171" stop-color="#7703fa"/><stop offset="0.19" stop-color="#7302f3"/><stop offset="0.223" stop-color="#6a01e1"/><stop offset="0.326" stop-color="#5d01bc"/><stop offset="0.427" stop-color="#5e01c1"/><stop offset="0.473" stop-color="#6001c5"/><stop offset="0.514" stop-color="#5b01b6"/><stop offset="0.541" stop-color="#5500a3"/><stop offset="0.598" stop-color="#5600a6"/><stop offset="0.666" stop-color="#6201cd"/><stop offset="0.688" stop-color="#6801dd"/><stop offset="0.707" stop-color="#7a03fd"/><stop offset="0.717" stop-color="#8405fe"/><stop offset="0.728" stop-color="#8d07f0"/><stop offset="0.755" stop-color="#9c0db8"/><stop offset="0.774" stop-color="#a0109c"/><stop offset="0.785" stop-color="#a5137b"/><stop offset="0.791" stop-color="#aa165a"/><stop offset="0.799" stop-color="#b31f0b"/><stop offset="0.802" stop-color="#b52100"/><stop offset="0.826" stop-color="#bf2d00"/><stop offset="0.842" stop-color="#c43500"/><stop offset="0.853" stop-color="#cd4600"/><stop offset="0.867" stop-color="#c13000"/><stop offset="0.899" stop-color="#b52000"/><stop offset="0.959" stop-color="#b42000"/><stop offset="0.967" stop-color="#b31e0e"/><stop offset="1" stop-color="#a7146f"/></linearGradient><linearGradient id="g70"><stop offset="0" stop-color="#8d07ef"/><stop offset="0.03" stop-color="#8305fe"/><stop offset="0.092" stop-color="#7803fb"/><stop offset="0.128" stop-color="#7102f1"/><stop offset="0.174" stop-color="#7803fb"/><stop offset="0.207" stop-color="#6d02e9"/><stop offset="0.329" stop-color="#5d01bc"/><stop offset="0.429" stop-color="#5e01c1"/><stop offset="0.473" stop-color="#5f01c4"/><stop offset="0.511" stop-color="#5b01b8"/><stop offset="0.541" stop-color="#5500a4"/><stop offset="0.598" stop-color="#5600a7"/><stop offset="0.663" stop-color="#6301ce"/><stop offset="0.685" stop-color="#6901de"/><stop offset="0.704" stop-color="#7803fb"/><stop offset="0.715" stop-color="#8205fe"/><stop offset="0.726" stop-color="#8b07f3"/><stop offset="0.753" stop-color="#9c0db7"/><stop offset="0.774" stop-color="#a11096"/><stop offset="0.783" stop-color="#a51280"/><stop offset="0.788" stop-color="#a81567"/><stop offset="0.791" stop-color="#aa1753"/><stop offset="0.796" stop-color="#b11d19"/><stop offset="0.799" stop-color="#b42000"/><stop offset="0.821" stop-color="#c02e00"/><stop offset="0.84" stop-color="#c43400"/><stop offset="0.853" stop-color="#cf4900"/><stop offset="0.867" stop-color="#c23200"/><stop offset="0.899" stop-color="#b72200"/><stop offset="0.962" stop-color="#b52100"/><stop offset="0.967" stop-color="#b41f03"/><stop offset="1" stop-color="#a81569"/></linearGradient><linearGradient id="g71"><stop offset="0" stop-color="#8f08eb"/><stop offset="0.027" stop-color="#8405fd"/><stop offset="0.076" stop-color="#7c03fe"/><stop offset="0.111" stop-color="#7402f5"/><stop offset="0.139" stop-color="#7302f5"/><stop offset="0.174" stop-color="#7803fb"/><stop offset="0.201" stop-color="#6f02ee"/><stop offset="0.245" stop-color="#6801dc"/><stop offset="0.329" stop-color="#5d01bd"/><stop offset="0.432" stop-color="#5e01c1"/><stop offset="0.476" stop-color="#5f01c4"/><stop offset="0.514" stop-color="#5b01b6"/><stop offset="0.538" stop-color="#5500a5"/><stop offset="0.595" stop-color="#5600a8"/><stop offset="0.66" stop-color="#6301cf"/><stop offset="0.688" stop-color="#6c01e6"/><stop offset="0.709" stop-color="#7e04ff"/><stop offset="0.72" stop-color="#8706fa"/><stop offset="0.731" stop-color="#9109e5"/><stop offset="0.753" stop-color="#9c0eb4"/><stop offset="0.774" stop-color="#a21192"/><stop offset="0.783" stop-color="#a5137c"/><stop offset="0.788" stop-color="#a81564"/><stop offset="0.791" stop-color="#ab1750"/><stop offset="0.796" stop-color="#b21d15"/><stop offset="0.799" stop-color="#b52100"/><stop offset="0.826" stop-color="#c23100"/><stop offset="0.842" stop-color="#c73a00"/><stop offset="0.853" stop-color="#d04c00"/><stop offset="0.867" stop-color="#c43400"/><stop offset="0.899" stop-color="#b82400"/><stop offset="0.957" stop-color="#b72300"/><stop offset="0.97" stop-color="#b42002"/><stop offset="1" stop-color="#a91562"/></linearGradient><linearGradient id="g72"><stop offset="0" stop-color="#9008e7"/><stop offset="0.03" stop-color="#8405fd"/><stop offset="0.073" stop-color="#7d04ff"/><stop offset="0.13" stop-color="#7302f5"/><stop offset="0.174" stop-color="#7903fc"/><stop offset="0.201" stop-color="#7002ef"/><stop offset="0.255" stop-color="#6701d9"/><stop offset="0.329" stop-color="#5d01be"/><stop offset="0.429" stop-color="#5e01c0"/><stop offset="0.473" stop-color="#5f01c4"/><stop offset="0.514" stop-color="#5b01b6"/><stop offset="0.541" stop-color="#5500a5"/><stop offset="0.595" stop-color="#5700aa"/><stop offset="0.66" stop-color="#6401d3"/><stop offset="0.688" stop-color="#6d02e9"/><stop offset="0.707" stop-color="#7c03fe"/><stop offset="0.717" stop-color="#8505fc"/><stop offset="0.726" stop-color="#8c07f1"/><stop offset="0.75" stop-color="#9c0db6"/><stop offset="0.777" stop-color="#a31289"/><stop offset="0.785" stop-color="#a71470"/><stop offset="0.788" stop-color="#a91562"/><stop offset="0.791" stop-color="#ab174e"/><stop offset="0.796" stop-color="#b21e13"/><stop offset="0.799" stop-color="#b52100"/><stop offset="0.823" stop-color="#c23200"/><stop offset="0.84" stop-color="#c73900"/><stop offset="0.853" stop-color="#d24f00"/><stop offset="0.859" stop-color="#cd4500"/><stop offset="0.867" stop-color="#c53600"/><stop offset="0.897" stop-color="#ba2600"/><stop offset="0.962" stop-color="#b72300"/><stop offset="0.973" stop-color="#b42003"/><stop offset="1" stop-color="#a9165b"/></linearGradient><linearGradient id="g73"><stop offset="0" stop-color="#9209e2"/><stop offset="0.027" stop-color="#8706fb"/><stop offset="0.054" stop-color="#7f04ff"/><stop offset="0.106" stop-color="#7703fa"/><stop offset="0.136" stop-color="#7502f7"/><stop offset="0.177" stop-color="#7903fc"/><stop offset="0.234" stop-color="#6a01e2"/><stop offset="0.329" stop-color="#5e01bf"/><stop offset="0.427" stop-color="#5e01bf"/><stop offset="0.476" stop-color="#5f01c2"/><stop offset="0.511" stop-color="#5b01b8"/><stop offset="0.538" stop-color="#5600a6"/><stop offset="0.595" stop-color="#5800ac"/><stop offset="0.682" stop-color="#6c02e7"/><stop offset="0.707" stop-color="#7c03fe"/><stop offset="0.717" stop-color="#8505fc"/><stop offset="0.728" stop-color="#8f08e9"/><stop offset="0.75" stop-color="#9c0db4"/><stop offset="0.774" stop-color="#a3118c"/><stop offset="0.783" stop-color="#a61378"/><stop offset="0.788" stop-color="#a91560"/><stop offset="0.791" stop-color="#ab174d"/><stop offset="0.796" stop-color="#b21e11"/><stop offset="0.799" stop-color="#b62100"/><stop offset="0.823" stop-color="#c33300"/><stop offset="0.84" stop-color="#c83c00"/><stop offset="0.848" stop-color="#cf4a00"/><stop offset="0.853" stop-color="#d35200"/><stop offset="0.859" stop-color="#ce4800"/><stop offset="0.867" stop-color="#c63800"/><stop offset="0.897" stop-color="#bb2700"/><stop offset="0.962" stop-color="#b82400"/><stop offset="0.976" stop-color="#b41f03"/><stop offset="0.995" stop-color="#ad1941"/><stop offset="1" stop-color="#aa1754"/></linearGradient><linearGradient id="g74"><stop offset="0" stop-color="#930adc"/><stop offset="0.03" stop-color="#8605fb"/><stop offset="0.065" stop-color="#7f04ff"/><stop offset="0.111" stop-color="#7703fa"/><stop offset="0.152" stop-color="#7803fb"/><stop offset="0.182" stop-color="#7803fb"/><stop offset="0.236" stop-color="#6a01e2"/><stop offset="0.326" stop-color="#5e01c1"/><stop offset="0.424" stop-color="#5d01be"/><stop offset="0.478" stop-color="#5e01c1"/><stop offset="0.514" stop-color="#5b01b6"/><stop offset="0.541" stop-color="#5600a7"/><stop offset="0.595" stop-color="#5900b0"/><stop offset="0.688" stop-color="#7102f0"/><stop offset="0.707" stop-color="#7d03fe"/><stop offset="0.717" stop-color="#8605fc"/><stop offset="0.726" stop-color="#8d07ef"/><stop offset="0.75" stop-color="#9d0eb2"/><stop offset="0.777" stop-color="#a41284"/><stop offset="0.785" stop-color="#a7146c"/><stop offset="0.788" stop-color="#a9165f"/><stop offset="0.791" stop-color="#ab184b"/><stop offset="0.796" stop-color="#b21e10"/><stop offset="0.799" stop-color="#b62100"/><stop offset="0.826" stop-color="#c53600"/><stop offset="0.842" stop-color="#cb4100"/><stop offset="0.851" stop-color="#d35300"/><stop offset="0.856" stop-color="#d35200"/><stop offset="0.864" stop-color="#c93e00"/><stop offset="0.883" stop-color="#c02e00"/><stop offset="0.908" stop-color="#bb2800"/><stop offset="0.957" stop-color="#b92600"/><stop offset="0.976" stop-color="#b52000"/><stop offset="0.986" stop-color="#b11c1e"/><stop offset="1" stop-color="#ab174f"/></linearGradient><linearGradient id="g75"><stop offset="0" stop-color="#950ad6"/><stop offset="0.027" stop-color="#8906f7"/><stop offset="0.043" stop-color="#8305fe"/><stop offset="0.109" stop-color="#7903fc"/><stop offset="0.152" stop-color="#7903fc"/><stop offset="0.182" stop-color="#7903fc"/><stop offset="0.231" stop-color="#6b01e5"/><stop offset="0.326" stop-color="#5f01c2"/><stop offset="0.432" stop-color="#5d01be"/><stop offset="0.478" stop-color="#5e01c0"/><stop offset="0.514" stop-color="#5b01b6"/><stop offset="0.541" stop-color="#5600a7"/><stop offset="0.595" stop-color="#5a00b4"/><stop offset="0.671" stop-color="#6e02ea"/><stop offset="0.704" stop-color="#7b03fe"/><stop offset="0.717" stop-color="#8605fc"/><stop offset="0.728" stop-color="#9008e7"/><stop offset="0.75" stop-color="#9d0eb0"/><stop offset="0.777" stop-color="#a41282"/><stop offset="0.785" stop-color="#a7146b"/><stop offset="0.788" stop-color="#a9165e"/><stop offset="0.791" stop-color="#ac184b"/><stop offset="0.796" stop-color="#b31e0f"/><stop offset="0.799" stop-color="#b62200"/><stop offset="0.826" stop-color="#c63700"/><stop offset="0.842" stop-color="#cc4400"/><stop offset="0.851" stop-color="#d55600"/><stop offset="0.853" stop-color="#d65800"/><stop offset="0.867" stop-color="#c83c00"/><stop offset="0.891" stop-color="#be2b00"/><stop offset="0.954" stop-color="#bb2700"/><stop offset="0.978" stop-color="#b42001"/><stop offset="0.992" stop-color="#af1b2c"/><stop offset="1" stop-color="#ac184b"/></linearGradient><linearGradient id="g76"><stop offset="0" stop-color="#960bd0"/><stop offset="0.033" stop-color="#8706fa"/><stop offset="0.068" stop-color="#8104ff"/><stop offset="0.136" stop-color="#7803fb"/><stop offset="0.179" stop-color="#7a03fd"/><stop offset="0.239" stop-color="#6a01e2"/><stop offset="0.329" stop-color="#5f01c3"/><stop offset="0.429" stop-color="#5d01bd"/><stop offset="0.486" stop-color="#5d01be"/><stop offset="0.516" stop-color="#5a01b5"/><stop offset="0.543" stop-color="#5600a8"/><stop offset="0.595" stop-color="#5b01b8"/><stop offset="0.668" stop-color="#7002ee"/><stop offset="0.701" stop-color="#7a03fd"/><stop offset="0.715" stop-color="#8405fe"/><stop offset="0.726" stop-color="#8e08ee"/><stop offset="0.75" stop-color="#9d0eae"/><stop offset="0.777" stop-color="#a51280"/><stop offset="0.785" stop-color="#a81569"/><stop offset="0.788" stop-color="#a9165d"/><stop offset="0.791" stop-color="#ac184a"/><stop offset="0.796" stop-color="#b31e0e"/><stop offset="0.799" stop-color="#b62200"/><stop offset="0.826" stop-color="#c63900"/><stop offset="0.842" stop-color="#ce4600"/><stop offset="0.853" stop-color="#d75b00"/><stop offset="0.867" stop-color="#ca3e00"/><stop offset="0.889" stop-color="#c02e00"/><stop offset="0.954" stop-color="#bb2800"/><stop offset="0.978" stop-color="#b42000"/><stop offset="0.992" stop-color="#af1b2b"/><stop offset="1" stop-color="#ac184a"/></linearGradient><linearGradient id="g77"><stop offset="0" stop-color="#980bca"/><stop offset="0.033" stop-color="#8906f8"/><stop offset="0.057" stop-color="#8305fe"/><stop offset="0.136" stop-color="#7903fc"/><stop offset="0.182" stop-color="#7a03fd"/><stop offset="0.236" stop-color="#6b01e4"/><stop offset="0.321" stop-color="#6001c6"/><stop offset="0.418" stop-color="#5d01bd"/><stop offset="0.503" stop-color="#5c01bb"/><stop offset="0.541" stop-color="#5700a9"/><stop offset="0.584" stop-color="#5b01b7"/><stop offset="0.617" stop-color="#6201cd"/><stop offset="0.668" stop-color="#7202f3"/><stop offset="0.707" stop-color="#7e04ff"/><stop offset="0.717" stop-color="#8605fb"/><stop offset="0.726" stop-color="#8e08ed"/><stop offset="0.747" stop-color="#9c0eb3"/><stop offset="0.764" stop-color="#a11096"/><stop offset="0.78" stop-color="#a61378"/><stop offset="0.785" stop-color="#a81568"/><stop offset="0.788" stop-color="#a9165c"/><stop offset="0.791" stop-color="#ac1849"/><stop offset="0.796" stop-color="#b31e0e"/><stop offset="0.799" stop-color="#b62200"/><stop offset="0.826" stop-color="#c73a00"/><stop offset="0.842" stop-color="#cf4800"/><stop offset="0.851" stop-color="#d75b00"/><stop offset="0.856" stop-color="#d65a00"/><stop offset="0.864" stop-color="#cd4400"/><stop offset="0.883" stop-color="#c33200"/><stop offset="0.91" stop-color="#bf2d00"/><stop offset="0.954" stop-color="#bc2900"/><stop offset="0.978" stop-color="#b42000"/><stop offset="0.992" stop-color="#af1b2b"/><stop offset="1" stop-color="#ac184a"/></linearGradient><linearGradient id="g78"><stop offset="0" stop-color="#990cc4"/><stop offset="0.03" stop-color="#8b07f3"/><stop offset="0.043" stop-color="#8605fc"/><stop offset="0.111" stop-color="#7b03fe"/><stop offset="0.182" stop-color="#7a03fd"/><stop offset="0.247" stop-color="#6901e0"/><stop offset="0.321" stop-color="#6001c7"/><stop offset="0.427" stop-color="#5d01bc"/><stop offset="0.505" stop-color="#5c01ba"/><stop offset="0.541" stop-color="#5700aa"/><stop offset="0.571" stop-color="#5a00b3"/><stop offset="0.614" stop-color="#6301d0"/><stop offset="0.663" stop-color="#7302f5"/><stop offset="0.704" stop-color="#7d04ff"/><stop offset="0.717" stop-color="#8605fb"/><stop offset="0.726" stop-color="#8e08ec"/><stop offset="0.75" stop-color="#9e0eab"/><stop offset="0.777" stop-color="#a5137c"/><stop offset="0.785" stop-color="#a81567"/><stop offset="0.791" stop-color="#ac1848"/><stop offset="0.796" stop-color="#b31e0d"/><stop offset="0.799" stop-color="#b62200"/><stop offset="0.826" stop-color="#c83b00"/><stop offset="0.842" stop-color="#d04b00"/><stop offset="0.853" stop-color="#d96000"/><stop offset="0.867" stop-color="#cc4200"/><stop offset="0.891" stop-color="#c13000"/><stop offset="0.951" stop-color="#bd2b00"/><stop offset="0.978" stop-color="#b52000"/><stop offset="0.989" stop-color="#b01c22"/><stop offset="1" stop-color="#ac184a"/></linearGradient><linearGradient id="g79"><stop offset="0" stop-color="#9a0cbf"/><stop offset="0.033" stop-color="#8b07f5"/><stop offset="0.054" stop-color="#8505fd"/><stop offset="0.133" stop-color="#7b03fd"/><stop offset="0.185" stop-color="#7a03fc"/><stop offset="0.239" stop-color="#6b01e4"/><stop offset="0.315" stop-color="#6101c9"/><stop offset="0.408" stop-color="#5d01bd"/><stop offset="0.508" stop-color="#5c01b9"/><stop offset="0.543" stop-color="#5700ab"/><stop offset="0.576" stop-color="#5c01b9"/><stop offset="0.66" stop-color="#7502f7"/><stop offset="0.704" stop-color="#7e04ff"/><stop offset="0.717" stop-color="#8706fb"/><stop offset="0.726" stop-color="#8f08eb"/><stop offset="0.747" stop-color="#9d0eb0"/><stop offset="0.764" stop-color="#a21192"/><stop offset="0.78" stop-color="#a61375"/><stop offset="0.785" stop-color="#a81565"/><stop offset="0.788" stop-color="#aa1659"/><stop offset="0.791" stop-color="#ac1847"/><stop offset="0.796" stop-color="#b31f0c"/><stop offset="0.799" stop-color="#b62200"/><stop offset="0.829" stop-color="#ca3f00"/><stop offset="0.842" stop-color="#d14d00"/><stop offset="0.853" stop-color="#da6300"/><stop offset="0.859" stop-color="#d55700"/><stop offset="0.867" stop-color="#cd4400"/><stop offset="0.886" stop-color="#c43400"/><stop offset="0.921" stop-color="#c13000"/><stop offset="0.951" stop-color="#be2c00"/><stop offset="0.978" stop-color="#b52000"/><stop offset="0.989" stop-color="#b01c22"/><stop offset="1" stop-color="#ac184b"/></linearGradient><linearGradient id="g80"><stop offset="0" stop-color="#9b0dbb"/><stop offset="0.033" stop-color="#8b07f4"/><stop offset="0.049" stop-color="#8605fc"/><stop offset="0.122" stop-color="#7b03fe"/><stop offset="0.185" stop-color="#7a03fd"/><stop offset="0.239" stop-color="#6b01e4"/><stop offset="0.321" stop-color="#6101c8"/><stop offset="0.424" stop-color="#5d01bc"/><stop offset="0.508" stop-color="#5c01b9"/><stop offset="0.543" stop-color="#5800ac"/><stop offset="0.573" stop-color="#5c01ba"/><stop offset="0.655" stop-color="#7502f7"/><stop offset="0.679" stop-color="#7903fc"/><stop offset="0.712" stop-color="#8305fe"/><stop offset="0.72" stop-color="#8a06f7"/><stop offset="0.745" stop-color="#9c0db4"/><stop offset="0.761" stop-color="#a11094"/><stop offset="0.777" stop-color="#a61379"/><stop offset="0.785" stop-color="#a81563"/><stop offset="0.788" stop-color="#aa1657"/><stop offset="0.791" stop-color="#ac1845"/><stop offset="0.796" stop-color="#b31f0a"/><stop offset="0.799" stop-color="#b72200"/><stop offset="0.829" stop-color="#cb4100"/><stop offset="0.842" stop-color="#d24f00"/><stop offset="0.851" stop-color="#da6300"/><stop offset="0.853" stop-color="#db6500"/><stop offset="0.859" stop-color="#d65900"/><stop offset="0.867" stop-color="#ce4600"/><stop offset="0.886" stop-color="#c53600"/><stop offset="0.913" stop-color="#c23200"/><stop offset="0.948" stop-color="#bf2e00"/><stop offset="0.978" stop-color="#b52000"/><stop offset="0.986" stop-color="#b11d19"/><stop offset="1" stop-color="#ac184b"/></linearGradient><linearGradient id="g81"><stop offset="0" stop-color="#9c0db7"/><stop offset="0.033" stop-color="#8c07f3"/><stop offset="0.052" stop-color="#8605fc"/><stop offset="0.136" stop-color="#7b03fe"/><stop offset="0.185" stop-color="#7a03fd"/><stop offset="0.239" stop-color="#6b01e4"/><stop offset="0.321" stop-color="#6101c8"/><stop offset="0.424" stop-color="#5d01bc"/><stop offset="0.511" stop-color="#5c01b9"/><stop offset="0.541" stop-color="#5800ae"/><stop offset="0.565" stop-color="#5b01b7"/><stop offset="0.652" stop-color="#7602f8"/><stop offset="0.679" stop-color="#7a03fd"/><stop offset="0.715" stop-color="#8505fd"/><stop offset="0.723" stop-color="#8d07f0"/><stop offset="0.747" stop-color="#9e0eac"/><stop offset="0.764" stop-color="#a2118f"/><stop offset="0.78" stop-color="#a71471"/><stop offset="0.785" stop-color="#a91561"/><stop offset="0.788" stop-color="#aa1755"/><stop offset="0.791" stop-color="#ad1843"/><stop offset="0.793" stop-color="#b01b28"/><stop offset="0.796" stop-color="#b31f07"/><stop offset="0.799" stop-color="#b72300"/><stop offset="0.826" stop-color="#cb4000"/><stop offset="0.842" stop-color="#d35200"/><stop offset="0.853" stop-color="#dc6800"/><stop offset="0.859" stop-color="#d75c00"/><stop offset="0.867" stop-color="#cf4900"/><stop offset="0.886" stop-color="#c63800"/><stop offset="0.913" stop-color="#c33300"/><stop offset="0.948" stop-color="#c02e00"/><stop offset="0.978" stop-color="#b52000"/><stop offset="0.992" stop-color="#af1b2e"/><stop offset="1" stop-color="#ab184c"/></linearGradient><linearGradient id="g82"><stop offset="0" stop-color="#9c0eb4"/><stop offset="0.033" stop-color="#8c07f2"/><stop offset="0.049" stop-color="#8605fb"/><stop offset="0.109" stop-color="#7d03fe"/><stop offset="0.188" stop-color="#7903fc"/><stop offset="0.245" stop-color="#6a01e2"/><stop offset="0.321" stop-color="#6101c8"/><stop offset="0.424" stop-color="#5d01bc"/><stop offset="0.511" stop-color="#5c01b9"/><stop offset="0.546" stop-color="#5900af"/><stop offset="0.579" stop-color="#5f01c5"/><stop offset="0.647" stop-color="#7502f8"/><stop offset="0.677" stop-color="#7c03fe"/><stop offset="0.712" stop-color="#8305fe"/><stop offset="0.723" stop-color="#8d07ef"/><stop offset="0.747" stop-color="#9e0eaa"/><stop offset="0.764" stop-color="#a3118d"/><stop offset="0.78" stop-color="#a7146f"/><stop offset="0.788" stop-color="#ab1752"/><stop offset="0.791" stop-color="#ad193f"/><stop offset="0.793" stop-color="#b01c24"/><stop offset="0.796" stop-color="#b41f03"/><stop offset="0.812" stop-color="#c33400"/><stop offset="0.842" stop-color="#d45400"/><stop offset="0.851" stop-color="#dc6800"/><stop offset="0.853" stop-color="#dd6b00"/><stop offset="0.859" stop-color="#d85f00"/><stop offset="0.867" stop-color="#d04b00"/><stop offset="0.889" stop-color="#c63800"/><stop offset="0.946" stop-color="#c13000"/><stop offset="0.978" stop-color="#b42000"/><stop offset="0.995" stop-color="#ae193a"/><stop offset="1" stop-color="#ab174f"/></linearGradient><linearGradient id="g83"><stop offset="0" stop-color="#9d0eb0"/><stop offset="0.033" stop-color="#8c07f1"/><stop offset="0.046" stop-color="#8706fa"/><stop offset="0.106" stop-color="#7d04ff"/><stop offset="0.188" stop-color="#7903fc"/><stop offset="0.245" stop-color="#6a01e2"/><stop offset="0.321" stop-color="#6101c8"/><stop offset="0.424" stop-color="#5d01bc"/><stop offset="0.514" stop-color="#5c01b9"/><stop offset="0.543" stop-color="#5900b1"/><stop offset="0.565" stop-color="#5d01bc"/><stop offset="0.633" stop-color="#7202f2"/><stop offset="0.668" stop-color="#7d04ff"/><stop offset="0.698" stop-color="#8004ff"/><stop offset="0.715" stop-color="#8605fc"/><stop offset="0.726" stop-color="#9008e7"/><stop offset="0.75" stop-color="#9f0fa1"/><stop offset="0.774" stop-color="#a51379"/><stop offset="0.783" stop-color="#a81565"/><stop offset="0.788" stop-color="#ab174e"/><stop offset="0.791" stop-color="#ae193b"/><stop offset="0.796" stop-color="#b52000"/><stop offset="0.826" stop-color="#cd4400"/><stop offset="0.842" stop-color="#d55700"/><stop offset="0.851" stop-color="#dd6c00"/><stop offset="0.853" stop-color="#de6e00"/><stop offset="0.859" stop-color="#d96200"/><stop offset="0.864" stop-color="#d35200"/><stop offset="0.88" stop-color="#ca4000"/><stop offset="0.902" stop-color="#c53600"/><stop offset="0.946" stop-color="#c13000"/><stop offset="0.978" stop-color="#b42000"/><stop offset="1" stop-color="#ab1753"/></linearGradient><linearGradient id="g84"><stop offset="0" stop-color="#9d0ead"/><stop offset="0.033" stop-color="#8d07f0"/><stop offset="0.049" stop-color="#8605fb"/><stop offset="0.109" stop-color="#7c03fe"/><stop offset="0.185" stop-color="#7a03fc"/><stop offset="0.247" stop-color="#6901e0"/><stop offset="0.321" stop-color="#6101c8"/><stop offset="0.424" stop-color="#5d01bc"/><stop offset="0.514" stop-color="#5c01b9"/><stop offset="0.546" stop-color="#5a00b3"/><stop offset="0.568" stop-color="#5e01c1"/><stop offset="0.625" stop-color="#7002f0"/><stop offset="0.658" stop-color="#7b03fe"/><stop offset="0.712" stop-color="#8505fd"/><stop offset="0.72" stop-color="#8b07f3"/><stop offset="0.742" stop-color="#9c0db5"/><stop offset="0.753" stop-color="#a11099"/><stop offset="0.774" stop-color="#a61378"/><stop offset="0.783" stop-color="#a91562"/><stop offset="0.788" stop-color="#ac1849"/><stop offset="0.791" stop-color="#ae1a35"/><stop offset="0.796" stop-color="#b52100"/><stop offset="0.818" stop-color="#c93d00"/><stop offset="0.842" stop-color="#d65900"/><stop offset="0.851" stop-color="#de6e00"/><stop offset="0.853" stop-color="#df7100"/><stop offset="0.859" stop-color="#da6400"/><stop offset="0.867" stop-color="#d25000"/><stop offset="0.889" stop-color="#c83c00"/><stop offset="0.927" stop-color="#c43500"/><stop offset="0.957" stop-color="#bd2a00"/><stop offset="0.976" stop-color="#b52100"/><stop offset="0.978" stop-color="#b42003"/><stop offset="1" stop-color="#aa1658"/></linearGradient><linearGradient id="g85"><stop offset="0" stop-color="#9e0eaa"/><stop offset="0.033" stop-color="#8d07f0"/><stop offset="0.049" stop-color="#8706fb"/><stop offset="0.109" stop-color="#7c03fe"/><stop offset="0.185" stop-color="#7a03fc"/><stop offset="0.247" stop-color="#6901e0"/><stop offset="0.321" stop-color="#6101c8"/><stop offset="0.424" stop-color="#5d01bc"/><stop offset="0.514" stop-color="#5c01ba"/><stop offset="0.546" stop-color="#5a00b4"/><stop offset="0.568" stop-color="#5f01c4"/><stop offset="0.611" stop-color="#6d02ea"/><stop offset="0.649" stop-color="#7a03fd"/><stop offset="0.677" stop-color="#7f04ff"/><stop offset="0.712" stop-color="#8605fc"/><stop offset="0.723" stop-color="#8e08ec"/><stop offset="0.747" stop-color="#9f0fa4"/><stop offset="0.758" stop-color="#a2118e"/><stop offset="0.774" stop-color="#a61376"/><stop offset="0.783" stop-color="#a9165e"/><stop offset="0.788" stop-color="#ac1844"/><stop offset="0.791" stop-color="#af1b2f"/><stop offset="0.793" stop-color="#b21e11"/><stop offset="0.796" stop-color="#b62200"/><stop offset="0.818" stop-color="#ca3f00"/><stop offset="0.842" stop-color="#d75c00"/><stop offset="0.851" stop-color="#df7100"/><stop offset="0.853" stop-color="#e07400"/><stop offset="0.859" stop-color="#db6700"/><stop offset="0.867" stop-color="#d35200"/><stop offset="0.889" stop-color="#c93e00"/><stop offset="0.916" stop-color="#c63700"/><stop offset="0.948" stop-color="#c02f00"/><stop offset="0.976" stop-color="#b52000"/><stop offset="0.981" stop-color="#b21e10"/><stop offset="1" stop-color="#a9165f"/></linearGradient><linearGradient id="g86"><stop offset="0" stop-color="#9f0fa7"/><stop offset="0.033" stop-color="#8d07ef"/><stop offset="0.049" stop-color="#8706fb"/><stop offset="0.109" stop-color="#7c03fe"/><stop offset="0.185" stop-color="#7a03fc"/><stop offset="0.247" stop-color="#6901e0"/><stop offset="0.321" stop-color="#6101c8"/><stop offset="0.418" stop-color="#5d01bd"/><stop offset="0.516" stop-color="#5c01ba"/><stop offset="0.549" stop-color="#5b01b7"/><stop offset="0.576" stop-color="#6301d0"/><stop offset="0.62" stop-color="#7202f2"/><stop offset="0.652" stop-color="#7c03fe"/><stop offset="0.679" stop-color="#7f04ff"/><stop offset="0.712" stop-color="#8706fb"/><stop offset="0.723" stop-color="#8f08ea"/><stop offset="0.75" stop-color="#a0109b"/><stop offset="0.761" stop-color="#a31289"/><stop offset="0.774" stop-color="#a61375"/><stop offset="0.783" stop-color="#a9165b"/><stop offset="0.788" stop-color="#ad193f"/><stop offset="0.791" stop-color="#b01b28"/><stop offset="0.793" stop-color="#b31f09"/><stop offset="0.796" stop-color="#b72300"/><stop offset="0.818" stop-color="#cb4000"/><stop offset="0.842" stop-color="#d85e00"/><stop offset="0.851" stop-color="#df7300"/><stop offset="0.853" stop-color="#e07600"/><stop offset="0.859" stop-color="#dc6900"/><stop offset="0.867" stop-color="#d45400"/><stop offset="0.889" stop-color="#ca3f00"/><stop offset="0.921" stop-color="#c63700"/><stop offset="0.948" stop-color="#c02f00"/><stop offset="0.976" stop-color="#b42000"/><stop offset="1" stop-color="#a81565"/></linearGradient><linearGradient id="g87"><stop offset="0" stop-color="#9f0fa4"/><stop offset="0.03" stop-color="#8f08ea"/><stop offset="0.043" stop-color="#8806f9"/><stop offset="0.095" stop-color="#7e04ff"/><stop offset="0.149" stop-color="#7b03fe"/><stop offset="0.188" stop-color="#7903fc"/><stop offset="0.253" stop-color="#6801dd"/><stop offset="0.332" stop-color="#6001c6"/><stop offset="0.432" stop-color="#5d01bd"/><stop offset="0.522" stop-color="#5c01ba"/><stop offset="0.549" stop-color="#5c01b9"/><stop offset="0.576" stop-color="#6501d3"/><stop offset="0.617" stop-color="#7202f3"/><stop offset="0.655" stop-color="#7e04ff"/><stop offset="0.704" stop-color="#8505fd"/><stop offset="0.717" stop-color="#8b07f3"/><stop offset="0.728" stop-color="#940ad9"/><stop offset="0.75" stop-color="#a11099"/><stop offset="0.761" stop-color="#a41287"/><stop offset="0.774" stop-color="#a61473"/><stop offset="0.783" stop-color="#aa1658"/><stop offset="0.788" stop-color="#ae1939"/><stop offset="0.791" stop-color="#b01c22"/><stop offset="0.793" stop-color="#b42002"/><stop offset="0.81" stop-color="#c63800"/><stop offset="0.842" stop-color="#d85f00"/><stop offset="0.851" stop-color="#e07500"/><stop offset="0.853" stop-color="#e17800"/><stop offset="0.859" stop-color="#dd6b00"/><stop offset="0.864" stop-color="#d65a00"/><stop offset="0.88" stop-color="#ce4600"/><stop offset="0.902" stop-color="#c83b00"/><stop offset="0.943" stop-color="#c23200"/><stop offset="0.973" stop-color="#b52000"/><stop offset="0.976" stop-color="#b41f06"/><stop offset="1" stop-color="#a7146e"/></linearGradient><linearGradient id="g88"><stop offset="0" stop-color="#9f0fa2"/><stop offset="0.033" stop-color="#8e08ee"/><stop offset="0.046" stop-color="#8806fa"/><stop offset="0.101" stop-color="#7d04ff"/><stop offset="0.155" stop-color="#7b03fe"/><stop offset="0.188" stop-color="#7903fc"/><stop offset="0.258" stop-color="#6701da"/><stop offset="0.342" stop-color="#5f01c4"/><stop offset="0.451" stop-color="#5d01bd"/><stop offset="0.533" stop-color="#5c01ba"/><stop offset="0.552" stop-color="#5d01bd"/><stop offset="0.595" stop-color="#6c02e7"/><stop offset="0.63" stop-color="#7803fb"/><stop offset="0.668" stop-color="#8205fe"/><stop offset="0.696" stop-color="#8405fd"/><stop offset="0.712" stop-color="#8906f8"/><stop offset="0.723" stop-color="#9008e6"/><stop offset="0.75" stop-color="#a11097"/><stop offset="0.761" stop-color="#a41285"/><stop offset="0.772" stop-color="#a61378"/><stop offset="0.78" stop-color="#a91561"/><stop offset="0.785" stop-color="#ac1847"/><stop offset="0.791" stop-color="#b11d1c"/><stop offset="0.793" stop-color="#b52000"/><stop offset="0.812" stop-color="#c93d00"/><stop offset="0.842" stop-color="#d96100"/><stop offset="0.851" stop-color="#e07700"/><stop offset="0.853" stop-color="#e17a00"/><stop offset="0.859" stop-color="#dd6c00"/><stop offset="0.867" stop-color="#d55600"/><stop offset="0.891" stop-color="#ca3f00"/><stop offset="0.94" stop-color="#c33300"/><stop offset="0.97" stop-color="#b52100"/><stop offset="0.973" stop-color="#b41f04"/><stop offset="1" stop-color="#a61378"/></linearGradient><linearGradient id="g89"><stop offset="0" stop-color="#a00f9f"/><stop offset="0.03" stop-color="#9008e8"/><stop offset="0.041" stop-color="#8a06f7"/><stop offset="0.076" stop-color="#8204ff"/><stop offset="0.133" stop-color="#7a03fd"/><stop offset="0.185" stop-color="#7a03fc"/><stop offset="0.25" stop-color="#6801dd"/><stop offset="0.337" stop-color="#6001c5"/><stop offset="0.44" stop-color="#5d01bd"/><stop offset="0.546" stop-color="#5d01bc"/><stop offset="0.568" stop-color="#6301d0"/><stop offset="0.592" stop-color="#6d02e8"/><stop offset="0.628" stop-color="#7903fc"/><stop offset="0.674" stop-color="#8305fe"/><stop offset="0.707" stop-color="#8806f9"/><stop offset="0.717" stop-color="#8d07ef"/><stop offset="0.728" stop-color="#950ad5"/><stop offset="0.75" stop-color="#a21094"/><stop offset="0.764" stop-color="#a41281"/><stop offset="0.774" stop-color="#a71471"/><stop offset="0.78" stop-color="#a91660"/><stop offset="0.785" stop-color="#ac1843"/><stop offset="0.788" stop-color="#af1a30"/><stop offset="0.793" stop-color="#b62100"/><stop offset="0.812" stop-color="#ca3e00"/><stop offset="0.842" stop-color="#d96200"/><stop offset="0.851" stop-color="#e17800"/><stop offset="0.853" stop-color="#e27b00"/><stop offset="0.859" stop-color="#dd6e00"/><stop offset="0.864" stop-color="#d75d00"/><stop offset="0.88" stop-color="#cf4800"/><stop offset="0.902" stop-color="#c93d00"/><stop offset="0.935" stop-color="#c53600"/><stop offset="0.97" stop-color="#b42000"/><stop offset="0.992" stop-color="#a81563"/><stop offset="1" stop-color="#a41283"/></linearGradient><linearGradient id="g90"><stop offset="0" stop-color="#a0109e"/><stop offset="0.03" stop-color="#9008e8"/><stop offset="0.041" stop-color="#8a06f6"/><stop offset="0.068" stop-color="#8305fe"/><stop offset="0.13" stop-color="#7a03fd"/><stop offset="0.185" stop-color="#7a03fc"/><stop offset="0.255" stop-color="#6701da"/><stop offset="0.342" stop-color="#5f01c4"/><stop offset="0.457" stop-color="#5d01be"/><stop offset="0.546" stop-color="#5e01bf"/><stop offset="0.568" stop-color="#6501d3"/><stop offset="0.59" stop-color="#6d02e9"/><stop offset="0.622" stop-color="#7903fb"/><stop offset="0.655" stop-color="#8204ff"/><stop offset="0.698" stop-color="#8706fa"/><stop offset="0.715" stop-color="#8d07f0"/><stop offset="0.726" stop-color="#940ada"/><stop offset="0.75" stop-color="#a21192"/><stop offset="0.764" stop-color="#a51280"/><stop offset="0.774" stop-color="#a71471"/><stop offset="0.78" stop-color="#a9165e"/><stop offset="0.785" stop-color="#ad1941"/><stop offset="0.791" stop-color="#b21e12"/><stop offset="0.793" stop-color="#b62200"/><stop offset="0.81" stop-color="#c83c00"/><stop offset="0.842" stop-color="#da6300"/><stop offset="0.851" stop-color="#e17900"/><stop offset="0.853" stop-color="#e27c00"/><stop offset="0.859" stop-color="#de6f00"/><stop offset="0.864" stop-color="#d85e00"/><stop offset="0.88" stop-color="#cf4900"/><stop offset="0.902" stop-color="#c93d00"/><stop offset="0.932" stop-color="#c63700"/><stop offset="0.967" stop-color="#b52000"/><stop offset="0.978" stop-color="#af1a32"/><stop offset="0.995" stop-color="#a51379"/><stop offset="1" stop-color="#a3118d"/></linearGradient><linearGradient id="g91"><stop offset="0" stop-color="#a0109d"/><stop offset="0.033" stop-color="#8e08ed"/><stop offset="0.046" stop-color="#8806f9"/><stop offset="0.084" stop-color="#8004ff"/><stop offset="0.13" stop-color="#7903fc"/><stop offset="0.185" stop-color="#7a03fc"/><stop offset="0.239" stop-color="#6a01e1"/><stop offset="0.291" stop-color="#6301cf"/><stop offset="0.364" stop-color="#5f01c2"/><stop offset="0.495" stop-color="#5e01bf"/><stop offset="0.549" stop-color="#5f01c2"/><stop offset="0.59" stop-color="#6f02ec"/><stop offset="0.622" stop-color="#7a03fd"/><stop offset="0.66" stop-color="#8505fd"/><stop offset="0.698" stop-color="#8906f8"/><stop offset="0.717" stop-color="#9008e8"/><stop offset="0.728" stop-color="#970bce"/><stop offset="0.75" stop-color="#a21190"/><stop offset="0.764" stop-color="#a5127f"/><stop offset="0.774" stop-color="#a71470"/><stop offset="0.78" stop-color="#a9165d"/><stop offset="0.785" stop-color="#ad193e"/><stop offset="0.791" stop-color="#b31e0f"/><stop offset="0.793" stop-color="#b62200"/><stop offset="0.812" stop-color="#cb4000"/><stop offset="0.842" stop-color="#da6400"/><stop offset="0.851" stop-color="#e27a00"/><stop offset="0.853" stop-color="#e37d00"/><stop offset="0.859" stop-color="#de7000"/><stop offset="0.864" stop-color="#d85f00"/><stop offset="0.883" stop-color="#cf4800"/><stop offset="0.905" stop-color="#c93e00"/><stop offset="0.935" stop-color="#c53600"/><stop offset="0.965" stop-color="#b52100"/><stop offset="0.967" stop-color="#b41f04"/><stop offset="0.986" stop-color="#a91562"/><stop offset="1" stop-color="#a11097"/></linearGradient><linearGradient id="g92"><stop offset="0" stop-color="#a0109c"/><stop offset="0.033" stop-color="#8e08ed"/><stop offset="0.046" stop-color="#8806f9"/><stop offset="0.084" stop-color="#7f04ff"/><stop offset="0.136" stop-color="#7903fc"/><stop offset="0.185" stop-color="#7a03fd"/><stop offset="0.258" stop-color="#6601d8"/><stop offset="0.345" stop-color="#5f01c4"/><stop offset="0.465" stop-color="#5e01bf"/><stop offset="0.546" stop-color="#5f01c4"/><stop offset="0.562" stop-color="#6401d2"/><stop offset="0.587" stop-color="#6f02ed"/><stop offset="0.62" stop-color="#7b03fe"/><stop offset="0.658" stop-color="#8605fc"/><stop offset="0.696" stop-color="#8a07f5"/><stop offset="0.715" stop-color="#9109e5"/><stop offset="0.726" stop-color="#970bcf"/><stop offset="0.747" stop-color="#a21193"/><stop offset="0.758" stop-color="#a41283"/><stop offset="0.772" stop-color="#a61376"/><stop offset="0.777" stop-color="#a81568"/><stop offset="0.783" stop-color="#ab174e"/><stop offset="0.788" stop-color="#b01b27"/><stop offset="0.791" stop-color="#b31e0c"/><stop offset="0.793" stop-color="#b72200"/><stop offset="0.815" stop-color="#cd4400"/><stop offset="0.842" stop-color="#da6400"/><stop offset="0.851" stop-color="#e27b00"/><stop offset="0.853" stop-color="#e37f00"/><stop offset="0.859" stop-color="#df7100"/><stop offset="0.864" stop-color="#d96000"/><stop offset="0.88" stop-color="#d14d00"/><stop offset="0.902" stop-color="#ca3f00"/><stop offset="0.932" stop-color="#c53700"/><stop offset="0.965" stop-color="#b52000"/><stop offset="0.989" stop-color="#a61376"/><stop offset="1" stop-color="#a00f9f"/></linearGradient><linearGradient id="g93"><stop offset="0" stop-color="#a0109d"/><stop offset="0.03" stop-color="#9008e8"/><stop offset="0.041" stop-color="#8a06f6"/><stop offset="0.065" stop-color="#8305fe"/><stop offset="0.128" stop-color="#7903fb"/><stop offset="0.185" stop-color="#7a03fc"/><stop offset="0.228" stop-color="#6c01e6"/><stop offset="0.258" stop-color="#6601d6"/><stop offset="0.351" stop-color="#5f01c3"/><stop offset="0.481" stop-color="#5e01c0"/><stop offset="0.546" stop-color="#6001c6"/><stop offset="0.568" stop-color="#6801dc"/><stop offset="0.59" stop-color="#7102f1"/><stop offset="0.617" stop-color="#7c03fe"/><stop offset="0.649" stop-color="#8605fc"/><stop offset="0.677" stop-color="#8a06f5"/><stop offset="0.693" stop-color="#8c07f1"/><stop offset="0.715" stop-color="#930adc"/><stop offset="0.731" stop-color="#9c0db7"/><stop offset="0.75" stop-color="#a3118b"/><stop offset="0.772" stop-color="#a61376"/><stop offset="0.777" stop-color="#a81568"/><stop offset="0.783" stop-color="#ab174e"/><stop offset="0.788" stop-color="#b01c25"/><stop offset="0.791" stop-color="#b31f0a"/><stop offset="0.793" stop-color="#b72300"/><stop offset="0.812" stop-color="#cb4100"/><stop offset="0.842" stop-color="#db6500"/><stop offset="0.851" stop-color="#e27c00"/><stop offset="0.853" stop-color="#e37f00"/><stop offset="0.859" stop-color="#df7200"/><stop offset="0.864" stop-color="#d96100"/><stop offset="0.889" stop-color="#ce4700"/><stop offset="0.94" stop-color="#c23100"/><stop offset="0.962" stop-color="#b52100"/><stop offset="0.965" stop-color="#b41f05"/><stop offset="0.984" stop-color="#a81566"/><stop offset="1" stop-color="#9e0fa8"/></linearGradient><linearGradient id="g94"><stop offset="0" stop-color="#a00fa0"/><stop offset="0.03" stop-color="#8f08ea"/><stop offset="0.043" stop-color="#8806f9"/><stop offset="0.079" stop-color="#7f04ff"/><stop offset="0.133" stop-color="#7803fb"/><stop offset="0.179" stop-color="#7a03fd"/><stop offset="0.217" stop-color="#6e02ec"/><stop offset="0.253" stop-color="#6601d6"/><stop offset="0.348" stop-color="#5f01c2"/><stop offset="0.478" stop-color="#5e01c0"/><stop offset="0.546" stop-color="#6101c9"/><stop offset="0.59" stop-color="#7302f4"/><stop offset="0.62" stop-color="#7f04ff"/><stop offset="0.652" stop-color="#8906f7"/><stop offset="0.671" stop-color="#8e07ee"/><stop offset="0.688" stop-color="#8e08ee"/><stop offset="0.712" stop-color="#950ad5"/><stop offset="0.728" stop-color="#9c0db4"/><stop offset="0.75" stop-color="#a31289"/><stop offset="0.772" stop-color="#a61376"/><stop offset="0.777" stop-color="#a81568"/><stop offset="0.783" stop-color="#ab174d"/><stop offset="0.788" stop-color="#b01c24"/><stop offset="0.791" stop-color="#b31f08"/><stop offset="0.793" stop-color="#b72300"/><stop offset="0.812" stop-color="#cb4200"/><stop offset="0.842" stop-color="#db6600"/><stop offset="0.851" stop-color="#e27d00"/><stop offset="0.853" stop-color="#e38000"/><stop offset="0.856" stop-color="#e27c00"/><stop offset="0.864" stop-color="#da6200"/><stop offset="0.897" stop-color="#cc4300"/><stop offset="0.938" stop-color="#c23200"/><stop offset="0.962" stop-color="#b42000"/><stop offset="0.981" stop-color="#a91562"/><stop offset="0.997" stop-color="#9e0fa8"/><stop offset="1" stop-color="#9d0eb1"/></linearGradient><linearGradient id="g95"><stop offset="0" stop-color="#9e0fa7"/><stop offset="0.027" stop-color="#9008e8"/><stop offset="0.038" stop-color="#8906f7"/><stop offset="0.062" stop-color="#8104ff"/><stop offset="0.13" stop-color="#7603f9"/><stop offset="0.177" stop-color="#7a03fd"/><stop offset="0.212" stop-color="#6f02ed"/><stop offset="0.253" stop-color="#6401d3"/><stop offset="0.351" stop-color="#5e01c0"/><stop offset="0.497" stop-color="#5f01c2"/><stop offset="0.549" stop-color="#6301ce"/><stop offset="0.587" stop-color="#7302f4"/><stop offset="0.617" stop-color="#7f04ff"/><stop offset="0.641" stop-color="#8906f8"/><stop offset="0.668" stop-color="#9109e4"/><stop offset="0.685" stop-color="#9008e6"/><stop offset="0.712" stop-color="#980bca"/><stop offset="0.745" stop-color="#a2118f"/><stop offset="0.761" stop-color="#a5137f"/><stop offset="0.772" stop-color="#a61375"/><stop offset="0.777" stop-color="#a81568"/><stop offset="0.783" stop-color="#ab184c"/><stop offset="0.788" stop-color="#b01c22"/><stop offset="0.791" stop-color="#b41f06"/><stop offset="0.793" stop-color="#b72300"/><stop offset="0.812" stop-color="#cc4200"/><stop offset="0.842" stop-color="#db6600"/><stop offset="0.851" stop-color="#e37d00"/><stop offset="0.853" stop-color="#e38000"/><stop offset="0.859" stop-color="#df7300"/><stop offset="0.864" stop-color="#da6300"/><stop offset="0.897" stop-color="#cd4400"/><stop offset="0.935" stop-color="#c33300"/><stop offset="0.959" stop-color="#b52000"/><stop offset="0.965" stop-color="#b11d1b"/><stop offset="0.981" stop-color="#a71470"/><stop offset="0.997" stop-color="#9c0eb3"/><stop offset="1" stop-color="#9b0dbc"/></linearGradient><linearGradient id="g96"><stop offset="0" stop-color="#9d0eb0"/><stop offset="0.024" stop-color="#9008e7"/><stop offset="0.035" stop-color="#8906f7"/><stop offset="0.057" stop-color="#8104ff"/><stop offset="0.106" stop-color="#7603f9"/><stop offset="0.139" stop-color="#7502f8"/><stop offset="0.179" stop-color="#7803fb"/><stop offset="0.215" stop-color="#6d02e8"/><stop offset="0.253" stop-color="#6301ce"/><stop offset="0.345" stop-color="#5d01be"/><stop offset="0.476" stop-color="#5e01c1"/><stop offset="0.533" stop-color="#6201cc"/><stop offset="0.554" stop-color="#6501d5"/><stop offset="0.584" stop-color="#7302f4"/><stop offset="0.609" stop-color="#7d04ff"/><stop offset="0.636" stop-color="#8806f9"/><stop offset="0.66" stop-color="#9209e0"/><stop offset="0.671" stop-color="#940ad8"/><stop offset="0.685" stop-color="#940ad9"/><stop offset="0.715" stop-color="#9b0dbd"/><stop offset="0.742" stop-color="#a21191"/><stop offset="0.764" stop-color="#a5137c"/><stop offset="0.774" stop-color="#a7146f"/><stop offset="0.78" stop-color="#aa165b"/><stop offset="0.785" stop-color="#ae1a38"/><stop offset="0.791" stop-color="#b41f03"/><stop offset="0.807" stop-color="#c73a00"/><stop offset="0.834" stop-color="#d75c00"/><stop offset="0.845" stop-color="#de6e00"/><stop offset="0.851" stop-color="#e27c00"/><stop offset="0.853" stop-color="#e37e00"/><stop offset="0.859" stop-color="#df7100"/><stop offset="0.867" stop-color="#d85f00"/><stop offset="0.899" stop-color="#cd4500"/><stop offset="0.938" stop-color="#c23100"/><stop offset="0.957" stop-color="#b52100"/><stop offset="0.959" stop-color="#b31f0a"/><stop offset="0.976" stop-color="#a7146f"/><stop offset="0.986" stop-color="#a00fa0"/><stop offset="0.997" stop-color="#990cc3"/><stop offset="1" stop-color="#980bca"/></linearGradient><linearGradient id="g97"><stop offset="0" stop-color="#9b0dba"/><stop offset="0.022" stop-color="#9008e9"/><stop offset="0.035" stop-color="#8706fa"/><stop offset="0.065" stop-color="#7e04ff"/><stop offset="0.128" stop-color="#7202f3"/><stop offset="0.177" stop-color="#7703fa"/><stop offset="0.209" stop-color="#6d02e8"/><stop offset="0.25" stop-color="#6101ca"/><stop offset="0.337" stop-color="#5c01bb"/><stop offset="0.443" stop-color="#5d01be"/><stop offset="0.519" stop-color="#6101ca"/><stop offset="0.557" stop-color="#6601d8"/><stop offset="0.579" stop-color="#7302f4"/><stop offset="0.603" stop-color="#7d04ff"/><stop offset="0.63" stop-color="#8806fa"/><stop offset="0.649" stop-color="#9008e7"/><stop offset="0.668" stop-color="#980bcb"/><stop offset="0.698" stop-color="#9a0dbd"/><stop offset="0.709" stop-color="#9b0dbc"/><stop offset="0.753" stop-color="#a41284"/><stop offset="0.772" stop-color="#a71472"/><stop offset="0.777" stop-color="#a81564"/><stop offset="0.783" stop-color="#ac184a"/><stop offset="0.788" stop-color="#b11c1e"/><stop offset="0.791" stop-color="#b42000"/><stop offset="0.812" stop-color="#cc4300"/><stop offset="0.845" stop-color="#de6e00"/><stop offset="0.853" stop-color="#e17800"/><stop offset="0.87" stop-color="#d75c00"/><stop offset="0.905" stop-color="#cd4500"/><stop offset="0.938" stop-color="#c23200"/><stop offset="0.954" stop-color="#b62200"/><stop offset="0.957" stop-color="#b31f09"/><stop offset="0.973" stop-color="#a41285"/><stop offset="0.978" stop-color="#9f0fa5"/><stop offset="0.986" stop-color="#9a0cc2"/><stop offset="1" stop-color="#940adb"/></linearGradient><linearGradient id="g98"><stop offset="0" stop-color="#990cc4"/><stop offset="0.022" stop-color="#8d07ef"/><stop offset="0.038" stop-color="#8405fd"/><stop offset="0.071" stop-color="#7a03fd"/><stop offset="0.128" stop-color="#7002ef"/><stop offset="0.174" stop-color="#7502f8"/><stop offset="0.198" stop-color="#6f02ec"/><stop offset="0.253" stop-color="#5f01c3"/><stop offset="0.345" stop-color="#5b01b6"/><stop offset="0.481" stop-color="#5f01c3"/><stop offset="0.53" stop-color="#6401d0"/><stop offset="0.549" stop-color="#6501d5"/><stop offset="0.557" stop-color="#6701d9"/><stop offset="0.579" stop-color="#7402f6"/><stop offset="0.603" stop-color="#7f04ff"/><stop offset="0.625" stop-color="#8806f9"/><stop offset="0.641" stop-color="#9008e9"/><stop offset="0.658" stop-color="#980cc8"/><stop offset="0.668" stop-color="#9c0db4"/><stop offset="0.693" stop-color="#9f0fa5"/><stop offset="0.707" stop-color="#9c0eb3"/><stop offset="0.717" stop-color="#9e0eac"/><stop offset="0.769" stop-color="#a61473"/><stop offset="0.777" stop-color="#a91660"/><stop offset="0.783" stop-color="#ac1845"/><stop offset="0.785" stop-color="#af1a32"/><stop offset="0.791" stop-color="#b52000"/><stop offset="0.815" stop-color="#ce4800"/><stop offset="0.848" stop-color="#df7200"/><stop offset="0.856" stop-color="#df7100"/><stop offset="0.872" stop-color="#d65a00"/><stop offset="0.932" stop-color="#c53600"/><stop offset="0.954" stop-color="#b42001"/><stop offset="0.965" stop-color="#a81563"/><stop offset="0.973" stop-color="#9f0fa3"/><stop offset="0.978" stop-color="#9a0cc2"/><stop offset="0.984" stop-color="#960ad3"/><stop offset="0.997" stop-color="#9109e5"/><stop offset="1" stop-color="#9008e7"/></linearGradient><linearGradient id="g99"><stop offset="0" stop-color="#970bce"/><stop offset="0.016" stop-color="#8e08ed"/><stop offset="0.033" stop-color="#8505fd"/><stop offset="0.062" stop-color="#7a03fd"/><stop offset="0.125" stop-color="#6e02ea"/><stop offset="0.174" stop-color="#7402f5"/><stop offset="0.198" stop-color="#6d02e8"/><stop offset="0.25" stop-color="#5d01be"/><stop offset="0.304" stop-color="#5a01b5"/><stop offset="0.37" stop-color="#5a00b3"/><stop offset="0.511" stop-color="#6201cb"/><stop offset="0.546" stop-color="#6601d9"/><stop offset="0.557" stop-color="#6701da"/><stop offset="0.579" stop-color="#7602f8"/><stop offset="0.601" stop-color="#7f04ff"/><stop offset="0.62" stop-color="#8806f9"/><stop offset="0.636" stop-color="#9109e4"/><stop offset="0.649" stop-color="#990cc6"/><stop offset="0.666" stop-color="#a11098"/><stop offset="0.688" stop-color="#a3118a"/><stop offset="0.696" stop-color="#a2118f"/><stop offset="0.707" stop-color="#9f0fa5"/><stop offset="0.717" stop-color="#9f0fa4"/><stop offset="0.764" stop-color="#a61379"/><stop offset="0.774" stop-color="#a81564"/><stop offset="0.78" stop-color="#ab174f"/><stop offset="0.785" stop-color="#af1b2c"/><stop offset="0.791" stop-color="#b52100"/><stop offset="0.815" stop-color="#cf4800"/><stop offset="0.848" stop-color="#df7100"/><stop offset="0.856" stop-color="#de7000"/><stop offset="0.872" stop-color="#d65a00"/><stop offset="0.932" stop-color="#c53600"/><stop offset="0.951" stop-color="#b52100"/><stop offset="0.954" stop-color="#b21e11"/><stop offset="0.965" stop-color="#a61474"/><stop offset="0.973" stop-color="#9d0eb1"/><stop offset="0.978" stop-color="#970bcd"/><stop offset="0.986" stop-color="#9209e0"/><stop offset="1" stop-color="#8e08ec"/></linearGradient><linearGradient id="g100"><stop offset="0" stop-color="#950ad7"/><stop offset="0.016" stop-color="#8c07f2"/><stop offset="0.033" stop-color="#8305fe"/><stop offset="0.062" stop-color="#7803fb"/><stop offset="0.125" stop-color="#6b01e4"/><stop offset="0.171" stop-color="#7202f2"/><stop offset="0.193" stop-color="#6d02e8"/><stop offset="0.247" stop-color="#5c01b9"/><stop offset="0.291" stop-color="#5900b0"/><stop offset="0.372" stop-color="#5900b0"/><stop offset="0.511" stop-color="#6201cd"/><stop offset="0.546" stop-color="#6801dc"/><stop offset="0.557" stop-color="#6801dc"/><stop offset="0.576" stop-color="#7502f7"/><stop offset="0.592" stop-color="#7d04ff"/><stop offset="0.614" stop-color="#8706fa"/><stop offset="0.628" stop-color="#9008e8"/><stop offset="0.644" stop-color="#9b0dbd"/><stop offset="0.663" stop-color="#a5137a"/><stop offset="0.671" stop-color="#a7146f"/><stop offset="0.69" stop-color="#a7146d"/><stop offset="0.696" stop-color="#a61376"/><stop offset="0.707" stop-color="#a11096"/><stop offset="0.715" stop-color="#a0109b"/><stop offset="0.747" stop-color="#a31289"/><stop offset="0.766" stop-color="#a61473"/><stop offset="0.774" stop-color="#a91561"/><stop offset="0.78" stop-color="#ac184a"/><stop offset="0.785" stop-color="#b01c25"/><stop offset="0.788" stop-color="#b31f0b"/><stop offset="0.791" stop-color="#b62200"/><stop offset="0.818" stop-color="#d14d00"/><stop offset="0.848" stop-color="#df7100"/><stop offset="0.856" stop-color="#de7000"/><stop offset="0.875" stop-color="#d65800"/><stop offset="0.929" stop-color="#c53700"/><stop offset="0.948" stop-color="#b72200"/><stop offset="0.951" stop-color="#b41f06"/><stop offset="0.962" stop-color="#a7146d"/><stop offset="0.97" stop-color="#9e0ea9"/><stop offset="0.976" stop-color="#980cc8"/><stop offset="0.981" stop-color="#940adb"/><stop offset="0.992" stop-color="#8f08ea"/><stop offset="1" stop-color="#8d07ef"/></linearGradient><linearGradient id="g101"><stop offset="0" stop-color="#9309df"/><stop offset="0.019" stop-color="#8806f9"/><stop offset="0.041" stop-color="#7e04ff"/><stop offset="0.095" stop-color="#6e02eb"/><stop offset="0.122" stop-color="#6901df"/><stop offset="0.147" stop-color="#6c01e6"/><stop offset="0.171" stop-color="#7002ef"/><stop offset="0.193" stop-color="#6b01e4"/><stop offset="0.245" stop-color="#5a00b4"/><stop offset="0.285" stop-color="#5700aa"/><stop offset="0.361" stop-color="#5700ab"/><stop offset="0.505" stop-color="#6201cd"/><stop offset="0.546" stop-color="#6901de"/><stop offset="0.557" stop-color="#6901de"/><stop offset="0.576" stop-color="#7602f8"/><stop offset="0.595" stop-color="#8004ff"/><stop offset="0.611" stop-color="#8806f9"/><stop offset="0.622" stop-color="#9008e9"/><stop offset="0.633" stop-color="#980bca"/><stop offset="0.66" stop-color="#a9165c"/><stop offset="0.666" stop-color="#ab174e"/><stop offset="0.674" stop-color="#ac1849"/><stop offset="0.69" stop-color="#ab1750"/><stop offset="0.696" stop-color="#a9165c"/><stop offset="0.707" stop-color="#a41285"/><stop offset="0.715" stop-color="#a2118f"/><stop offset="0.736" stop-color="#a3118d"/><stop offset="0.758" stop-color="#a5137d"/><stop offset="0.769" stop-color="#a7146c"/><stop offset="0.777" stop-color="#ab1753"/><stop offset="0.78" stop-color="#ac1845"/><stop offset="0.783" stop-color="#af1a30"/><stop offset="0.785" stop-color="#b21d14"/><stop offset="0.788" stop-color="#b62100"/><stop offset="0.815" stop-color="#cf4a00"/><stop offset="0.848" stop-color="#df7100"/><stop offset="0.856" stop-color="#de6f00"/><stop offset="0.88" stop-color="#d45400"/><stop offset="0.927" stop-color="#c63800"/><stop offset="0.948" stop-color="#b52100"/><stop offset="0.951" stop-color="#b21d15"/><stop offset="0.959" stop-color="#a81565"/><stop offset="0.967" stop-color="#9f0fa2"/><stop offset="0.973" stop-color="#990cc2"/><stop offset="0.978" stop-color="#940ad8"/><stop offset="0.989" stop-color="#8f08eb"/><stop offset="1" stop-color="#8c07f2"/></linearGradient><linearGradient id="g102"><stop offset="0" stop-color="#9109e5"/><stop offset="0.016" stop-color="#8806f9"/><stop offset="0.035" stop-color="#7e04ff"/><stop offset="0.087" stop-color="#6e02ec"/><stop offset="0.122" stop-color="#6701d9"/><stop offset="0.149" stop-color="#6b01e3"/><stop offset="0.171" stop-color="#6e02eb"/><stop offset="0.188" stop-color="#6b01e5"/><stop offset="0.245" stop-color="#5800ae"/><stop offset="0.285" stop-color="#5500a5"/><stop offset="0.364" stop-color="#5600a8"/><stop offset="0.508" stop-color="#6301cf"/><stop offset="0.546" stop-color="#6a01e1"/><stop offset="0.557" stop-color="#6a01e1"/><stop offset="0.576" stop-color="#7703f9"/><stop offset="0.592" stop-color="#8004ff"/><stop offset="0.609" stop-color="#8906f8"/><stop offset="0.62" stop-color="#9109e4"/><stop offset="0.628" stop-color="#980bcb"/><stop offset="0.639" stop-color="#a11096"/><stop offset="0.649" stop-color="#a9165e"/><stop offset="0.66" stop-color="#ae1a33"/><stop offset="0.666" stop-color="#b01c26"/><stop offset="0.674" stop-color="#b01c23"/><stop offset="0.688" stop-color="#af1b2e"/><stop offset="0.696" stop-color="#ad1942"/><stop offset="0.707" stop-color="#a71470"/><stop offset="0.712" stop-color="#a5137d"/><stop offset="0.728" stop-color="#a31289"/><stop offset="0.747" stop-color="#a41284"/><stop offset="0.764" stop-color="#a61473"/><stop offset="0.774" stop-color="#aa165a"/><stop offset="0.78" stop-color="#ad1940"/><stop offset="0.783" stop-color="#b01b29"/><stop offset="0.785" stop-color="#b31f09"/><stop offset="0.788" stop-color="#b72300"/><stop offset="0.804" stop-color="#c83b00"/><stop offset="0.845" stop-color="#de7000"/><stop offset="0.853" stop-color="#df7200"/><stop offset="0.878" stop-color="#d55700"/><stop offset="0.927" stop-color="#c53700"/><stop offset="0.946" stop-color="#b62200"/><stop offset="0.948" stop-color="#b31f09"/><stop offset="0.957" stop-color="#a9165c"/><stop offset="0.962" stop-color="#a3118a"/><stop offset="0.97" stop-color="#9a0dbd"/><stop offset="0.978" stop-color="#9309de"/><stop offset="0.989" stop-color="#8d07ef"/><stop offset="1" stop-color="#8a07f5"/></linearGradient><linearGradient id="g103"><stop offset="0" stop-color="#8f08ea"/><stop offset="0.016" stop-color="#8706fb"/><stop offset="0.038" stop-color="#7c03fe"/><stop offset="0.084" stop-color="#6e02ea"/><stop offset="0.12" stop-color="#6501d4"/><stop offset="0.139" stop-color="#6601d8"/><stop offset="0.168" stop-color="#6d02e8"/><stop offset="0.185" stop-color="#6b01e4"/><stop offset="0.242" stop-color="#5700aa"/><stop offset="0.277" stop-color="#5400a0"/><stop offset="0.356" stop-color="#5500a3"/><stop offset="0.465" stop-color="#5f01c3"/><stop offset="0.524" stop-color="#6701d9"/><stop offset="0.546" stop-color="#6b01e3"/><stop offset="0.554" stop-color="#6a01e1"/><stop offset="0.576" stop-color="#7803fa"/><stop offset="0.592" stop-color="#8104ff"/><stop offset="0.606" stop-color="#8a06f7"/><stop offset="0.617" stop-color="#9209e0"/><stop offset="0.625" stop-color="#9a0cc1"/><stop offset="0.633" stop-color="#a21194"/><stop offset="0.644" stop-color="#ac184a"/><stop offset="0.652" stop-color="#b01c24"/><stop offset="0.66" stop-color="#b31f08"/><stop offset="0.666" stop-color="#b52000"/><stop offset="0.679" stop-color="#b42001"/><stop offset="0.69" stop-color="#b21e13"/><stop offset="0.696" stop-color="#b01c25"/><stop offset="0.707" stop-color="#aa1658"/><stop offset="0.717" stop-color="#a61473"/><stop offset="0.728" stop-color="#a41281"/><stop offset="0.745" stop-color="#a41280"/><stop offset="0.758" stop-color="#a61378"/><stop offset="0.772" stop-color="#a9165f"/><stop offset="0.777" stop-color="#ac184b"/><stop offset="0.78" stop-color="#ad193b"/><stop offset="0.783" stop-color="#b01c24"/><stop offset="0.785" stop-color="#b41f04"/><stop offset="0.791" stop-color="#bc2900"/><stop offset="0.826" stop-color="#d65900"/><stop offset="0.848" stop-color="#df7100"/><stop offset="0.859" stop-color="#dd6c00"/><stop offset="0.88" stop-color="#d45500"/><stop offset="0.924" stop-color="#c63800"/><stop offset="0.946" stop-color="#b52000"/><stop offset="0.948" stop-color="#b21d17"/><stop offset="0.957" stop-color="#a7146c"/><stop offset="0.962" stop-color="#a11098"/><stop offset="0.97" stop-color="#990cc6"/><stop offset="0.978" stop-color="#9209e3"/><stop offset="0.992" stop-color="#8b07f4"/><stop offset="1" stop-color="#8906f8"/></linearGradient><linearGradient id="g104"><stop offset="0" stop-color="#8d07ef"/><stop offset="0.019" stop-color="#8405fd"/><stop offset="0.041" stop-color="#7a03fd"/><stop offset="0.092" stop-color="#6a01e1"/><stop offset="0.122" stop-color="#6201cd"/><stop offset="0.144" stop-color="#6601d6"/><stop offset="0.171" stop-color="#6b01e5"/><stop offset="0.188" stop-color="#6901df"/><stop offset="0.242" stop-color="#5500a4"/><stop offset="0.274" stop-color="#52009b"/><stop offset="0.353" stop-color="#54009f"/><stop offset="0.454" stop-color="#5e01c1"/><stop offset="0.524" stop-color="#6701db"/><stop offset="0.546" stop-color="#6b01e5"/><stop offset="0.554" stop-color="#6b01e3"/><stop offset="0.573" stop-color="#7703fa"/><stop offset="0.59" stop-color="#8104ff"/><stop offset="0.603" stop-color="#8a06f6"/><stop offset="0.611" stop-color="#9109e5"/><stop offset="0.62" stop-color="#990cc2"/><stop offset="0.628" stop-color="#a21192"/><stop offset="0.641" stop-color="#af1b2b"/><stop offset="0.647" stop-color="#b31f0b"/><stop offset="0.649" stop-color="#b42000"/><stop offset="0.677" stop-color="#b92500"/><stop offset="0.696" stop-color="#b42000"/><stop offset="0.709" stop-color="#ac1846"/><stop offset="0.72" stop-color="#a81568"/><stop offset="0.728" stop-color="#a61378"/><stop offset="0.745" stop-color="#a5137b"/><stop offset="0.758" stop-color="#a61375"/><stop offset="0.769" stop-color="#a91562"/><stop offset="0.774" stop-color="#ab1752"/><stop offset="0.78" stop-color="#ae1a36"/><stop offset="0.783" stop-color="#b11c1f"/><stop offset="0.785" stop-color="#b42000"/><stop offset="0.807" stop-color="#cb4000"/><stop offset="0.845" stop-color="#de7000"/><stop offset="0.856" stop-color="#de6f00"/><stop offset="0.88" stop-color="#d55600"/><stop offset="0.924" stop-color="#c63700"/><stop offset="0.943" stop-color="#b62200"/><stop offset="0.946" stop-color="#b31f09"/><stop offset="0.957" stop-color="#a5137b"/><stop offset="0.962" stop-color="#9f0fa5"/><stop offset="0.97" stop-color="#970bcf"/><stop offset="0.978" stop-color="#9008e8"/><stop offset="0.989" stop-color="#8b07f5"/><stop offset="1" stop-color="#8806fa"/></linearGradient><linearGradient id="g105"><stop offset="0" stop-color="#8c07f2"/><stop offset="0.022" stop-color="#8204ff"/><stop offset="0.049" stop-color="#7603f9"/><stop offset="0.098" stop-color="#6601d8"/><stop offset="0.12" stop-color="#6101c8"/><stop offset="0.136" stop-color="#6201cb"/><stop offset="0.171" stop-color="#6a01e1"/><stop offset="0.188" stop-color="#6801dc"/><stop offset="0.239" stop-color="#5400a0"/><stop offset="0.266" stop-color="#510096"/><stop offset="0.345" stop-color="#520099"/><stop offset="0.454" stop-color="#5f01c2"/><stop offset="0.519" stop-color="#6701da"/><stop offset="0.546" stop-color="#6c01e7"/><stop offset="0.554" stop-color="#6c01e5"/><stop offset="0.573" stop-color="#7803fb"/><stop offset="0.592" stop-color="#8405fe"/><stop offset="0.603" stop-color="#8c07f2"/><stop offset="0.609" stop-color="#9109e4"/><stop offset="0.614" stop-color="#980bca"/><stop offset="0.622" stop-color="#a21190"/><stop offset="0.639" stop-color="#b31e0d"/><stop offset="0.641" stop-color="#b52100"/><stop offset="0.668" stop-color="#be2b00"/><stop offset="0.696" stop-color="#b92600"/><stop offset="0.701" stop-color="#b62100"/><stop offset="0.704" stop-color="#b41f05"/><stop offset="0.712" stop-color="#ae1a34"/><stop offset="0.723" stop-color="#a9165f"/><stop offset="0.731" stop-color="#a71470"/><stop offset="0.753" stop-color="#a61375"/><stop offset="0.764" stop-color="#a81569"/><stop offset="0.772" stop-color="#aa1756"/><stop offset="0.777" stop-color="#ad1941"/><stop offset="0.78" stop-color="#af1a30"/><stop offset="0.785" stop-color="#b52100"/><stop offset="0.804" stop-color="#c93d00"/><stop offset="0.842" stop-color="#de6e00"/><stop offset="0.853" stop-color="#df7100"/><stop offset="0.886" stop-color="#d35200"/><stop offset="0.924" stop-color="#c53600"/><stop offset="0.943" stop-color="#b52000"/><stop offset="0.946" stop-color="#b21d17"/><stop offset="0.954" stop-color="#a71470"/><stop offset="0.959" stop-color="#a00f9f"/><stop offset="0.965" stop-color="#9a0cc0"/><stop offset="0.973" stop-color="#9209df"/><stop offset="0.981" stop-color="#8d07f0"/><stop offset="0.997" stop-color="#8706fb"/><stop offset="1" stop-color="#8605fb"/></linearGradient><linearGradient id="g106"><stop offset="0" stop-color="#8a06f6"/><stop offset="0.024" stop-color="#7f04ff"/><stop offset="0.057" stop-color="#7202f3"/><stop offset="0.101" stop-color="#6301d0"/><stop offset="0.122" stop-color="#5e01c0"/><stop offset="0.144" stop-color="#6101ca"/><stop offset="0.168" stop-color="#6801dc"/><stop offset="0.182" stop-color="#6801dd"/><stop offset="0.198" stop-color="#6201cc"/><stop offset="0.231" stop-color="#5400a2"/><stop offset="0.25" stop-color="#500094"/><stop offset="0.293" stop-color="#4f008f"/><stop offset="0.345" stop-color="#500095"/><stop offset="0.435" stop-color="#5d01bd"/><stop offset="0.519" stop-color="#6801dc"/><stop offset="0.543" stop-color="#6d02e9"/><stop offset="0.554" stop-color="#6c01e7"/><stop offset="0.573" stop-color="#7903fc"/><stop offset="0.59" stop-color="#8305fe"/><stop offset="0.601" stop-color="#8c07f2"/><stop offset="0.609" stop-color="#950ad8"/><stop offset="0.614" stop-color="#9c0db4"/><stop offset="0.63" stop-color="#b11c1f"/><stop offset="0.633" stop-color="#b31f08"/><stop offset="0.636" stop-color="#b62100"/><stop offset="0.655" stop-color="#c02e00"/><stop offset="0.685" stop-color="#c13000"/><stop offset="0.704" stop-color="#b82400"/><stop offset="0.707" stop-color="#b62100"/><stop offset="0.709" stop-color="#b41f06"/><stop offset="0.72" stop-color="#ad193f"/><stop offset="0.728" stop-color="#a9165d"/><stop offset="0.739" stop-color="#a7146b"/><stop offset="0.753" stop-color="#a71470"/><stop offset="0.761" stop-color="#a81569"/><stop offset="0.772" stop-color="#ab174f"/><stop offset="0.777" stop-color="#ae1a39"/><stop offset="0.78" stop-color="#b01b28"/><stop offset="0.783" stop-color="#b21e11"/><stop offset="0.785" stop-color="#b62200"/><stop offset="0.812" stop-color="#cf4a00"/><stop offset="0.845" stop-color="#de7000"/><stop offset="0.856" stop-color="#de6f00"/><stop offset="0.883" stop-color="#d45400"/><stop offset="0.921" stop-color="#c63800"/><stop offset="0.94" stop-color="#b62200"/><stop offset="0.943" stop-color="#b31f08"/><stop offset="0.954" stop-color="#a5137e"/><stop offset="0.959" stop-color="#9e0ead"/><stop offset="0.965" stop-color="#980bca"/><stop offset="0.973" stop-color="#9109e5"/><stop offset="0.984" stop-color="#8a06f6"/><stop offset="1" stop-color="#8505fd"/></linearGradient><linearGradient id="g107"><stop offset="0" stop-color="#8806f9"/><stop offset="0.027" stop-color="#7d04ff"/><stop offset="0.06" stop-color="#7002ef"/><stop offset="0.103" stop-color="#6101c8"/><stop offset="0.12" stop-color="#5c01ba"/><stop offset="0.136" stop-color="#5d01be"/><stop offset="0.171" stop-color="#6701d9"/><stop offset="0.185" stop-color="#6601d9"/><stop offset="0.207" stop-color="#5c01bb"/><stop offset="0.239" stop-color="#500094"/><stop offset="0.266" stop-color="#4d008a"/><stop offset="0.34" stop-color="#4e008e"/><stop offset="0.429" stop-color="#5c01bb"/><stop offset="0.533" stop-color="#6b01e5"/><stop offset="0.546" stop-color="#6e02ea"/><stop offset="0.557" stop-color="#6e02eb"/><stop offset="0.568" stop-color="#7703f9"/><stop offset="0.584" stop-color="#8004ff"/><stop offset="0.595" stop-color="#8a06f7"/><stop offset="0.603" stop-color="#9209e1"/><stop offset="0.609" stop-color="#990cc5"/><stop offset="0.614" stop-color="#a11099"/><stop offset="0.625" stop-color="#b01c25"/><stop offset="0.628" stop-color="#b31e0c"/><stop offset="0.63" stop-color="#b62100"/><stop offset="0.652" stop-color="#c33300"/><stop offset="0.677" stop-color="#c53700"/><stop offset="0.698" stop-color="#bf2d00"/><stop offset="0.712" stop-color="#b52100"/><stop offset="0.715" stop-color="#b41f07"/><stop offset="0.726" stop-color="#ad1940"/><stop offset="0.734" stop-color="#aa1657"/><stop offset="0.75" stop-color="#a8156a"/><stop offset="0.758" stop-color="#a81566"/><stop offset="0.769" stop-color="#ab174d"/><stop offset="0.777" stop-color="#af1b2c"/><stop offset="0.78" stop-color="#b11d1c"/><stop offset="0.783" stop-color="#b41f06"/><stop offset="0.785" stop-color="#b72300"/><stop offset="0.812" stop-color="#d04a00"/><stop offset="0.842" stop-color="#de6f00"/><stop offset="0.856" stop-color="#de6f00"/><stop offset="0.889" stop-color="#d35100"/><stop offset="0.921" stop-color="#c63700"/><stop offset="0.94" stop-color="#b52100"/><stop offset="0.943" stop-color="#b21d15"/><stop offset="0.954" stop-color="#a3118d"/><stop offset="0.959" stop-color="#9b0dba"/><stop offset="0.965" stop-color="#950ad5"/><stop offset="0.976" stop-color="#8d07f0"/><stop offset="0.992" stop-color="#8505fc"/><stop offset="1" stop-color="#8305fe"/></linearGradient><linearGradient id="g108"><stop offset="0" stop-color="#8706fb"/><stop offset="0.027" stop-color="#7c03fe"/><stop offset="0.054" stop-color="#7102f1"/><stop offset="0.098" stop-color="#6101c8"/><stop offset="0.12" stop-color="#5a00b3"/><stop offset="0.136" stop-color="#5b01b7"/><stop offset="0.171" stop-color="#6501d5"/><stop offset="0.185" stop-color="#6501d6"/><stop offset="0.198" stop-color="#5f01c4"/><stop offset="0.226" stop-color="#53009c"/><stop offset="0.247" stop-color="#4d0089"/><stop offset="0.285" stop-color="#4b0084"/><stop offset="0.342" stop-color="#4d008a"/><stop offset="0.413" stop-color="#5a00b4"/><stop offset="0.546" stop-color="#6e02ec"/><stop offset="0.554" stop-color="#6e02ea"/><stop offset="0.571" stop-color="#7903fc"/><stop offset="0.587" stop-color="#8405fe"/><stop offset="0.595" stop-color="#8c07f1"/><stop offset="0.601" stop-color="#9309de"/><stop offset="0.606" stop-color="#9a0cc1"/><stop offset="0.611" stop-color="#a11094"/><stop offset="0.622" stop-color="#b11d1a"/><stop offset="0.625" stop-color="#b52000"/><stop offset="0.649" stop-color="#c63700"/><stop offset="0.674" stop-color="#c93e00"/><stop offset="0.701" stop-color="#c02f00"/><stop offset="0.717" stop-color="#b52100"/><stop offset="0.72" stop-color="#b31f0a"/><stop offset="0.726" stop-color="#b01b28"/><stop offset="0.734" stop-color="#ac1845"/><stop offset="0.745" stop-color="#a9165c"/><stop offset="0.753" stop-color="#a91562"/><stop offset="0.758" stop-color="#a9165e"/><stop offset="0.769" stop-color="#ad1940"/><stop offset="0.777" stop-color="#b11c1e"/><stop offset="0.783" stop-color="#b52100"/><stop offset="0.815" stop-color="#d24f00"/><stop offset="0.842" stop-color="#de6f00"/><stop offset="0.856" stop-color="#de6f00"/><stop offset="0.889" stop-color="#d35200"/><stop offset="0.924" stop-color="#c33300"/><stop offset="0.938" stop-color="#b72300"/><stop offset="0.94" stop-color="#b41f04"/><stop offset="0.954" stop-color="#a0109b"/><stop offset="0.959" stop-color="#990cc6"/><stop offset="0.965" stop-color="#9309de"/><stop offset="0.976" stop-color="#8b07f4"/><stop offset="0.995" stop-color="#8305fe"/><stop offset="1" stop-color="#8204ff"/></linearGradient><linearGradient id="g109"><stop offset="0" stop-color="#8505fd"/><stop offset="0.03" stop-color="#7a03fd"/><stop offset="0.06" stop-color="#6e02eb"/><stop offset="0.106" stop-color="#5c01b9"/><stop offset="0.122" stop-color="#5700ab"/><stop offset="0.139" stop-color="#5900b2"/><stop offset="0.174" stop-color="#6401d2"/><stop offset="0.185" stop-color="#6401d2"/><stop offset="0.198" stop-color="#5e01c0"/><stop offset="0.22" stop-color="#53009d"/><stop offset="0.245" stop-color="#4b0084"/><stop offset="0.283" stop-color="#49007e"/><stop offset="0.342" stop-color="#4b0085"/><stop offset="0.408" stop-color="#5900b1"/><stop offset="0.546" stop-color="#6f02ed"/><stop offset="0.554" stop-color="#6f02ec"/><stop offset="0.568" stop-color="#7903fc"/><stop offset="0.584" stop-color="#8305fe"/><stop offset="0.592" stop-color="#8c07f3"/><stop offset="0.598" stop-color="#9309dd"/><stop offset="0.603" stop-color="#9b0dbc"/><stop offset="0.609" stop-color="#a2118e"/><stop offset="0.614" stop-color="#ab1753"/><stop offset="0.62" stop-color="#b21e11"/><stop offset="0.622" stop-color="#b62200"/><stop offset="0.647" stop-color="#c83b00"/><stop offset="0.668" stop-color="#cd4500"/><stop offset="0.693" stop-color="#c73900"/><stop offset="0.723" stop-color="#b42000"/><stop offset="0.731" stop-color="#b01b28"/><stop offset="0.745" stop-color="#ab1751"/><stop offset="0.753" stop-color="#aa165a"/><stop offset="0.761" stop-color="#ab174e"/><stop offset="0.772" stop-color="#b01b27"/><stop offset="0.78" stop-color="#b42000"/><stop offset="0.807" stop-color="#cc4300"/><stop offset="0.832" stop-color="#da6400"/><stop offset="0.848" stop-color="#df7100"/><stop offset="0.859" stop-color="#dd6c00"/><stop offset="0.902" stop-color="#cf4800"/><stop offset="0.929" stop-color="#be2c00"/><stop offset="0.938" stop-color="#b62100"/><stop offset="0.94" stop-color="#b21e10"/><stop offset="0.951" stop-color="#a3118d"/><stop offset="0.957" stop-color="#9a0cbf"/><stop offset="0.959" stop-color="#960bd1"/><stop offset="0.965" stop-color="#9109e5"/><stop offset="0.976" stop-color="#8906f7"/><stop offset="0.997" stop-color="#8104ff"/><stop offset="1" stop-color="#8004ff"/></linearGradient><linearGradient id="g110"><stop offset="0" stop-color="#8305fe"/><stop offset="0.03" stop-color="#7903fc"/><stop offset="0.057" stop-color="#6e02eb"/><stop offset="0.103" stop-color="#5b01b6"/><stop offset="0.12" stop-color="#5500a5"/><stop offset="0.136" stop-color="#5600a8"/><stop offset="0.174" stop-color="#6301ce"/><stop offset="0.185" stop-color="#6301cf"/><stop offset="0.196" stop-color="#5e01c1"/><stop offset="0.217" stop-color="#52009b"/><stop offset="0.242" stop-color="#4a0080"/><stop offset="0.272" stop-color="#470079"/><stop offset="0.34" stop-color="#4a007f"/><stop offset="0.399" stop-color="#5700ab"/><stop offset="0.489" stop-color="#6501d6"/><stop offset="0.546" stop-color="#7002ee"/><stop offset="0.557" stop-color="#7102f0"/><stop offset="0.568" stop-color="#7a03fd"/><stop offset="0.584" stop-color="#8405fd"/><stop offset="0.59" stop-color="#8b07f5"/><stop offset="0.595" stop-color="#9309df"/><stop offset="0.601" stop-color="#9b0db9"/><stop offset="0.606" stop-color="#a41287"/><stop offset="0.614" stop-color="#af1b2a"/><stop offset="0.617" stop-color="#b31f09"/><stop offset="0.62" stop-color="#b72300"/><stop offset="0.641" stop-color="#c93d00"/><stop offset="0.666" stop-color="#d04b00"/><stop offset="0.682" stop-color="#cd4500"/><stop offset="0.726" stop-color="#b52100"/><stop offset="0.728" stop-color="#b41f06"/><stop offset="0.742" stop-color="#ad193d"/><stop offset="0.75" stop-color="#ab1750"/><stop offset="0.755" stop-color="#ab174f"/><stop offset="0.761" stop-color="#ac1844"/><stop offset="0.774" stop-color="#b31e0f"/><stop offset="0.777" stop-color="#b42003"/><stop offset="0.793" stop-color="#c13000"/><stop offset="0.823" stop-color="#d75b00"/><stop offset="0.845" stop-color="#df7100"/><stop offset="0.859" stop-color="#dd6c00"/><stop offset="0.916" stop-color="#c83b00"/><stop offset="0.938" stop-color="#b42001"/><stop offset="0.946" stop-color="#aa165b"/><stop offset="0.951" stop-color="#a11099"/><stop offset="0.954" stop-color="#9c0db4"/><stop offset="0.959" stop-color="#940ad9"/><stop offset="0.965" stop-color="#8f08eb"/><stop offset="0.976" stop-color="#8806f9"/><stop offset="1" stop-color="#7f04ff"/></linearGradient><linearGradient id="g111"><stop offset="0" stop-color="#8204ff"/><stop offset="0.033" stop-color="#7703fa"/><stop offset="0.057" stop-color="#6d02e8"/><stop offset="0.101" stop-color="#5a00b3"/><stop offset="0.12" stop-color="#53009d"/><stop offset="0.133" stop-color="#54009f"/><stop offset="0.174" stop-color="#6101c9"/><stop offset="0.185" stop-color="#6201cb"/><stop offset="0.196" stop-color="#5d01bd"/><stop offset="0.217" stop-color="#510096"/><stop offset="0.242" stop-color="#48007b"/><stop offset="0.264" stop-color="#460074"/><stop offset="0.34" stop-color="#48007a"/><stop offset="0.405" stop-color="#5800ad"/><stop offset="0.478" stop-color="#6401d2"/><stop offset="0.546" stop-color="#7102f0"/><stop offset="0.554" stop-color="#7002ef"/><stop offset="0.568" stop-color="#7b03fe"/><stop offset="0.584" stop-color="#8706fb"/><stop offset="0.59" stop-color="#8d07ef"/><stop offset="0.595" stop-color="#960bd0"/><stop offset="0.601" stop-color="#a0109e"/><stop offset="0.614" stop-color="#b52000"/><stop offset="0.636" stop-color="#ca3e00"/><stop offset="0.652" stop-color="#d04c00"/><stop offset="0.671" stop-color="#d25000"/><stop offset="0.717" stop-color="#bd2a00"/><stop offset="0.731" stop-color="#b42000"/><stop offset="0.742" stop-color="#af1a30"/><stop offset="0.75" stop-color="#ac1846"/><stop offset="0.755" stop-color="#ac1846"/><stop offset="0.761" stop-color="#ae193b"/><stop offset="0.774" stop-color="#b41f06"/><stop offset="0.777" stop-color="#b52000"/><stop offset="0.802" stop-color="#c83b00"/><stop offset="0.832" stop-color="#da6500"/><stop offset="0.845" stop-color="#de7000"/><stop offset="0.859" stop-color="#dd6b00"/><stop offset="0.913" stop-color="#c93c00"/><stop offset="0.935" stop-color="#b62100"/><stop offset="0.938" stop-color="#b31e0f"/><stop offset="0.951" stop-color="#9f0fa5"/><stop offset="0.954" stop-color="#9a0dbe"/><stop offset="0.959" stop-color="#9209df"/><stop offset="0.965" stop-color="#8d07ef"/><stop offset="0.976" stop-color="#8605fb"/><stop offset="1" stop-color="#7e04ff"/></linearGradient><linearGradient id="g112"><stop offset="0" stop-color="#8004ff"/><stop offset="0.03" stop-color="#7703fa"/><stop offset="0.054" stop-color="#6d02e8"/><stop offset="0.103" stop-color="#5600a9"/><stop offset="0.12" stop-color="#510096"/><stop offset="0.133" stop-color="#510098"/><stop offset="0.177" stop-color="#6001c7"/><stop offset="0.188" stop-color="#6001c6"/><stop offset="0.217" stop-color="#4f0091"/><stop offset="0.242" stop-color="#460075"/><stop offset="0.274" stop-color="#44006f"/><stop offset="0.34" stop-color="#460076"/><stop offset="0.372" stop-color="#500092"/><stop offset="0.435" stop-color="#5d01be"/><stop offset="0.546" stop-color="#7102f1"/><stop offset="0.557" stop-color="#7202f3"/><stop offset="0.568" stop-color="#7c03fe"/><stop offset="0.582" stop-color="#8706fb"/><stop offset="0.587" stop-color="#8d07f0"/><stop offset="0.59" stop-color="#9109e4"/><stop offset="0.592" stop-color="#960bd2"/><stop offset="0.595" stop-color="#9b0dba"/><stop offset="0.601" stop-color="#a51379"/><stop offset="0.609" stop-color="#b31e0f"/><stop offset="0.611" stop-color="#b62200"/><stop offset="0.63" stop-color="#ca3f00"/><stop offset="0.649" stop-color="#d35200"/><stop offset="0.671" stop-color="#d55500"/><stop offset="0.734" stop-color="#b52000"/><stop offset="0.739" stop-color="#b21d15"/><stop offset="0.745" stop-color="#af1b2d"/><stop offset="0.75" stop-color="#ad193b"/><stop offset="0.755" stop-color="#ad193c"/><stop offset="0.761" stop-color="#af1a31"/><stop offset="0.774" stop-color="#b42000"/><stop offset="0.791" stop-color="#bf2e00"/><stop offset="0.829" stop-color="#d96100"/><stop offset="0.845" stop-color="#de6e00"/><stop offset="0.861" stop-color="#db6500"/><stop offset="0.91" stop-color="#c93d00"/><stop offset="0.932" stop-color="#b72300"/><stop offset="0.935" stop-color="#b41f04"/><stop offset="0.948" stop-color="#a11096"/><stop offset="0.954" stop-color="#990cc7"/><stop offset="0.959" stop-color="#9109e4"/><stop offset="0.965" stop-color="#8c07f2"/><stop offset="0.976" stop-color="#8505fc"/><stop offset="1" stop-color="#7d03fe"/></linearGradient><linearGradient id="g113"><stop offset="0" stop-color="#7f04ff"/><stop offset="0.03" stop-color="#7603f9"/><stop offset="0.057" stop-color="#6a01e2"/><stop offset="0.103" stop-color="#5400a2"/><stop offset="0.12" stop-color="#4e008e"/><stop offset="0.13" stop-color="#4e008f"/><stop offset="0.152" stop-color="#5600a7"/><stop offset="0.177" stop-color="#5f01c2"/><stop offset="0.188" stop-color="#5e01c1"/><stop offset="0.198" stop-color="#5800af"/><stop offset="0.217" stop-color="#4e008d"/><stop offset="0.242" stop-color="#450070"/><stop offset="0.269" stop-color="#43006b"/><stop offset="0.34" stop-color="#450071"/><stop offset="0.364" stop-color="#4c0086"/><stop offset="0.421" stop-color="#5a00b4"/><stop offset="0.481" stop-color="#6501d3"/><stop offset="0.546" stop-color="#7202f3"/><stop offset="0.557" stop-color="#7302f4"/><stop offset="0.568" stop-color="#7e04ff"/><stop offset="0.579" stop-color="#8706fa"/><stop offset="0.584" stop-color="#8d07ef"/><stop offset="0.59" stop-color="#960ad4"/><stop offset="0.592" stop-color="#9b0dbb"/><stop offset="0.595" stop-color="#a0109b"/><stop offset="0.603" stop-color="#b01c23"/><stop offset="0.606" stop-color="#b52000"/><stop offset="0.625" stop-color="#ca4000"/><stop offset="0.644" stop-color="#d55700"/><stop offset="0.666" stop-color="#d75c00"/><stop offset="0.682" stop-color="#d25000"/><stop offset="0.726" stop-color="#bb2800"/><stop offset="0.736" stop-color="#b52100"/><stop offset="0.739" stop-color="#b41f06"/><stop offset="0.745" stop-color="#b11c20"/><stop offset="0.75" stop-color="#af1a30"/><stop offset="0.755" stop-color="#af1a31"/><stop offset="0.764" stop-color="#b11c1f"/><stop offset="0.772" stop-color="#b42003"/><stop offset="0.788" stop-color="#bd2b00"/><stop offset="0.81" stop-color="#ce4700"/><stop offset="0.834" stop-color="#da6500"/><stop offset="0.848" stop-color="#dc6a00"/><stop offset="0.908" stop-color="#c93d00"/><stop offset="0.932" stop-color="#b52100"/><stop offset="0.935" stop-color="#b21d17"/><stop offset="0.948" stop-color="#9f0fa3"/><stop offset="0.954" stop-color="#970bce"/><stop offset="0.959" stop-color="#9008e8"/><stop offset="0.967" stop-color="#8906f8"/><stop offset="0.986" stop-color="#8004ff"/><stop offset="1" stop-color="#7c03fe"/></linearGradient><linearGradient id="g114"><stop offset="0" stop-color="#7e04ff"/><stop offset="0.03" stop-color="#7502f7"/><stop offset="0.054" stop-color="#6a01e1"/><stop offset="0.117" stop-color="#4c0088"/><stop offset="0.128" stop-color="#4c0086"/><stop offset="0.147" stop-color="#520099"/><stop offset="0.171" stop-color="#5c01b9"/><stop offset="0.185" stop-color="#5d01be"/><stop offset="0.196" stop-color="#5900b0"/><stop offset="0.215" stop-color="#4e008d"/><stop offset="0.239" stop-color="#44006e"/><stop offset="0.261" stop-color="#410066"/><stop offset="0.34" stop-color="#43006c"/><stop offset="0.364" stop-color="#4a0081"/><stop offset="0.429" stop-color="#5b01b7"/><stop offset="0.533" stop-color="#7002ee"/><stop offset="0.546" stop-color="#7302f4"/><stop offset="0.557" stop-color="#7402f6"/><stop offset="0.568" stop-color="#7f04ff"/><stop offset="0.576" stop-color="#8806fa"/><stop offset="0.582" stop-color="#8e08ee"/><stop offset="0.587" stop-color="#960ad4"/><stop offset="0.59" stop-color="#9a0dbd"/><stop offset="0.592" stop-color="#a0109e"/><stop offset="0.598" stop-color="#ac184b"/><stop offset="0.601" stop-color="#b11d1d"/><stop offset="0.603" stop-color="#b62200"/><stop offset="0.625" stop-color="#cf4800"/><stop offset="0.644" stop-color="#d96000"/><stop offset="0.666" stop-color="#d96100"/><stop offset="0.677" stop-color="#d65a00"/><stop offset="0.707" stop-color="#c73900"/><stop offset="0.739" stop-color="#b52100"/><stop offset="0.742" stop-color="#b41f06"/><stop offset="0.747" stop-color="#b11d1d"/><stop offset="0.753" stop-color="#b01b27"/><stop offset="0.758" stop-color="#b01c23"/><stop offset="0.772" stop-color="#b52000"/><stop offset="0.791" stop-color="#c02e00"/><stop offset="0.826" stop-color="#d75c00"/><stop offset="0.842" stop-color="#db6600"/><stop offset="0.856" stop-color="#d96100"/><stop offset="0.916" stop-color="#c33200"/><stop offset="0.929" stop-color="#b62200"/><stop offset="0.932" stop-color="#b31e0d"/><stop offset="0.943" stop-color="#a51280"/><stop offset="0.948" stop-color="#9d0eb0"/><stop offset="0.954" stop-color="#950ad5"/><stop offset="0.959" stop-color="#8f08ec"/><stop offset="0.97" stop-color="#8605fb"/><stop offset="0.992" stop-color="#7d04ff"/><stop offset="1" stop-color="#7b03fd"/></linearGradient><linearGradient id="g115"><stop offset="0" stop-color="#7c03fe"/><stop offset="0.024" stop-color="#7602f8"/><stop offset="0.052" stop-color="#6901e0"/><stop offset="0.106" stop-color="#4e008f"/><stop offset="0.12" stop-color="#49007f"/><stop offset="0.13" stop-color="#4a007f"/><stop offset="0.155" stop-color="#54009f"/><stop offset="0.174" stop-color="#5b01b6"/><stop offset="0.185" stop-color="#5c01b9"/><stop offset="0.196" stop-color="#5700ab"/><stop offset="0.217" stop-color="#4b0085"/><stop offset="0.242" stop-color="#420067"/><stop offset="0.266" stop-color="#400062"/><stop offset="0.342" stop-color="#420068"/><stop offset="0.427" stop-color="#5900b0"/><stop offset="0.538" stop-color="#7202f3"/><stop offset="0.557" stop-color="#7502f7"/><stop offset="0.568" stop-color="#8104ff"/><stop offset="0.576" stop-color="#8b07f5"/><stop offset="0.582" stop-color="#9209e2"/><stop offset="0.584" stop-color="#960ad4"/><stop offset="0.587" stop-color="#9a0cbf"/><stop offset="0.59" stop-color="#9f0fa3"/><stop offset="0.592" stop-color="#a5137e"/><stop offset="0.598" stop-color="#b01c22"/><stop offset="0.601" stop-color="#b62200"/><stop offset="0.62" stop-color="#ce4700"/><stop offset="0.644" stop-color="#dc6900"/><stop offset="0.666" stop-color="#db6700"/><stop offset="0.679" stop-color="#d65900"/><stop offset="0.701" stop-color="#ca3f00"/><stop offset="0.742" stop-color="#b52100"/><stop offset="0.75" stop-color="#b11d1a"/><stop offset="0.755" stop-color="#b11d1d"/><stop offset="0.766" stop-color="#b31f09"/><stop offset="0.769" stop-color="#b42001"/><stop offset="0.788" stop-color="#be2b00"/><stop offset="0.829" stop-color="#d85d00"/><stop offset="0.845" stop-color="#da6200"/><stop offset="0.916" stop-color="#c13000"/><stop offset="0.929" stop-color="#b42001"/><stop offset="0.938" stop-color="#a9165d"/><stop offset="0.943" stop-color="#a21191"/><stop offset="0.948" stop-color="#9b0dbc"/><stop offset="0.954" stop-color="#940adc"/><stop offset="0.959" stop-color="#8d07ef"/><stop offset="0.97" stop-color="#8505fc"/><stop offset="0.995" stop-color="#7b03fe"/><stop offset="1" stop-color="#7a03fc"/></linearGradient><linearGradient id="g116"><stop offset="0" stop-color="#7b03fe"/><stop offset="0.027" stop-color="#7302f4"/><stop offset="0.052" stop-color="#6701db"/><stop offset="0.117" stop-color="#470079"/><stop offset="0.128" stop-color="#470076"/><stop offset="0.144" stop-color="#4c0088"/><stop offset="0.168" stop-color="#5700ac"/><stop offset="0.182" stop-color="#5a00b4"/><stop offset="0.193" stop-color="#5700aa"/><stop offset="0.226" stop-color="#460075"/><stop offset="0.245" stop-color="#400061"/><stop offset="0.274" stop-color="#3f005f"/><stop offset="0.323" stop-color="#3f0061"/><stop offset="0.345" stop-color="#410065"/><stop offset="0.438" stop-color="#5a00b3"/><stop offset="0.533" stop-color="#7102f1"/><stop offset="0.549" stop-color="#7402f6"/><stop offset="0.557" stop-color="#7602f8"/><stop offset="0.565" stop-color="#7f04ff"/><stop offset="0.573" stop-color="#8a06f6"/><stop offset="0.579" stop-color="#9209e3"/><stop offset="0.584" stop-color="#9a0cc0"/><stop offset="0.587" stop-color="#9f0fa7"/><stop offset="0.59" stop-color="#a41286"/><stop offset="0.595" stop-color="#af1b2f"/><stop offset="0.598" stop-color="#b42000"/><stop offset="0.614" stop-color="#cc4200"/><stop offset="0.636" stop-color="#dc6800"/><stop offset="0.647" stop-color="#df7300"/><stop offset="0.666" stop-color="#dd6c00"/><stop offset="0.677" stop-color="#d96100"/><stop offset="0.698" stop-color="#cc4300"/><stop offset="0.745" stop-color="#b52000"/><stop offset="0.75" stop-color="#b21e10"/><stop offset="0.755" stop-color="#b21e14"/><stop offset="0.769" stop-color="#b52000"/><stop offset="0.788" stop-color="#be2b00"/><stop offset="0.826" stop-color="#d65900"/><stop offset="0.84" stop-color="#d96000"/><stop offset="0.856" stop-color="#d65800"/><stop offset="0.913" stop-color="#c13000"/><stop offset="0.927" stop-color="#b62100"/><stop offset="0.929" stop-color="#b21e12"/><stop offset="0.938" stop-color="#a7146f"/><stop offset="0.943" stop-color="#a00fa0"/><stop offset="0.948" stop-color="#990cc6"/><stop offset="0.954" stop-color="#9209e2"/><stop offset="0.962" stop-color="#8a06f7"/><stop offset="0.978" stop-color="#8004ff"/><stop offset="1" stop-color="#7903fb"/></linearGradient><linearGradient id="g117"><stop offset="0" stop-color="#7a03fd"/><stop offset="0.027" stop-color="#7102f1"/><stop offset="0.054" stop-color="#6401d2"/><stop offset="0.114" stop-color="#460074"/><stop offset="0.125" stop-color="#44006e"/><stop offset="0.139" stop-color="#480079"/><stop offset="0.166" stop-color="#5500a4"/><stop offset="0.182" stop-color="#5800ae"/><stop offset="0.193" stop-color="#5500a5"/><stop offset="0.226" stop-color="#450072"/><stop offset="0.245" stop-color="#3e005d"/><stop offset="0.269" stop-color="#3e005b"/><stop offset="0.312" stop-color="#3e005e"/><stop offset="0.34" stop-color="#3e005d"/><stop offset="0.397" stop-color="#4d008b"/><stop offset="0.454" stop-color="#5c01b9"/><stop offset="0.533" stop-color="#7202f2"/><stop offset="0.549" stop-color="#7502f7"/><stop offset="0.557" stop-color="#7603f9"/><stop offset="0.565" stop-color="#8004ff"/><stop offset="0.571" stop-color="#8806f8"/><stop offset="0.576" stop-color="#9109e4"/><stop offset="0.582" stop-color="#9a0cc0"/><stop offset="0.587" stop-color="#a31289"/><stop offset="0.592" stop-color="#ad193c"/><stop offset="0.595" stop-color="#b31e0f"/><stop offset="0.598" stop-color="#b82400"/><stop offset="0.62" stop-color="#d35300"/><stop offset="0.641" stop-color="#e17900"/><stop offset="0.652" stop-color="#e27d00"/><stop offset="0.674" stop-color="#dc6800"/><stop offset="0.696" stop-color="#ce4700"/><stop offset="0.728" stop-color="#be2c00"/><stop offset="0.747" stop-color="#b42000"/><stop offset="0.753" stop-color="#b31f0b"/><stop offset="0.761" stop-color="#b31f07"/><stop offset="0.769" stop-color="#b52000"/><stop offset="0.788" stop-color="#be2b00"/><stop offset="0.826" stop-color="#d65800"/><stop offset="0.837" stop-color="#d85e00"/><stop offset="0.853" stop-color="#d55700"/><stop offset="0.886" stop-color="#cb4000"/><stop offset="0.921" stop-color="#ba2600"/><stop offset="0.927" stop-color="#b42003"/><stop offset="0.938" stop-color="#a41281"/><stop offset="0.943" stop-color="#9d0eaf"/><stop offset="0.948" stop-color="#960bd0"/><stop offset="0.954" stop-color="#9008e7"/><stop offset="0.962" stop-color="#8806f9"/><stop offset="0.978" stop-color="#7f04ff"/><stop offset="1" stop-color="#7703fa"/></linearGradient><linearGradient id="g118"><stop offset="0" stop-color="#7803fb"/><stop offset="0.019" stop-color="#7302f4"/><stop offset="0.046" stop-color="#6601d8"/><stop offset="0.114" stop-color="#43006c"/><stop offset="0.128" stop-color="#420067"/><stop offset="0.144" stop-color="#48007c"/><stop offset="0.166" stop-color="#53009e"/><stop offset="0.182" stop-color="#5600a8"/><stop offset="0.196" stop-color="#52009b"/><stop offset="0.236" stop-color="#3f0060"/><stop offset="0.253" stop-color="#3c0057"/><stop offset="0.307" stop-color="#3d005b"/><stop offset="0.34" stop-color="#3d0059"/><stop offset="0.367" stop-color="#43006b"/><stop offset="0.476" stop-color="#6001c5"/><stop offset="0.541" stop-color="#7502f8"/><stop offset="0.554" stop-color="#7502f7"/><stop offset="0.565" stop-color="#8204ff"/><stop offset="0.571" stop-color="#8b07f4"/><stop offset="0.576" stop-color="#950ad7"/><stop offset="0.582" stop-color="#9f0fa6"/><stop offset="0.587" stop-color="#a81566"/><stop offset="0.592" stop-color="#b11d19"/><stop offset="0.595" stop-color="#b62200"/><stop offset="0.617" stop-color="#d35100"/><stop offset="0.641" stop-color="#e48300"/><stop offset="0.652" stop-color="#e58700"/><stop offset="0.674" stop-color="#dd6c00"/><stop offset="0.693" stop-color="#d04b00"/><stop offset="0.72" stop-color="#c33200"/><stop offset="0.75" stop-color="#b42000"/><stop offset="0.758" stop-color="#b42003"/><stop offset="0.783" stop-color="#b92500"/><stop offset="0.818" stop-color="#d24f00"/><stop offset="0.834" stop-color="#d75c00"/><stop offset="0.851" stop-color="#d55600"/><stop offset="0.88" stop-color="#cb4000"/><stop offset="0.916" stop-color="#bd2a00"/><stop offset="0.924" stop-color="#b62100"/><stop offset="0.927" stop-color="#b21e12"/><stop offset="0.935" stop-color="#a61375"/><stop offset="0.938" stop-color="#a21192"/><stop offset="0.943" stop-color="#9b0dbc"/><stop offset="0.948" stop-color="#940ad9"/><stop offset="0.957" stop-color="#8c07f3"/><stop offset="0.97" stop-color="#8204ff"/><stop offset="1" stop-color="#7603f9"/></linearGradient><linearGradient id="g119"><stop offset="0" stop-color="#7703fa"/><stop offset="0.022" stop-color="#7002ef"/><stop offset="0.049" stop-color="#6301ce"/><stop offset="0.114" stop-color="#410065"/><stop offset="0.128" stop-color="#3f0060"/><stop offset="0.144" stop-color="#460075"/><stop offset="0.166" stop-color="#520099"/><stop offset="0.179" stop-color="#5400a1"/><stop offset="0.19" stop-color="#53009c"/><stop offset="0.239" stop-color="#3d0059"/><stop offset="0.255" stop-color="#3a0053"/><stop offset="0.304" stop-color="#3c0058"/><stop offset="0.34" stop-color="#3b0054"/><stop offset="0.383" stop-color="#450072"/><stop offset="0.527" stop-color="#7002ef"/><stop offset="0.543" stop-color="#7703f9"/><stop offset="0.554" stop-color="#7602f8"/><stop offset="0.565" stop-color="#8305fe"/><stop offset="0.568" stop-color="#8806f9"/><stop offset="0.571" stop-color="#8e07ee"/><stop offset="0.573" stop-color="#9309dd"/><stop offset="0.576" stop-color="#990cc6"/><stop offset="0.582" stop-color="#a31287"/><stop offset="0.59" stop-color="#b11d1b"/><stop offset="0.592" stop-color="#b52100"/><stop offset="0.614" stop-color="#d14e00"/><stop offset="0.639" stop-color="#e58700"/><stop offset="0.647" stop-color="#e89100"/><stop offset="0.658" stop-color="#e68a00"/><stop offset="0.679" stop-color="#da6400"/><stop offset="0.696" stop-color="#cf4900"/><stop offset="0.723" stop-color="#c23100"/><stop offset="0.753" stop-color="#b52000"/><stop offset="0.783" stop-color="#b92500"/><stop offset="0.815" stop-color="#d04b00"/><stop offset="0.834" stop-color="#d75b00"/><stop offset="0.853" stop-color="#d25000"/><stop offset="0.878" stop-color="#ca3f00"/><stop offset="0.916" stop-color="#bb2800"/><stop offset="0.924" stop-color="#b42002"/><stop offset="0.935" stop-color="#a41286"/><stop offset="0.94" stop-color="#9c0db7"/><stop offset="0.946" stop-color="#950ad6"/><stop offset="0.954" stop-color="#8d07f1"/><stop offset="0.965" stop-color="#8405fd"/><stop offset="0.984" stop-color="#7b03fd"/><stop offset="1" stop-color="#7502f7"/></linearGradient><linearGradient id="g120"><stop offset="0" stop-color="#7602f8"/><stop offset="0.022" stop-color="#6f02ec"/><stop offset="0.049" stop-color="#6101c8"/><stop offset="0.109" stop-color="#410065"/><stop offset="0.122" stop-color="#3d0059"/><stop offset="0.133" stop-color="#3f005e"/><stop offset="0.163" stop-color="#4f0090"/><stop offset="0.179" stop-color="#52009b"/><stop offset="0.193" stop-color="#500093"/><stop offset="0.242" stop-color="#3b0053"/><stop offset="0.261" stop-color="#39004f"/><stop offset="0.304" stop-color="#3b0055"/><stop offset="0.337" stop-color="#39004f"/><stop offset="0.37" stop-color="#400061"/><stop offset="0.522" stop-color="#6e02eb"/><stop offset="0.543" stop-color="#7703fa"/><stop offset="0.554" stop-color="#7703f9"/><stop offset="0.562" stop-color="#8004ff"/><stop offset="0.568" stop-color="#8b07f5"/><stop offset="0.571" stop-color="#9008e6"/><stop offset="0.573" stop-color="#970bd0"/><stop offset="0.579" stop-color="#a3118d"/><stop offset="0.587" stop-color="#b21d18"/><stop offset="0.59" stop-color="#b62100"/><stop offset="0.611" stop-color="#d04b00"/><stop offset="0.636" stop-color="#e68800"/><stop offset="0.644" stop-color="#e99600"/><stop offset="0.652" stop-color="#ea9700"/><stop offset="0.671" stop-color="#e17800"/><stop offset="0.69" stop-color="#d35100"/><stop offset="0.712" stop-color="#c73900"/><stop offset="0.753" stop-color="#b62100"/><stop offset="0.783" stop-color="#b82400"/><stop offset="0.807" stop-color="#cc4200"/><stop offset="0.832" stop-color="#d65800"/><stop offset="0.842" stop-color="#d55600"/><stop offset="0.875" stop-color="#c93d00"/><stop offset="0.916" stop-color="#ba2600"/><stop offset="0.921" stop-color="#b52100"/><stop offset="0.924" stop-color="#b21e12"/><stop offset="0.935" stop-color="#a11096"/><stop offset="0.938" stop-color="#9d0eb0"/><stop offset="0.943" stop-color="#960ad3"/><stop offset="0.948" stop-color="#9008e8"/><stop offset="0.959" stop-color="#8605fb"/><stop offset="0.976" stop-color="#7d04ff"/><stop offset="1" stop-color="#7402f6"/></linearGradient><linearGradient id="g121"><stop offset="0" stop-color="#7402f6"/><stop offset="0.019" stop-color="#6e02eb"/><stop offset="0.046" stop-color="#6001c6"/><stop offset="0.09" stop-color="#49007d"/><stop offset="0.114" stop-color="#3c0058"/><stop offset="0.125" stop-color="#3b0053"/><stop offset="0.136" stop-color="#3e005c"/><stop offset="0.163" stop-color="#4d008b"/><stop offset="0.179" stop-color="#500095"/><stop offset="0.193" stop-color="#4e008d"/><stop offset="0.228" stop-color="#3f005f"/><stop offset="0.247" stop-color="#38004c"/><stop offset="0.304" stop-color="#3a0051"/><stop offset="0.34" stop-color="#38004b"/><stop offset="0.383" stop-color="#410066"/><stop offset="0.519" stop-color="#6d02e9"/><stop offset="0.543" stop-color="#7803fb"/><stop offset="0.554" stop-color="#7703fa"/><stop offset="0.562" stop-color="#8205fe"/><stop offset="0.565" stop-color="#8806f9"/><stop offset="0.568" stop-color="#8e07ee"/><stop offset="0.571" stop-color="#940ada"/><stop offset="0.573" stop-color="#9a0dbd"/><stop offset="0.576" stop-color="#a11098"/><stop offset="0.584" stop-color="#b21d17"/><stop offset="0.587" stop-color="#b62200"/><stop offset="0.609" stop-color="#cf4900"/><stop offset="0.633" stop-color="#e58700"/><stop offset="0.644" stop-color="#eb9b00"/><stop offset="0.652" stop-color="#eb9b00"/><stop offset="0.668" stop-color="#e48100"/><stop offset="0.69" stop-color="#d35200"/><stop offset="0.709" stop-color="#c83b00"/><stop offset="0.75" stop-color="#b72300"/><stop offset="0.78" stop-color="#b72300"/><stop offset="0.81" stop-color="#cd4500"/><stop offset="0.834" stop-color="#d55800"/><stop offset="0.856" stop-color="#ce4700"/><stop offset="0.88" stop-color="#c63800"/><stop offset="0.913" stop-color="#ba2600"/><stop offset="0.918" stop-color="#b62200"/><stop offset="0.921" stop-color="#b41f06"/><stop offset="0.927" stop-color="#ad1941"/><stop offset="0.932" stop-color="#a41286"/><stop offset="0.938" stop-color="#9b0dbd"/><stop offset="0.943" stop-color="#930adc"/><stop offset="0.951" stop-color="#8c07f3"/><stop offset="0.965" stop-color="#8204ff"/><stop offset="0.992" stop-color="#7602f8"/><stop offset="1" stop-color="#7302f4"/></linearGradient><linearGradient id="g122"><stop offset="0" stop-color="#7202f3"/><stop offset="0.019" stop-color="#6c02e7"/><stop offset="0.046" stop-color="#5e01c1"/><stop offset="0.082" stop-color="#4b0083"/><stop offset="0.114" stop-color="#3a0053"/><stop offset="0.125" stop-color="#38004d"/><stop offset="0.136" stop-color="#3c0056"/><stop offset="0.163" stop-color="#4b0085"/><stop offset="0.179" stop-color="#4e008f"/><stop offset="0.196" stop-color="#4b0085"/><stop offset="0.242" stop-color="#38004c"/><stop offset="0.261" stop-color="#370048"/><stop offset="0.302" stop-color="#39004f"/><stop offset="0.337" stop-color="#360047"/><stop offset="0.364" stop-color="#3b0054"/><stop offset="0.397" stop-color="#450070"/><stop offset="0.527" stop-color="#7102f1"/><stop offset="0.543" stop-color="#7803fb"/><stop offset="0.557" stop-color="#7c03fe"/><stop offset="0.562" stop-color="#8505fc"/><stop offset="0.565" stop-color="#8b07f3"/><stop offset="0.568" stop-color="#9209e3"/><stop offset="0.571" stop-color="#980cc8"/><stop offset="0.573" stop-color="#9f0fa4"/><stop offset="0.582" stop-color="#b11d19"/><stop offset="0.584" stop-color="#b62200"/><stop offset="0.609" stop-color="#d24f00"/><stop offset="0.636" stop-color="#e89100"/><stop offset="0.644" stop-color="#eb9e00"/><stop offset="0.655" stop-color="#eb9b00"/><stop offset="0.674" stop-color="#e17800"/><stop offset="0.69" stop-color="#d35200"/><stop offset="0.712" stop-color="#c63800"/><stop offset="0.75" stop-color="#b72300"/><stop offset="0.783" stop-color="#b92500"/><stop offset="0.81" stop-color="#cd4500"/><stop offset="0.834" stop-color="#d55600"/><stop offset="0.851" stop-color="#cf4900"/><stop offset="0.872" stop-color="#c73900"/><stop offset="0.91" stop-color="#ba2600"/><stop offset="0.918" stop-color="#b42000"/><stop offset="0.924" stop-color="#af1a31"/><stop offset="0.932" stop-color="#a11095"/><stop offset="0.938" stop-color="#980cc8"/><stop offset="0.943" stop-color="#9109e4"/><stop offset="0.951" stop-color="#8a06f6"/><stop offset="0.965" stop-color="#8104ff"/><stop offset="0.992" stop-color="#7502f7"/><stop offset="1" stop-color="#7202f2"/></linearGradient><linearGradient id="g123"><stop offset="0" stop-color="#7102f0"/><stop offset="0.016" stop-color="#6c01e6"/><stop offset="0.041" stop-color="#5f01c4"/><stop offset="0.082" stop-color="#48007c"/><stop offset="0.114" stop-color="#38004d"/><stop offset="0.125" stop-color="#370048"/><stop offset="0.139" stop-color="#3b0055"/><stop offset="0.163" stop-color="#4a007f"/><stop offset="0.179" stop-color="#4d0089"/><stop offset="0.196" stop-color="#4a0080"/><stop offset="0.228" stop-color="#3c0058"/><stop offset="0.245" stop-color="#360046"/><stop offset="0.266" stop-color="#360046"/><stop offset="0.299" stop-color="#38004c"/><stop offset="0.334" stop-color="#340042"/><stop offset="0.361" stop-color="#39004e"/><stop offset="0.391" stop-color="#420067"/><stop offset="0.462" stop-color="#5900b2"/><stop offset="0.535" stop-color="#7602f8"/><stop offset="0.554" stop-color="#7a03fd"/><stop offset="0.56" stop-color="#8305fe"/><stop offset="0.562" stop-color="#8906f7"/><stop offset="0.565" stop-color="#9008e9"/><stop offset="0.568" stop-color="#960bd1"/><stop offset="0.571" stop-color="#9d0eaf"/><stop offset="0.573" stop-color="#a41284"/><stop offset="0.579" stop-color="#b11c1f"/><stop offset="0.582" stop-color="#b62200"/><stop offset="0.601" stop-color="#cd4500"/><stop offset="0.617" stop-color="#dc6a00"/><stop offset="0.636" stop-color="#e99500"/><stop offset="0.647" stop-color="#eca200"/><stop offset="0.658" stop-color="#ea9a00"/><stop offset="0.674" stop-color="#e27b00"/><stop offset="0.69" stop-color="#d35300"/><stop offset="0.707" stop-color="#c83c00"/><stop offset="0.739" stop-color="#bb2800"/><stop offset="0.761" stop-color="#b82400"/><stop offset="0.785" stop-color="#bc2900"/><stop offset="0.815" stop-color="#cf4900"/><stop offset="0.834" stop-color="#d45400"/><stop offset="0.848" stop-color="#cf4900"/><stop offset="0.867" stop-color="#c63900"/><stop offset="0.908" stop-color="#ba2600"/><stop offset="0.916" stop-color="#b52000"/><stop offset="0.918" stop-color="#b31e10"/><stop offset="0.924" stop-color="#ad1942"/><stop offset="0.932" stop-color="#9f0fa3"/><stop offset="0.935" stop-color="#9a0dbe"/><stop offset="0.94" stop-color="#9209e1"/><stop offset="0.946" stop-color="#8c07f1"/><stop offset="0.957" stop-color="#8505fd"/><stop offset="0.976" stop-color="#7b03fd"/><stop offset="1" stop-color="#7102f0"/></linearGradient><linearGradient id="g124"><stop offset="0" stop-color="#6f02ec"/><stop offset="0.016" stop-color="#6a01e2"/><stop offset="0.049" stop-color="#5900b0"/><stop offset="0.082" stop-color="#460075"/><stop offset="0.114" stop-color="#370048"/><stop offset="0.128" stop-color="#350044"/><stop offset="0.141" stop-color="#3b0055"/><stop offset="0.163" stop-color="#48007a"/><stop offset="0.182" stop-color="#4b0083"/><stop offset="0.204" stop-color="#450073"/><stop offset="0.242" stop-color="#350045"/><stop offset="0.261" stop-color="#340041"/><stop offset="0.299" stop-color="#370049"/><stop offset="0.337" stop-color="#33003e"/><stop offset="0.37" stop-color="#390050"/><stop offset="0.397" stop-color="#43006a"/><stop offset="0.438" stop-color="#510099"/><stop offset="0.53" stop-color="#7302f5"/><stop offset="0.546" stop-color="#7a03fd"/><stop offset="0.554" stop-color="#7c03fe"/><stop offset="0.56" stop-color="#8605fc"/><stop offset="0.562" stop-color="#8d07f0"/><stop offset="0.565" stop-color="#940ada"/><stop offset="0.568" stop-color="#9b0dbb"/><stop offset="0.571" stop-color="#a21192"/><stop offset="0.576" stop-color="#af1b2c"/><stop offset="0.579" stop-color="#b52100"/><stop offset="0.592" stop-color="#c93d00"/><stop offset="0.614" stop-color="#dc6800"/><stop offset="0.636" stop-color="#ea9800"/><stop offset="0.647" stop-color="#eda400"/><stop offset="0.658" stop-color="#eb9c00"/><stop offset="0.674" stop-color="#e27d00"/><stop offset="0.693" stop-color="#d14e00"/><stop offset="0.712" stop-color="#c53600"/><stop offset="0.75" stop-color="#b92500"/><stop offset="0.785" stop-color="#bd2a00"/><stop offset="0.818" stop-color="#cf4a00"/><stop offset="0.837" stop-color="#d35200"/><stop offset="0.864" stop-color="#c63700"/><stop offset="0.91" stop-color="#b62200"/><stop offset="0.913" stop-color="#b52000"/><stop offset="0.918" stop-color="#b01c22"/><stop offset="0.924" stop-color="#aa1754"/><stop offset="0.932" stop-color="#9d0eb1"/><stop offset="0.935" stop-color="#980bc9"/><stop offset="0.94" stop-color="#9008e8"/><stop offset="0.946" stop-color="#8b07f5"/><stop offset="0.959" stop-color="#8204ff"/><stop offset="0.984" stop-color="#7603f9"/><stop offset="1" stop-color="#7002ee"/></linearGradient><linearGradient id="g125"><stop offset="0" stop-color="#6d02e8"/><stop offset="0.016" stop-color="#6801dd"/><stop offset="0.046" stop-color="#5800ae"/><stop offset="0.079" stop-color="#450073"/><stop offset="0.114" stop-color="#350044"/><stop offset="0.125" stop-color="#33003f"/><stop offset="0.136" stop-color="#360048"/><stop offset="0.163" stop-color="#460074"/><stop offset="0.182" stop-color="#49007d"/><stop offset="0.209" stop-color="#420069"/><stop offset="0.242" stop-color="#340041"/><stop offset="0.258" stop-color="#32003e"/><stop offset="0.299" stop-color="#350045"/><stop offset="0.337" stop-color="#31003a"/><stop offset="0.364" stop-color="#360048"/><stop offset="0.391" stop-color="#400061"/><stop offset="0.432" stop-color="#500093"/><stop offset="0.527" stop-color="#7202f3"/><stop offset="0.546" stop-color="#7b03fd"/><stop offset="0.554" stop-color="#7d04ff"/><stop offset="0.557" stop-color="#8204ff"/><stop offset="0.56" stop-color="#8906f8"/><stop offset="0.562" stop-color="#9008e7"/><stop offset="0.565" stop-color="#980bca"/><stop offset="0.568" stop-color="#9f0fa4"/><stop offset="0.571" stop-color="#a61376"/><stop offset="0.576" stop-color="#b31f0b"/><stop offset="0.579" stop-color="#b92500"/><stop offset="0.595" stop-color="#ce4700"/><stop offset="0.617" stop-color="#df7400"/><stop offset="0.639" stop-color="#eb9d00"/><stop offset="0.649" stop-color="#eda400"/><stop offset="0.66" stop-color="#ea9900"/><stop offset="0.674" stop-color="#e37e00"/><stop offset="0.69" stop-color="#d45400"/><stop offset="0.707" stop-color="#c73a00"/><stop offset="0.731" stop-color="#be2b00"/><stop offset="0.758" stop-color="#b92500"/><stop offset="0.785" stop-color="#bd2a00"/><stop offset="0.818" stop-color="#cf4800"/><stop offset="0.837" stop-color="#d25000"/><stop offset="0.864" stop-color="#c43400"/><stop offset="0.908" stop-color="#b62100"/><stop offset="0.91" stop-color="#b42003"/><stop offset="0.918" stop-color="#ae1a38"/><stop offset="0.924" stop-color="#a81569"/><stop offset="0.932" stop-color="#9a0cbe"/><stop offset="0.935" stop-color="#960ad4"/><stop offset="0.938" stop-color="#9109e4"/><stop offset="0.943" stop-color="#8b07f4"/><stop offset="0.954" stop-color="#8405fe"/><stop offset="0.976" stop-color="#7903fc"/><stop offset="1" stop-color="#6f02ec"/></linearGradient><linearGradient id="g126"><stop offset="0" stop-color="#6b01e4"/><stop offset="0.019" stop-color="#6501d4"/><stop offset="0.054" stop-color="#510098"/><stop offset="0.082" stop-color="#420068"/><stop offset="0.114" stop-color="#33003f"/><stop offset="0.128" stop-color="#31003c"/><stop offset="0.141" stop-color="#38004b"/><stop offset="0.163" stop-color="#44006e"/><stop offset="0.182" stop-color="#470077"/><stop offset="0.209" stop-color="#410065"/><stop offset="0.242" stop-color="#32003e"/><stop offset="0.258" stop-color="#31003a"/><stop offset="0.296" stop-color="#340043"/><stop offset="0.334" stop-color="#2f0036"/><stop offset="0.359" stop-color="#330040"/><stop offset="0.389" stop-color="#3e005b"/><stop offset="0.429" stop-color="#4f008f"/><stop offset="0.524" stop-color="#7102f1"/><stop offset="0.546" stop-color="#7b03fe"/><stop offset="0.554" stop-color="#7f04ff"/><stop offset="0.557" stop-color="#8405fd"/><stop offset="0.56" stop-color="#8b07f4"/><stop offset="0.562" stop-color="#9309dd"/><stop offset="0.565" stop-color="#9b0dbc"/><stop offset="0.568" stop-color="#a21191"/><stop offset="0.573" stop-color="#b01b28"/><stop offset="0.576" stop-color="#b62200"/><stop offset="0.587" stop-color="#c83c00"/><stop offset="0.62" stop-color="#e27d00"/><stop offset="0.641" stop-color="#eca100"/><stop offset="0.652" stop-color="#eda300"/><stop offset="0.668" stop-color="#e68a00"/><stop offset="0.69" stop-color="#d45300"/><stop offset="0.707" stop-color="#c63900"/><stop offset="0.731" stop-color="#bd2a00"/><stop offset="0.758" stop-color="#b92500"/><stop offset="0.785" stop-color="#bd2a00"/><stop offset="0.815" stop-color="#cd4500"/><stop offset="0.837" stop-color="#d14d00"/><stop offset="0.864" stop-color="#c23100"/><stop offset="0.902" stop-color="#b52100"/><stop offset="0.905" stop-color="#b41f04"/><stop offset="0.916" stop-color="#ac1843"/><stop offset="0.921" stop-color="#a7146b"/><stop offset="0.932" stop-color="#970bcd"/><stop offset="0.938" stop-color="#8f08eb"/><stop offset="0.943" stop-color="#8906f8"/><stop offset="0.959" stop-color="#7f04ff"/><stop offset="0.981" stop-color="#7502f7"/><stop offset="1" stop-color="#6d02e9"/></linearGradient><linearGradient id="g127"><stop offset="0" stop-color="#6901de"/><stop offset="0.016" stop-color="#6401d2"/><stop offset="0.054" stop-color="#4f0092"/><stop offset="0.076" stop-color="#42006a"/><stop offset="0.111" stop-color="#32003d"/><stop offset="0.125" stop-color="#2f0037"/><stop offset="0.136" stop-color="#33003f"/><stop offset="0.166" stop-color="#43006b"/><stop offset="0.185" stop-color="#450070"/><stop offset="0.215" stop-color="#3e005c"/><stop offset="0.242" stop-color="#31003b"/><stop offset="0.258" stop-color="#300037"/><stop offset="0.296" stop-color="#330040"/><stop offset="0.334" stop-color="#2d0032"/><stop offset="0.356" stop-color="#31003b"/><stop offset="0.386" stop-color="#3b0055"/><stop offset="0.427" stop-color="#4d008c"/><stop offset="0.519" stop-color="#6f02ed"/><stop offset="0.543" stop-color="#7c03fe"/><stop offset="0.554" stop-color="#8104ff"/><stop offset="0.557" stop-color="#8605fc"/><stop offset="0.56" stop-color="#8d07ef"/><stop offset="0.562" stop-color="#950ad4"/><stop offset="0.565" stop-color="#9d0eae"/><stop offset="0.568" stop-color="#a5127f"/><stop offset="0.573" stop-color="#b21e12"/><stop offset="0.576" stop-color="#b92500"/><stop offset="0.59" stop-color="#cd4600"/><stop offset="0.617" stop-color="#e27a00"/><stop offset="0.633" stop-color="#e99500"/><stop offset="0.647" stop-color="#eda200"/><stop offset="0.655" stop-color="#eb9e00"/><stop offset="0.674" stop-color="#e17900"/><stop offset="0.69" stop-color="#d25100"/><stop offset="0.707" stop-color="#c63700"/><stop offset="0.734" stop-color="#bc2900"/><stop offset="0.755" stop-color="#b72300"/><stop offset="0.788" stop-color="#bf2d00"/><stop offset="0.821" stop-color="#cd4500"/><stop offset="0.837" stop-color="#cf4900"/><stop offset="0.864" stop-color="#bf2e00"/><stop offset="0.894" stop-color="#b42000"/><stop offset="0.905" stop-color="#af1a31"/><stop offset="0.918" stop-color="#a5137f"/><stop offset="0.932" stop-color="#940adb"/><stop offset="0.938" stop-color="#8c07f1"/><stop offset="0.946" stop-color="#8505fc"/><stop offset="0.965" stop-color="#7b03fe"/><stop offset="0.992" stop-color="#6e02ec"/><stop offset="1" stop-color="#6b01e4"/></linearGradient><linearGradient id="g128"><stop offset="0" stop-color="#6701d9"/><stop offset="0.019" stop-color="#6001c8"/><stop offset="0.057" stop-color="#4c0086"/><stop offset="0.079" stop-color="#3f005f"/><stop offset="0.114" stop-color="#2f0037"/><stop offset="0.128" stop-color="#2e0034"/><stop offset="0.141" stop-color="#340042"/><stop offset="0.163" stop-color="#400063"/><stop offset="0.185" stop-color="#43006b"/><stop offset="0.215" stop-color="#3c0058"/><stop offset="0.245" stop-color="#2f0036"/><stop offset="0.266" stop-color="#2f0036"/><stop offset="0.299" stop-color="#32003c"/><stop offset="0.334" stop-color="#2c002e"/><stop offset="0.361" stop-color="#31003b"/><stop offset="0.389" stop-color="#3c0056"/><stop offset="0.424" stop-color="#4c0088"/><stop offset="0.516" stop-color="#6e02eb"/><stop offset="0.546" stop-color="#7d04ff"/><stop offset="0.554" stop-color="#8205fe"/><stop offset="0.557" stop-color="#8806f9"/><stop offset="0.56" stop-color="#9008e9"/><stop offset="0.562" stop-color="#980bca"/><stop offset="0.565" stop-color="#a00fa0"/><stop offset="0.568" stop-color="#a7146f"/><stop offset="0.573" stop-color="#b52000"/><stop offset="0.587" stop-color="#cd4400"/><stop offset="0.625" stop-color="#e68b00"/><stop offset="0.644" stop-color="#ec9e00"/><stop offset="0.652" stop-color="#eb9d00"/><stop offset="0.668" stop-color="#e37e00"/><stop offset="0.69" stop-color="#d14c00"/><stop offset="0.709" stop-color="#c33400"/><stop offset="0.753" stop-color="#b52100"/><stop offset="0.788" stop-color="#be2c00"/><stop offset="0.821" stop-color="#cb4100"/><stop offset="0.837" stop-color="#cd4400"/><stop offset="0.87" stop-color="#ba2700"/><stop offset="0.883" stop-color="#b42003"/><stop offset="0.905" stop-color="#a81567"/><stop offset="0.929" stop-color="#9309de"/><stop offset="0.938" stop-color="#8a06f6"/><stop offset="0.948" stop-color="#8204fe"/><stop offset="0.97" stop-color="#7703fa"/><stop offset="1" stop-color="#6901df"/></linearGradient><linearGradient id="g129"><stop offset="0" stop-color="#6401d3"/><stop offset="0.016" stop-color="#5f01c5"/><stop offset="0.054" stop-color="#4b0084"/><stop offset="0.079" stop-color="#3d0059"/><stop offset="0.114" stop-color="#2e0033"/><stop offset="0.128" stop-color="#2d0031"/><stop offset="0.141" stop-color="#33003e"/><stop offset="0.163" stop-color="#3e005d"/><stop offset="0.182" stop-color="#410065"/><stop offset="0.212" stop-color="#3c0057"/><stop offset="0.245" stop-color="#2d0033"/><stop offset="0.266" stop-color="#2e0033"/><stop offset="0.296" stop-color="#31003a"/><stop offset="0.334" stop-color="#2a002b"/><stop offset="0.361" stop-color="#300038"/><stop offset="0.386" stop-color="#390050"/><stop offset="0.424" stop-color="#4c0088"/><stop offset="0.516" stop-color="#6e02ec"/><stop offset="0.543" stop-color="#7d04fe"/><stop offset="0.554" stop-color="#8405fd"/><stop offset="0.557" stop-color="#8a06f6"/><stop offset="0.56" stop-color="#9109e3"/><stop offset="0.562" stop-color="#9a0cc1"/><stop offset="0.565" stop-color="#a21094"/><stop offset="0.571" stop-color="#b01b27"/><stop offset="0.573" stop-color="#b62200"/><stop offset="0.584" stop-color="#cb4100"/><stop offset="0.622" stop-color="#e68900"/><stop offset="0.647" stop-color="#eb9b00"/><stop offset="0.655" stop-color="#e99400"/><stop offset="0.688" stop-color="#d04c00"/><stop offset="0.709" stop-color="#c23200"/><stop offset="0.745" stop-color="#b52000"/><stop offset="0.75" stop-color="#b31e0e"/><stop offset="0.755" stop-color="#b31e0e"/><stop offset="0.761" stop-color="#b52000"/><stop offset="0.791" stop-color="#c02e00"/><stop offset="0.834" stop-color="#cb4000"/><stop offset="0.853" stop-color="#c23100"/><stop offset="0.872" stop-color="#b52100"/><stop offset="0.875" stop-color="#b41f06"/><stop offset="0.899" stop-color="#a5127f"/><stop offset="0.913" stop-color="#9b0dbc"/><stop offset="0.927" stop-color="#9008e7"/><stop offset="0.938" stop-color="#8706fa"/><stop offset="0.954" stop-color="#7e04ff"/><stop offset="0.976" stop-color="#7202f3"/><stop offset="1" stop-color="#6601d8"/></linearGradient><linearGradient id="g130"><stop offset="0" stop-color="#6201cc"/><stop offset="0.016" stop-color="#5d01be"/><stop offset="0.054" stop-color="#49007e"/><stop offset="0.076" stop-color="#3c0057"/><stop offset="0.111" stop-color="#2d0032"/><stop offset="0.128" stop-color="#2b002d"/><stop offset="0.144" stop-color="#33003f"/><stop offset="0.166" stop-color="#3d005a"/><stop offset="0.188" stop-color="#3f005f"/><stop offset="0.217" stop-color="#39004e"/><stop offset="0.245" stop-color="#2c0030"/><stop offset="0.266" stop-color="#2c0030"/><stop offset="0.299" stop-color="#2f0037"/><stop offset="0.334" stop-color="#290029"/><stop offset="0.356" stop-color="#2d0032"/><stop offset="0.386" stop-color="#39004d"/><stop offset="0.424" stop-color="#4c0087"/><stop offset="0.514" stop-color="#6d02ea"/><stop offset="0.543" stop-color="#7d04ff"/><stop offset="0.554" stop-color="#8505fc"/><stop offset="0.557" stop-color="#8b07f4"/><stop offset="0.56" stop-color="#9309df"/><stop offset="0.562" stop-color="#9b0dba"/><stop offset="0.565" stop-color="#a3118a"/><stop offset="0.571" stop-color="#b11d1b"/><stop offset="0.573" stop-color="#b82400"/><stop offset="0.587" stop-color="#cf4900"/><stop offset="0.625" stop-color="#e78d00"/><stop offset="0.647" stop-color="#e99500"/><stop offset="0.655" stop-color="#e78d00"/><stop offset="0.685" stop-color="#d04b00"/><stop offset="0.704" stop-color="#c43400"/><stop offset="0.739" stop-color="#b52100"/><stop offset="0.742" stop-color="#b41f04"/><stop offset="0.747" stop-color="#b11d1d"/><stop offset="0.753" stop-color="#b01c26"/><stop offset="0.755" stop-color="#b01c24"/><stop offset="0.761" stop-color="#b21e11"/><stop offset="0.764" stop-color="#b41f03"/><stop offset="0.78" stop-color="#ba2700"/><stop offset="0.823" stop-color="#c73900"/><stop offset="0.84" stop-color="#c73a00"/><stop offset="0.867" stop-color="#b52100"/><stop offset="0.872" stop-color="#b11d1c"/><stop offset="0.886" stop-color="#a81569"/><stop offset="0.899" stop-color="#9e0fa8"/><stop offset="0.91" stop-color="#960bd1"/><stop offset="0.921" stop-color="#8f08eb"/><stop offset="0.935" stop-color="#8605fb"/><stop offset="0.951" stop-color="#7d04ff"/><stop offset="0.973" stop-color="#7202f2"/><stop offset="1" stop-color="#6401d2"/></linearGradient><linearGradient id="g131"><stop offset="0" stop-color="#6001c6"/><stop offset="0.019" stop-color="#5a00b3"/><stop offset="0.079" stop-color="#39004e"/><stop offset="0.117" stop-color="#2a002b"/><stop offset="0.133" stop-color="#2b002e"/><stop offset="0.163" stop-color="#3b0053"/><stop offset="0.185" stop-color="#3d005a"/><stop offset="0.215" stop-color="#38004d"/><stop offset="0.245" stop-color="#2b002d"/><stop offset="0.269" stop-color="#2c002e"/><stop offset="0.296" stop-color="#2e0035"/><stop offset="0.334" stop-color="#280027"/><stop offset="0.356" stop-color="#2c002f"/><stop offset="0.383" stop-color="#360047"/><stop offset="0.424" stop-color="#4c0086"/><stop offset="0.514" stop-color="#6e02ea"/><stop offset="0.543" stop-color="#7d04ff"/><stop offset="0.554" stop-color="#8605fc"/><stop offset="0.557" stop-color="#8c07f3"/><stop offset="0.56" stop-color="#940adb"/><stop offset="0.562" stop-color="#9c0db4"/><stop offset="0.565" stop-color="#a41283"/><stop offset="0.571" stop-color="#b21e13"/><stop offset="0.573" stop-color="#b92500"/><stop offset="0.587" stop-color="#cf4900"/><stop offset="0.622" stop-color="#e68800"/><stop offset="0.636" stop-color="#e88f00"/><stop offset="0.649" stop-color="#e78d00"/><stop offset="0.66" stop-color="#e17900"/><stop offset="0.679" stop-color="#d24f00"/><stop offset="0.698" stop-color="#c53600"/><stop offset="0.736" stop-color="#b52100"/><stop offset="0.739" stop-color="#b31f09"/><stop offset="0.747" stop-color="#af1a30"/><stop offset="0.753" stop-color="#ae1939"/><stop offset="0.758" stop-color="#af1b2e"/><stop offset="0.766" stop-color="#b42002"/><stop offset="0.812" stop-color="#c33400"/><stop offset="0.84" stop-color="#c43500"/><stop offset="0.861" stop-color="#b62100"/><stop offset="0.864" stop-color="#b31f0a"/><stop offset="0.875" stop-color="#ab1753"/><stop offset="0.886" stop-color="#a3118d"/><stop offset="0.899" stop-color="#990cc4"/><stop offset="0.91" stop-color="#9109e3"/><stop offset="0.921" stop-color="#8a06f5"/><stop offset="0.938" stop-color="#8205fe"/><stop offset="0.959" stop-color="#7703fa"/><stop offset="0.981" stop-color="#6b01e4"/><stop offset="1" stop-color="#6201cc"/></linearGradient><linearGradient id="g132"><stop offset="0" stop-color="#5e01bf"/><stop offset="0.016" stop-color="#5800af"/><stop offset="0.06" stop-color="#410067"/><stop offset="0.079" stop-color="#370049"/><stop offset="0.114" stop-color="#29002a"/><stop offset="0.13" stop-color="#290029"/><stop offset="0.166" stop-color="#3a0050"/><stop offset="0.188" stop-color="#3b0055"/><stop offset="0.215" stop-color="#370049"/><stop offset="0.245" stop-color="#29002a"/><stop offset="0.266" stop-color="#2a002b"/><stop offset="0.299" stop-color="#2d0032"/><stop offset="0.334" stop-color="#270025"/><stop offset="0.361" stop-color="#2d0031"/><stop offset="0.386" stop-color="#370048"/><stop offset="0.421" stop-color="#4a0081"/><stop offset="0.508" stop-color="#6b01e5"/><stop offset="0.543" stop-color="#7d04ff"/><stop offset="0.554" stop-color="#8605fb"/><stop offset="0.557" stop-color="#8c07f2"/><stop offset="0.56" stop-color="#940ad9"/><stop offset="0.562" stop-color="#9d0eb0"/><stop offset="0.568" stop-color="#ac1845"/><stop offset="0.571" stop-color="#b31e0c"/><stop offset="0.573" stop-color="#b92500"/><stop offset="0.584" stop-color="#cc4300"/><stop offset="0.609" stop-color="#de6f00"/><stop offset="0.622" stop-color="#e48400"/><stop offset="0.636" stop-color="#e68800"/><stop offset="0.652" stop-color="#e38000"/><stop offset="0.677" stop-color="#d24e00"/><stop offset="0.698" stop-color="#c23200"/><stop offset="0.731" stop-color="#b52000"/><stop offset="0.736" stop-color="#b21e14"/><stop offset="0.745" stop-color="#ae193a"/><stop offset="0.75" stop-color="#ac1849"/><stop offset="0.755" stop-color="#ac1847"/><stop offset="0.761" stop-color="#af1a31"/><stop offset="0.769" stop-color="#b42000"/><stop offset="0.804" stop-color="#c12f00"/><stop offset="0.837" stop-color="#c23200"/><stop offset="0.856" stop-color="#b62200"/><stop offset="0.859" stop-color="#b41f07"/><stop offset="0.867" stop-color="#ac1848"/><stop offset="0.878" stop-color="#a31289"/><stop offset="0.889" stop-color="#9c0db7"/><stop offset="0.902" stop-color="#9309df"/><stop offset="0.916" stop-color="#8a06f6"/><stop offset="0.935" stop-color="#8104ff"/><stop offset="0.959" stop-color="#7502f8"/><stop offset="0.989" stop-color="#6501d4"/><stop offset="1" stop-color="#6001c5"/></linearGradient><linearGradient id="g133"><stop offset="0" stop-color="#5b01b7"/><stop offset="0.016" stop-color="#5600a7"/><stop offset="0.057" stop-color="#410065"/><stop offset="0.079" stop-color="#350044"/><stop offset="0.114" stop-color="#280027"/><stop offset="0.13" stop-color="#280027"/><stop offset="0.166" stop-color="#38004c"/><stop offset="0.19" stop-color="#39004f"/><stop offset="0.217" stop-color="#340043"/><stop offset="0.245" stop-color="#280028"/><stop offset="0.264" stop-color="#280028"/><stop offset="0.296" stop-color="#2c0030"/><stop offset="0.337" stop-color="#260024"/><stop offset="0.364" stop-color="#2d0031"/><stop offset="0.386" stop-color="#360046"/><stop offset="0.424" stop-color="#4b0083"/><stop offset="0.505" stop-color="#6a01e3"/><stop offset="0.543" stop-color="#7d04ff"/><stop offset="0.554" stop-color="#8605fb"/><stop offset="0.557" stop-color="#8d07f1"/><stop offset="0.56" stop-color="#950ad6"/><stop offset="0.562" stop-color="#9e0eac"/><stop offset="0.571" stop-color="#b41f06"/><stop offset="0.573" stop-color="#ba2600"/><stop offset="0.587" stop-color="#cf4900"/><stop offset="0.609" stop-color="#dd6d00"/><stop offset="0.625" stop-color="#e37f00"/><stop offset="0.647" stop-color="#e17900"/><stop offset="0.66" stop-color="#da6500"/><stop offset="0.682" stop-color="#cb4100"/><stop offset="0.707" stop-color="#ba2700"/><stop offset="0.72" stop-color="#b42003"/><stop offset="0.747" stop-color="#aa1756"/><stop offset="0.753" stop-color="#aa165b"/><stop offset="0.758" stop-color="#ab174f"/><stop offset="0.766" stop-color="#b11c1f"/><stop offset="0.772" stop-color="#b52000"/><stop offset="0.804" stop-color="#bf2e00"/><stop offset="0.837" stop-color="#bf2e00"/><stop offset="0.853" stop-color="#b42001"/><stop offset="0.861" stop-color="#ab174d"/><stop offset="0.867" stop-color="#a61375"/><stop offset="0.875" stop-color="#a00fa0"/><stop offset="0.886" stop-color="#980cc8"/><stop offset="0.899" stop-color="#9008e7"/><stop offset="0.916" stop-color="#8706fb"/><stop offset="0.938" stop-color="#7d03fe"/><stop offset="0.959" stop-color="#7302f4"/><stop offset="0.984" stop-color="#6501d6"/><stop offset="1" stop-color="#5e01bf"/></linearGradient><linearGradient id="g134"><stop offset="0" stop-color="#5900b0"/><stop offset="0.022" stop-color="#510098"/><stop offset="0.076" stop-color="#340042"/><stop offset="0.111" stop-color="#280026"/><stop offset="0.128" stop-color="#260024"/><stop offset="0.149" stop-color="#300038"/><stop offset="0.166" stop-color="#360047"/><stop offset="0.193" stop-color="#37004a"/><stop offset="0.217" stop-color="#33003f"/><stop offset="0.245" stop-color="#270025"/><stop offset="0.266" stop-color="#270026"/><stop offset="0.296" stop-color="#2b002e"/><stop offset="0.334" stop-color="#260023"/><stop offset="0.361" stop-color="#2b002d"/><stop offset="0.386" stop-color="#350044"/><stop offset="0.427" stop-color="#4b0085"/><stop offset="0.505" stop-color="#6a01e3"/><stop offset="0.543" stop-color="#7e04ff"/><stop offset="0.554" stop-color="#8706fb"/><stop offset="0.557" stop-color="#8d07f0"/><stop offset="0.56" stop-color="#950ad5"/><stop offset="0.562" stop-color="#9e0fa9"/><stop offset="0.571" stop-color="#b42002"/><stop offset="0.582" stop-color="#c93d00"/><stop offset="0.598" stop-color="#d75d00"/><stop offset="0.62" stop-color="#df7300"/><stop offset="0.633" stop-color="#e07500"/><stop offset="0.652" stop-color="#db6700"/><stop offset="0.688" stop-color="#c43500"/><stop offset="0.709" stop-color="#b42000"/><stop offset="0.723" stop-color="#ae1a37"/><stop offset="0.734" stop-color="#ab1751"/><stop offset="0.747" stop-color="#a81569"/><stop offset="0.753" stop-color="#a7146b"/><stop offset="0.758" stop-color="#a9165e"/><stop offset="0.764" stop-color="#ad1940"/><stop offset="0.772" stop-color="#b31f09"/><stop offset="0.774" stop-color="#b52100"/><stop offset="0.804" stop-color="#be2c00"/><stop offset="0.832" stop-color="#be2c00"/><stop offset="0.848" stop-color="#b52000"/><stop offset="0.851" stop-color="#b21e12"/><stop offset="0.861" stop-color="#a61378"/><stop offset="0.867" stop-color="#a0109b"/><stop offset="0.875" stop-color="#9a0cbe"/><stop offset="0.886" stop-color="#940adc"/><stop offset="0.902" stop-color="#8b07f4"/><stop offset="0.921" stop-color="#8204ff"/><stop offset="0.948" stop-color="#7502f8"/><stop offset="0.97" stop-color="#6b01e4"/><stop offset="1" stop-color="#5b01b8"/></linearGradient><linearGradient id="g135"><stop offset="0" stop-color="#5600a8"/><stop offset="0.022" stop-color="#4f0090"/><stop offset="0.073" stop-color="#330040"/><stop offset="0.103" stop-color="#290028"/><stop offset="0.125" stop-color="#250021"/><stop offset="0.144" stop-color="#2c002f"/><stop offset="0.166" stop-color="#340043"/><stop offset="0.196" stop-color="#350045"/><stop offset="0.217" stop-color="#31003b"/><stop offset="0.247" stop-color="#250021"/><stop offset="0.299" stop-color="#2a002b"/><stop offset="0.337" stop-color="#250022"/><stop offset="0.364" stop-color="#2b002e"/><stop offset="0.386" stop-color="#340041"/><stop offset="0.427" stop-color="#4b0083"/><stop offset="0.505" stop-color="#6a01e3"/><stop offset="0.543" stop-color="#7e04ff"/><stop offset="0.554" stop-color="#8706fb"/><stop offset="0.557" stop-color="#8d07ef"/><stop offset="0.56" stop-color="#960ad4"/><stop offset="0.562" stop-color="#9f0fa7"/><stop offset="0.571" stop-color="#b42000"/><stop offset="0.582" stop-color="#c93d00"/><stop offset="0.601" stop-color="#d96000"/><stop offset="0.622" stop-color="#de6e00"/><stop offset="0.639" stop-color="#dc6a00"/><stop offset="0.658" stop-color="#d55600"/><stop offset="0.701" stop-color="#b62200"/><stop offset="0.704" stop-color="#b42002"/><stop offset="0.709" stop-color="#b01c25"/><stop offset="0.717" stop-color="#ac184b"/><stop offset="0.726" stop-color="#a81565"/><stop offset="0.736" stop-color="#a61474"/><stop offset="0.75" stop-color="#a5137c"/><stop offset="0.755" stop-color="#a61376"/><stop offset="0.761" stop-color="#a9165f"/><stop offset="0.774" stop-color="#b41f05"/><stop offset="0.78" stop-color="#b72300"/><stop offset="0.818" stop-color="#be2c00"/><stop offset="0.842" stop-color="#b52100"/><stop offset="0.845" stop-color="#b31f0b"/><stop offset="0.853" stop-color="#ab174e"/><stop offset="0.861" stop-color="#a11099"/><stop offset="0.867" stop-color="#9c0db8"/><stop offset="0.875" stop-color="#960ad4"/><stop offset="0.889" stop-color="#8e08ed"/><stop offset="0.91" stop-color="#8405fd"/><stop offset="0.932" stop-color="#7a03fd"/><stop offset="0.962" stop-color="#6d02e8"/><stop offset="1" stop-color="#5900b1"/></linearGradient><linearGradient id="g136"><stop offset="0" stop-color="#5400a1"/><stop offset="0.024" stop-color="#4b0084"/><stop offset="0.076" stop-color="#300038"/><stop offset="0.114" stop-color="#250021"/><stop offset="0.13" stop-color="#250021"/><stop offset="0.166" stop-color="#33003f"/><stop offset="0.193" stop-color="#340041"/><stop offset="0.217" stop-color="#300038"/><stop offset="0.245" stop-color="#240020"/><stop offset="0.266" stop-color="#250022"/><stop offset="0.299" stop-color="#290029"/><stop offset="0.34" stop-color="#250021"/><stop offset="0.372" stop-color="#2d0032"/><stop offset="0.391" stop-color="#360047"/><stop offset="0.424" stop-color="#49007d"/><stop offset="0.5" stop-color="#6801dd"/><stop offset="0.541" stop-color="#7c03fe"/><stop offset="0.552" stop-color="#8305fe"/><stop offset="0.554" stop-color="#8706fb"/><stop offset="0.557" stop-color="#8d07ef"/><stop offset="0.56" stop-color="#960ad3"/><stop offset="0.562" stop-color="#9f0fa6"/><stop offset="0.571" stop-color="#b42000"/><stop offset="0.582" stop-color="#c93d00"/><stop offset="0.598" stop-color="#d75b00"/><stop offset="0.614" stop-color="#db6700"/><stop offset="0.633" stop-color="#db6700"/><stop offset="0.658" stop-color="#d25000"/><stop offset="0.698" stop-color="#b52100"/><stop offset="0.709" stop-color="#ac1849"/><stop offset="0.717" stop-color="#a7146c"/><stop offset="0.728" stop-color="#a41287"/><stop offset="0.745" stop-color="#a3118c"/><stop offset="0.753" stop-color="#a31289"/><stop offset="0.758" stop-color="#a5137a"/><stop offset="0.764" stop-color="#aa165b"/><stop offset="0.774" stop-color="#b31e0f"/><stop offset="0.777" stop-color="#b42000"/><stop offset="0.793" stop-color="#ba2700"/><stop offset="0.823" stop-color="#bb2800"/><stop offset="0.84" stop-color="#b42003"/><stop offset="0.853" stop-color="#a7146b"/><stop offset="0.861" stop-color="#9d0eae"/><stop offset="0.867" stop-color="#980bc9"/><stop offset="0.875" stop-color="#9209e1"/><stop offset="0.891" stop-color="#8a06f6"/><stop offset="0.916" stop-color="#8004ff"/><stop offset="0.94" stop-color="#7402f6"/><stop offset="0.967" stop-color="#6801dc"/><stop offset="1" stop-color="#5600a9"/></linearGradient><linearGradient id="g137"><stop offset="0" stop-color="#520099"/><stop offset="0.024" stop-color="#49007d"/><stop offset="0.073" stop-color="#2f0036"/><stop offset="0.106" stop-color="#250022"/><stop offset="0.128" stop-color="#23001e"/><stop offset="0.149" stop-color="#2c002f"/><stop offset="0.168" stop-color="#32003c"/><stop offset="0.198" stop-color="#31003c"/><stop offset="0.22" stop-color="#2d0032"/><stop offset="0.247" stop-color="#22001d"/><stop offset="0.274" stop-color="#250022"/><stop offset="0.302" stop-color="#280027"/><stop offset="0.34" stop-color="#240020"/><stop offset="0.372" stop-color="#2c0030"/><stop offset="0.389" stop-color="#340041"/><stop offset="0.429" stop-color="#4b0083"/><stop offset="0.503" stop-color="#6901e0"/><stop offset="0.541" stop-color="#7c03fe"/><stop offset="0.552" stop-color="#8405fe"/><stop offset="0.554" stop-color="#8706fa"/><stop offset="0.557" stop-color="#8d07ef"/><stop offset="0.56" stop-color="#960ad3"/><stop offset="0.562" stop-color="#9f0fa6"/><stop offset="0.571" stop-color="#b42001"/><stop offset="0.584" stop-color="#cc4200"/><stop offset="0.601" stop-color="#d85d00"/><stop offset="0.622" stop-color="#db6500"/><stop offset="0.639" stop-color="#d85f00"/><stop offset="0.674" stop-color="#c53700"/><stop offset="0.693" stop-color="#b62200"/><stop offset="0.696" stop-color="#b41f06"/><stop offset="0.704" stop-color="#ac184b"/><stop offset="0.709" stop-color="#a7146c"/><stop offset="0.72" stop-color="#a2118f"/><stop offset="0.728" stop-color="#a0109d"/><stop offset="0.739" stop-color="#a00f9f"/><stop offset="0.753" stop-color="#a11096"/><stop offset="0.758" stop-color="#a41286"/><stop offset="0.764" stop-color="#a81566"/><stop offset="0.774" stop-color="#b11d19"/><stop offset="0.777" stop-color="#b31f08"/><stop offset="0.78" stop-color="#b52100"/><stop offset="0.812" stop-color="#bb2800"/><stop offset="0.832" stop-color="#b62100"/><stop offset="0.834" stop-color="#b41f03"/><stop offset="0.845" stop-color="#ac1848"/><stop offset="0.861" stop-color="#9b0dbc"/><stop offset="0.867" stop-color="#950ad5"/><stop offset="0.878" stop-color="#8e07ee"/><stop offset="0.899" stop-color="#8505fd"/><stop offset="0.924" stop-color="#7a03fd"/><stop offset="0.951" stop-color="#6d02e8"/><stop offset="0.973" stop-color="#6201cb"/><stop offset="1" stop-color="#5400a0"/></linearGradient><linearGradient id="g138"><stop offset="0" stop-color="#4f0091"/><stop offset="0.027" stop-color="#450072"/><stop offset="0.073" stop-color="#2d0032"/><stop offset="0.111" stop-color="#23001d"/><stop offset="0.13" stop-color="#22001d"/><stop offset="0.166" stop-color="#300037"/><stop offset="0.193" stop-color="#300039"/><stop offset="0.217" stop-color="#2d0031"/><stop offset="0.247" stop-color="#21001b"/><stop offset="0.274" stop-color="#240020"/><stop offset="0.302" stop-color="#270025"/><stop offset="0.34" stop-color="#24001f"/><stop offset="0.372" stop-color="#2b002e"/><stop offset="0.389" stop-color="#33003f"/><stop offset="0.429" stop-color="#4a0081"/><stop offset="0.497" stop-color="#6701da"/><stop offset="0.541" stop-color="#7b03fe"/><stop offset="0.552" stop-color="#8405fe"/><stop offset="0.554" stop-color="#8706fa"/><stop offset="0.557" stop-color="#8d07ef"/><stop offset="0.56" stop-color="#960ad3"/><stop offset="0.562" stop-color="#9f0fa6"/><stop offset="0.571" stop-color="#b42003"/><stop offset="0.584" stop-color="#cb4100"/><stop offset="0.601" stop-color="#d75b00"/><stop offset="0.622" stop-color="#d96200"/><stop offset="0.639" stop-color="#d75b00"/><stop offset="0.677" stop-color="#c12f00"/><stop offset="0.69" stop-color="#b52000"/><stop offset="0.701" stop-color="#a9165c"/><stop offset="0.707" stop-color="#a51280"/><stop offset="0.712" stop-color="#a11095"/><stop offset="0.723" stop-color="#9e0eab"/><stop offset="0.734" stop-color="#9d0eb1"/><stop offset="0.747" stop-color="#9e0ea9"/><stop offset="0.755" stop-color="#a0109b"/><stop offset="0.761" stop-color="#a41283"/><stop offset="0.777" stop-color="#b21e11"/><stop offset="0.78" stop-color="#b42001"/><stop offset="0.812" stop-color="#ba2600"/><stop offset="0.829" stop-color="#b42001"/><stop offset="0.856" stop-color="#9e0fa7"/><stop offset="0.861" stop-color="#980cc8"/><stop offset="0.87" stop-color="#9109e5"/><stop offset="0.88" stop-color="#8a06f6"/><stop offset="0.908" stop-color="#8004ff"/><stop offset="0.929" stop-color="#7603f9"/><stop offset="0.959" stop-color="#6601d8"/><stop offset="1" stop-color="#510096"/></linearGradient><linearGradient id="g139"><stop offset="0" stop-color="#4d008a"/><stop offset="0.038" stop-color="#3e005d"/><stop offset="0.073" stop-color="#2c002f"/><stop offset="0.111" stop-color="#21001b"/><stop offset="0.13" stop-color="#21001b"/><stop offset="0.166" stop-color="#2e0034"/><stop offset="0.204" stop-color="#2e0034"/><stop offset="0.226" stop-color="#280028"/><stop offset="0.245" stop-color="#200019"/><stop offset="0.269" stop-color="#22001c"/><stop offset="0.296" stop-color="#260023"/><stop offset="0.342" stop-color="#23001f"/><stop offset="0.375" stop-color="#2b002e"/><stop offset="0.389" stop-color="#32003c"/><stop offset="0.432" stop-color="#4b0084"/><stop offset="0.497" stop-color="#6701da"/><stop offset="0.541" stop-color="#7b03fe"/><stop offset="0.552" stop-color="#8405fe"/><stop offset="0.554" stop-color="#8706fa"/><stop offset="0.557" stop-color="#8d07ef"/><stop offset="0.56" stop-color="#960ad3"/><stop offset="0.562" stop-color="#9f0fa6"/><stop offset="0.571" stop-color="#b41f06"/><stop offset="0.573" stop-color="#b92600"/><stop offset="0.587" stop-color="#cd4400"/><stop offset="0.603" stop-color="#d75b00"/><stop offset="0.63" stop-color="#d85d00"/><stop offset="0.658" stop-color="#cc4300"/><stop offset="0.685" stop-color="#b52100"/><stop offset="0.688" stop-color="#b31e0d"/><stop offset="0.698" stop-color="#a7146b"/><stop offset="0.704" stop-color="#a21191"/><stop offset="0.709" stop-color="#9e0fa9"/><stop offset="0.72" stop-color="#9b0dbb"/><stop offset="0.734" stop-color="#9a0cc1"/><stop offset="0.747" stop-color="#9c0db7"/><stop offset="0.755" stop-color="#9f0fa7"/><stop offset="0.761" stop-color="#a3118d"/><stop offset="0.78" stop-color="#b31f0a"/><stop offset="0.783" stop-color="#b52000"/><stop offset="0.821" stop-color="#b72300"/><stop offset="0.823" stop-color="#b52100"/><stop offset="0.826" stop-color="#b31f08"/><stop offset="0.837" stop-color="#ab1753"/><stop offset="0.861" stop-color="#960bd1"/><stop offset="0.87" stop-color="#8f08eb"/><stop offset="0.878" stop-color="#8906f7"/><stop offset="0.902" stop-color="#8104ff"/><stop offset="0.924" stop-color="#7703fa"/><stop offset="0.946" stop-color="#6b01e5"/><stop offset="0.978" stop-color="#5800ae"/><stop offset="1" stop-color="#4e008c"/></linearGradient><linearGradient id="g140"><stop offset="0" stop-color="#4a0082"/><stop offset="0.052" stop-color="#360046"/><stop offset="0.079" stop-color="#280028"/><stop offset="0.117" stop-color="#1f0017"/><stop offset="0.136" stop-color="#21001b"/><stop offset="0.166" stop-color="#2d0031"/><stop offset="0.209" stop-color="#2c002f"/><stop offset="0.247" stop-color="#1e0017"/><stop offset="0.274" stop-color="#22001d"/><stop offset="0.304" stop-color="#240021"/><stop offset="0.345" stop-color="#23001e"/><stop offset="0.38" stop-color="#2c0030"/><stop offset="0.402" stop-color="#3a0051"/><stop offset="0.429" stop-color="#49007e"/><stop offset="0.481" stop-color="#6001c6"/><stop offset="0.514" stop-color="#6e02ea"/><stop offset="0.543" stop-color="#7e04ff"/><stop offset="0.552" stop-color="#8405fe"/><stop offset="0.554" stop-color="#8706fa"/><stop offset="0.557" stop-color="#8d07ef"/><stop offset="0.56" stop-color="#960ad3"/><stop offset="0.562" stop-color="#9f0fa6"/><stop offset="0.571" stop-color="#b31f09"/><stop offset="0.573" stop-color="#b92500"/><stop offset="0.59" stop-color="#ce4700"/><stop offset="0.603" stop-color="#d55800"/><stop offset="0.63" stop-color="#d65800"/><stop offset="0.658" stop-color="#c93e00"/><stop offset="0.682" stop-color="#b42001"/><stop offset="0.693" stop-color="#a91562"/><stop offset="0.701" stop-color="#a0109e"/><stop offset="0.707" stop-color="#9b0db9"/><stop offset="0.715" stop-color="#980cc8"/><stop offset="0.734" stop-color="#970bcf"/><stop offset="0.747" stop-color="#990cc3"/><stop offset="0.755" stop-color="#9d0eb2"/><stop offset="0.761" stop-color="#a11098"/><stop offset="0.777" stop-color="#b01c26"/><stop offset="0.783" stop-color="#b31f08"/><stop offset="0.785" stop-color="#b42001"/><stop offset="0.821" stop-color="#b52000"/><stop offset="0.823" stop-color="#b31e0e"/><stop offset="0.834" stop-color="#a91561"/><stop offset="0.842" stop-color="#a3118b"/><stop offset="0.864" stop-color="#9109e3"/><stop offset="0.875" stop-color="#8906f8"/><stop offset="0.897" stop-color="#8104ff"/><stop offset="0.921" stop-color="#7703fa"/><stop offset="0.94" stop-color="#6c02e7"/><stop offset="0.967" stop-color="#5b01b8"/><stop offset="0.995" stop-color="#4d008a"/><stop offset="1" stop-color="#4b0083"/></linearGradient><linearGradient id="g141"><stop offset="0" stop-color="#48007b"/><stop offset="0.076" stop-color="#280028"/><stop offset="0.114" stop-color="#1d0015"/><stop offset="0.133" stop-color="#1f0017"/><stop offset="0.163" stop-color="#2b002d"/><stop offset="0.207" stop-color="#2b002d"/><stop offset="0.228" stop-color="#240020"/><stop offset="0.25" stop-color="#1d0015"/><stop offset="0.299" stop-color="#24001f"/><stop offset="0.348" stop-color="#23001e"/><stop offset="0.38" stop-color="#2b002d"/><stop offset="0.402" stop-color="#390050"/><stop offset="0.44" stop-color="#4e008e"/><stop offset="0.489" stop-color="#6301d0"/><stop offset="0.516" stop-color="#6f02ec"/><stop offset="0.543" stop-color="#7e04ff"/><stop offset="0.554" stop-color="#8706fb"/><stop offset="0.557" stop-color="#8d07ef"/><stop offset="0.56" stop-color="#960ad3"/><stop offset="0.562" stop-color="#9f0fa7"/><stop offset="0.571" stop-color="#b31e0d"/><stop offset="0.573" stop-color="#b82400"/><stop offset="0.59" stop-color="#cd4400"/><stop offset="0.603" stop-color="#d45300"/><stop offset="0.63" stop-color="#d35200"/><stop offset="0.668" stop-color="#be2c00"/><stop offset="0.677" stop-color="#b62200"/><stop offset="0.679" stop-color="#b31e0d"/><stop offset="0.688" stop-color="#aa165b"/><stop offset="0.696" stop-color="#a11098"/><stop offset="0.701" stop-color="#9b0db8"/><stop offset="0.707" stop-color="#970bcd"/><stop offset="0.715" stop-color="#950ad8"/><stop offset="0.734" stop-color="#940adb"/><stop offset="0.747" stop-color="#970bd0"/><stop offset="0.755" stop-color="#9a0dbe"/><stop offset="0.761" stop-color="#9f0fa4"/><stop offset="0.777" stop-color="#af1a32"/><stop offset="0.783" stop-color="#b21d17"/><stop offset="0.785" stop-color="#b21e11"/><stop offset="0.796" stop-color="#b21d15"/><stop offset="0.812" stop-color="#b41f06"/><stop offset="0.815" stop-color="#b41f07"/><stop offset="0.821" stop-color="#b11d1a"/><stop offset="0.826" stop-color="#ad1941"/><stop offset="0.832" stop-color="#a7146d"/><stop offset="0.837" stop-color="#a2118e"/><stop offset="0.848" stop-color="#9c0db5"/><stop offset="0.864" stop-color="#8f08ea"/><stop offset="0.875" stop-color="#8706fa"/><stop offset="0.902" stop-color="#7e04ff"/><stop offset="0.924" stop-color="#7402f5"/><stop offset="0.946" stop-color="#6601d9"/><stop offset="0.992" stop-color="#4b0083"/><stop offset="1" stop-color="#470079"/></linearGradient><linearGradient id="g142"><stop offset="0" stop-color="#460073"/><stop offset="0.073" stop-color="#280028"/><stop offset="0.109" stop-color="#1d0014"/><stop offset="0.13" stop-color="#1c0013"/><stop offset="0.163" stop-color="#29002a"/><stop offset="0.209" stop-color="#290029"/><stop offset="0.247" stop-color="#1c0013"/><stop offset="0.283" stop-color="#22001c"/><stop offset="0.348" stop-color="#22001d"/><stop offset="0.38" stop-color="#2a002b"/><stop offset="0.399" stop-color="#370048"/><stop offset="0.432" stop-color="#4a0081"/><stop offset="0.478" stop-color="#5f01c3"/><stop offset="0.514" stop-color="#6e02ea"/><stop offset="0.543" stop-color="#7d04ff"/><stop offset="0.554" stop-color="#8706fb"/><stop offset="0.557" stop-color="#8d07ef"/><stop offset="0.56" stop-color="#960ad4"/><stop offset="0.562" stop-color="#9e0fa8"/><stop offset="0.571" stop-color="#b21e11"/><stop offset="0.573" stop-color="#b82400"/><stop offset="0.587" stop-color="#c93e00"/><stop offset="0.603" stop-color="#d14e00"/><stop offset="0.63" stop-color="#cf4900"/><stop offset="0.668" stop-color="#b92500"/><stop offset="0.671" stop-color="#b62200"/><stop offset="0.674" stop-color="#b41f07"/><stop offset="0.685" stop-color="#a7146d"/><stop offset="0.693" stop-color="#9f0fa6"/><stop offset="0.701" stop-color="#970bce"/><stop offset="0.707" stop-color="#9309de"/><stop offset="0.717" stop-color="#9108e6"/><stop offset="0.739" stop-color="#9109e4"/><stop offset="0.75" stop-color="#950ad8"/><stop offset="0.755" stop-color="#980bca"/><stop offset="0.761" stop-color="#9d0eb0"/><stop offset="0.774" stop-color="#ab1751"/><stop offset="0.78" stop-color="#af1a32"/><stop offset="0.785" stop-color="#b01c25"/><stop offset="0.796" stop-color="#af1b2e"/><stop offset="0.812" stop-color="#af1b2b"/><stop offset="0.818" stop-color="#ae1a36"/><stop offset="0.823" stop-color="#aa1754"/><stop offset="0.832" stop-color="#a2118e"/><stop offset="0.837" stop-color="#9e0ea9"/><stop offset="0.848" stop-color="#980cc8"/><stop offset="0.864" stop-color="#8d07f0"/><stop offset="0.875" stop-color="#8605fc"/><stop offset="0.902" stop-color="#7c03fe"/><stop offset="0.924" stop-color="#7202f2"/><stop offset="0.946" stop-color="#6401d0"/><stop offset="0.986" stop-color="#4a0081"/><stop offset="1" stop-color="#44006f"/></linearGradient><linearGradient id="g143"><stop offset="0" stop-color="#43006c"/><stop offset="0.071" stop-color="#280028"/><stop offset="0.114" stop-color="#1a0010"/><stop offset="0.133" stop-color="#1b0012"/><stop offset="0.166" stop-color="#280028"/><stop offset="0.215" stop-color="#270025"/><stop offset="0.247" stop-color="#1b0011"/><stop offset="0.302" stop-color="#22001c"/><stop offset="0.353" stop-color="#22001d"/><stop offset="0.38" stop-color="#290029"/><stop offset="0.397" stop-color="#340041"/><stop offset="0.424" stop-color="#460073"/><stop offset="0.473" stop-color="#5d01bc"/><stop offset="0.514" stop-color="#6e02ea"/><stop offset="0.543" stop-color="#7d04ff"/><stop offset="0.554" stop-color="#8605fb"/><stop offset="0.557" stop-color="#8d07f0"/><stop offset="0.56" stop-color="#950ad5"/><stop offset="0.562" stop-color="#9e0eab"/><stop offset="0.571" stop-color="#b21d16"/><stop offset="0.573" stop-color="#b72300"/><stop offset="0.587" stop-color="#c83b00"/><stop offset="0.606" stop-color="#ce4700"/><stop offset="0.633" stop-color="#c93d00"/><stop offset="0.666" stop-color="#b52000"/><stop offset="0.671" stop-color="#b01c26"/><stop offset="0.682" stop-color="#a41282"/><stop offset="0.688" stop-color="#9e0fa7"/><stop offset="0.696" stop-color="#970bce"/><stop offset="0.704" stop-color="#9008e6"/><stop offset="0.712" stop-color="#8d07ef"/><stop offset="0.739" stop-color="#8e08ed"/><stop offset="0.753" stop-color="#9309de"/><stop offset="0.758" stop-color="#980bcb"/><stop offset="0.764" stop-color="#9e0eaa"/><stop offset="0.772" stop-color="#a7146f"/><stop offset="0.78" stop-color="#ac1845"/><stop offset="0.783" stop-color="#ad193d"/><stop offset="0.785" stop-color="#ad193c"/><stop offset="0.793" stop-color="#ac184a"/><stop offset="0.804" stop-color="#ab174e"/><stop offset="0.815" stop-color="#a9165f"/><stop offset="0.821" stop-color="#a61473"/><stop offset="0.832" stop-color="#9d0eae"/><stop offset="0.84" stop-color="#980bc9"/><stop offset="0.864" stop-color="#8b07f5"/><stop offset="0.88" stop-color="#8204ff"/><stop offset="0.908" stop-color="#7803fb"/><stop offset="0.927" stop-color="#6d02e9"/><stop offset="0.957" stop-color="#5900b1"/><stop offset="0.986" stop-color="#470077"/><stop offset="1" stop-color="#410065"/></linearGradient><linearGradient id="g144"><stop offset="0" stop-color="#410065"/><stop offset="0.062" stop-color="#2a002c"/><stop offset="0.111" stop-color="#19000f"/><stop offset="0.136" stop-color="#19000f"/><stop offset="0.171" stop-color="#270026"/><stop offset="0.215" stop-color="#250023"/><stop offset="0.247" stop-color="#190010"/><stop offset="0.274" stop-color="#1e0016"/><stop offset="0.31" stop-color="#21001a"/><stop offset="0.359" stop-color="#22001d"/><stop offset="0.383" stop-color="#290029"/><stop offset="0.405" stop-color="#39004f"/><stop offset="0.446" stop-color="#500095"/><stop offset="0.484" stop-color="#6101ca"/><stop offset="0.519" stop-color="#7002ef"/><stop offset="0.543" stop-color="#7d04ff"/><stop offset="0.554" stop-color="#8605fc"/><stop offset="0.557" stop-color="#8c07f1"/><stop offset="0.56" stop-color="#950ad8"/><stop offset="0.562" stop-color="#9d0eaf"/><stop offset="0.571" stop-color="#b11d1d"/><stop offset="0.573" stop-color="#b62200"/><stop offset="0.584" stop-color="#c43500"/><stop offset="0.603" stop-color="#ca3f00"/><stop offset="0.622" stop-color="#c73a00"/><stop offset="0.655" stop-color="#b52000"/><stop offset="0.666" stop-color="#ae193a"/><stop offset="0.677" stop-color="#a41284"/><stop offset="0.685" stop-color="#9b0db9"/><stop offset="0.693" stop-color="#940ad9"/><stop offset="0.701" stop-color="#8e08ed"/><stop offset="0.712" stop-color="#8a06f6"/><stop offset="0.742" stop-color="#8b07f3"/><stop offset="0.753" stop-color="#9008e7"/><stop offset="0.758" stop-color="#950ad6"/><stop offset="0.764" stop-color="#9c0db6"/><stop offset="0.772" stop-color="#a5137b"/><stop offset="0.78" stop-color="#aa1657"/><stop offset="0.783" stop-color="#ab1752"/><stop offset="0.788" stop-color="#aa165a"/><stop offset="0.793" stop-color="#a81566"/><stop offset="0.802" stop-color="#a7146b"/><stop offset="0.818" stop-color="#a11095"/><stop offset="0.832" stop-color="#980cc8"/><stop offset="0.842" stop-color="#9309df"/><stop offset="0.867" stop-color="#8706fb"/><stop offset="0.889" stop-color="#7e04ff"/><stop offset="0.91" stop-color="#7402f6"/><stop offset="0.927" stop-color="#6b01e3"/><stop offset="0.984" stop-color="#450071"/><stop offset="1" stop-color="#3d005b"/></linearGradient><linearGradient id="g145"><stop offset="0" stop-color="#3f005e"/><stop offset="0.062" stop-color="#290029"/><stop offset="0.12" stop-color="#14000a"/><stop offset="0.144" stop-color="#17000c"/><stop offset="0.16" stop-color="#21001b"/><stop offset="0.171" stop-color="#260023"/><stop offset="0.215" stop-color="#240021"/><stop offset="0.247" stop-color="#18000e"/><stop offset="0.274" stop-color="#1d0014"/><stop offset="0.31" stop-color="#200019"/><stop offset="0.361" stop-color="#22001c"/><stop offset="0.383" stop-color="#280027"/><stop offset="0.402" stop-color="#360047"/><stop offset="0.44" stop-color="#4d008c"/><stop offset="0.476" stop-color="#5e01c0"/><stop offset="0.516" stop-color="#6f02ed"/><stop offset="0.543" stop-color="#7d04ff"/><stop offset="0.554" stop-color="#8605fc"/><stop offset="0.557" stop-color="#8c07f2"/><stop offset="0.56" stop-color="#940ada"/><stop offset="0.562" stop-color="#9c0db4"/><stop offset="0.571" stop-color="#b01b26"/><stop offset="0.573" stop-color="#b52100"/><stop offset="0.584" stop-color="#c33300"/><stop offset="0.609" stop-color="#c63800"/><stop offset="0.639" stop-color="#b92500"/><stop offset="0.644" stop-color="#b52000"/><stop offset="0.66" stop-color="#aa1756"/><stop offset="0.674" stop-color="#a0109c"/><stop offset="0.682" stop-color="#980cc7"/><stop offset="0.69" stop-color="#9209e2"/><stop offset="0.701" stop-color="#8a07f5"/><stop offset="0.717" stop-color="#8706fa"/><stop offset="0.742" stop-color="#8906f8"/><stop offset="0.753" stop-color="#8d07ee"/><stop offset="0.758" stop-color="#9309df"/><stop offset="0.764" stop-color="#9a0cbf"/><stop offset="0.769" stop-color="#a11097"/><stop offset="0.774" stop-color="#a5137a"/><stop offset="0.78" stop-color="#a81569"/><stop offset="0.783" stop-color="#a81566"/><stop offset="0.788" stop-color="#a71470"/><stop offset="0.793" stop-color="#a5137e"/><stop offset="0.802" stop-color="#a31288"/><stop offset="0.832" stop-color="#940ada"/><stop offset="0.845" stop-color="#8e08ed"/><stop offset="0.87" stop-color="#8405fe"/><stop offset="0.897" stop-color="#7903fc"/><stop offset="0.916" stop-color="#6f02ed"/><stop offset="0.932" stop-color="#6301cf"/><stop offset="0.981" stop-color="#43006c"/><stop offset="1" stop-color="#3a0052"/></linearGradient><linearGradient id="g146"><stop offset="0" stop-color="#3c0058"/><stop offset="0.062" stop-color="#280027"/><stop offset="0.117" stop-color="#110007"/><stop offset="0.133" stop-color="#0c0004"/><stop offset="0.149" stop-color="#14000a"/><stop offset="0.168" stop-color="#250021"/><stop offset="0.215" stop-color="#24001f"/><stop offset="0.25" stop-color="#16000b"/><stop offset="0.296" stop-color="#1f0017"/><stop offset="0.361" stop-color="#21001b"/><stop offset="0.383" stop-color="#270025"/><stop offset="0.399" stop-color="#33003f"/><stop offset="0.451" stop-color="#53009d"/><stop offset="0.489" stop-color="#6301d0"/><stop offset="0.522" stop-color="#7202f2"/><stop offset="0.546" stop-color="#7e04ff"/><stop offset="0.554" stop-color="#8505fd"/><stop offset="0.557" stop-color="#8b07f4"/><stop offset="0.56" stop-color="#9309df"/><stop offset="0.562" stop-color="#9b0dbd"/><stop offset="0.568" stop-color="#a81567"/><stop offset="0.573" stop-color="#b31f0b"/><stop offset="0.576" stop-color="#b82400"/><stop offset="0.587" stop-color="#c13000"/><stop offset="0.614" stop-color="#c02f00"/><stop offset="0.636" stop-color="#b42000"/><stop offset="0.647" stop-color="#ac1848"/><stop offset="0.658" stop-color="#a5137c"/><stop offset="0.679" stop-color="#960bd3"/><stop offset="0.69" stop-color="#8e08ee"/><stop offset="0.704" stop-color="#8605fb"/><stop offset="0.742" stop-color="#8706fb"/><stop offset="0.753" stop-color="#8b07f3"/><stop offset="0.758" stop-color="#9109e5"/><stop offset="0.764" stop-color="#990cc7"/><stop offset="0.769" stop-color="#a00fa0"/><stop offset="0.774" stop-color="#a41285"/><stop offset="0.78" stop-color="#a61379"/><stop offset="0.785" stop-color="#a5137c"/><stop offset="0.793" stop-color="#a21193"/><stop offset="0.802" stop-color="#a0109e"/><stop offset="0.821" stop-color="#960bd2"/><stop offset="0.837" stop-color="#8e08ed"/><stop offset="0.864" stop-color="#8405fe"/><stop offset="0.891" stop-color="#7903fc"/><stop offset="0.913" stop-color="#6e02ea"/><stop offset="0.929" stop-color="#6201cc"/><stop offset="0.951" stop-color="#52009b"/><stop offset="0.986" stop-color="#3d0059"/><stop offset="1" stop-color="#37004a"/></linearGradient><linearGradient id="g147"><stop offset="0" stop-color="#3a0052"/><stop offset="0.057" stop-color="#290028"/><stop offset="0.103" stop-color="#16000c"/><stop offset="0.114" stop-color="#0c0003"/><stop offset="0.12" stop-color="#000000"/><stop offset="0.144" stop-color="#000000"/><stop offset="0.149" stop-color="#0e0005"/><stop offset="0.166" stop-color="#23001e"/><stop offset="0.207" stop-color="#240020"/><stop offset="0.228" stop-color="#1d0015"/><stop offset="0.25" stop-color="#130009"/><stop offset="0.296" stop-color="#1e0016"/><stop offset="0.37" stop-color="#21001b"/><stop offset="0.386" stop-color="#270026"/><stop offset="0.405" stop-color="#360047"/><stop offset="0.462" stop-color="#5800ad"/><stop offset="0.508" stop-color="#6c01e6"/><stop offset="0.541" stop-color="#7c03fe"/><stop offset="0.554" stop-color="#8405fd"/><stop offset="0.557" stop-color="#8906f7"/><stop offset="0.56" stop-color="#9008e7"/><stop offset="0.562" stop-color="#980bcb"/><stop offset="0.568" stop-color="#a41283"/><stop offset="0.576" stop-color="#b31f09"/><stop offset="0.579" stop-color="#b72300"/><stop offset="0.592" stop-color="#bd2a00"/><stop offset="0.614" stop-color="#bb2800"/><stop offset="0.628" stop-color="#b42002"/><stop offset="0.647" stop-color="#a5137c"/><stop offset="0.658" stop-color="#9e0fa8"/><stop offset="0.677" stop-color="#9309de"/><stop offset="0.688" stop-color="#8c07f2"/><stop offset="0.707" stop-color="#8405fe"/><stop offset="0.742" stop-color="#8505fd"/><stop offset="0.753" stop-color="#8a06f6"/><stop offset="0.758" stop-color="#8f08ea"/><stop offset="0.764" stop-color="#970bcd"/><stop offset="0.772" stop-color="#a11099"/><stop offset="0.777" stop-color="#a3118b"/><stop offset="0.783" stop-color="#a31288"/><stop offset="0.788" stop-color="#a11095"/><stop offset="0.793" stop-color="#9f0fa5"/><stop offset="0.804" stop-color="#9b0db8"/><stop offset="0.818" stop-color="#940ad9"/><stop offset="0.834" stop-color="#8d07f1"/><stop offset="0.867" stop-color="#8004ff"/><stop offset="0.891" stop-color="#7603f9"/><stop offset="0.913" stop-color="#6a01e1"/><stop offset="0.929" stop-color="#5e01c1"/><stop offset="0.957" stop-color="#4b0083"/><stop offset="0.984" stop-color="#3b0053"/><stop offset="1" stop-color="#340043"/></linearGradient><linearGradient id="g148"><stop offset="0" stop-color="#38004c"/><stop offset="0.062" stop-color="#260023"/><stop offset="0.095" stop-color="#1a0010"/><stop offset="0.109" stop-color="#0b0003"/><stop offset="0.111" stop-color="#020000"/><stop offset="0.149" stop-color="#000000"/><stop offset="0.152" stop-color="#0c0003"/><stop offset="0.163" stop-color="#200019"/><stop offset="0.174" stop-color="#24001f"/><stop offset="0.215" stop-color="#22001d"/><stop offset="0.25" stop-color="#100007"/><stop offset="0.266" stop-color="#15000b"/><stop offset="0.293" stop-color="#1d0015"/><stop offset="0.367" stop-color="#200019"/><stop offset="0.383" stop-color="#240020"/><stop offset="0.399" stop-color="#300039"/><stop offset="0.451" stop-color="#520099"/><stop offset="0.484" stop-color="#6101c9"/><stop offset="0.519" stop-color="#7102f0"/><stop offset="0.543" stop-color="#7d04ff"/><stop offset="0.554" stop-color="#8305fe"/><stop offset="0.557" stop-color="#8706fa"/><stop offset="0.56" stop-color="#8d07ef"/><stop offset="0.562" stop-color="#940adc"/><stop offset="0.568" stop-color="#9f0fa5"/><stop offset="0.576" stop-color="#ad193d"/><stop offset="0.579" stop-color="#b11c1f"/><stop offset="0.582" stop-color="#b31f08"/><stop offset="0.584" stop-color="#b52100"/><stop offset="0.611" stop-color="#b72300"/><stop offset="0.617" stop-color="#b52000"/><stop offset="0.622" stop-color="#b21d18"/><stop offset="0.633" stop-color="#aa1755"/><stop offset="0.644" stop-color="#a11098"/><stop offset="0.652" stop-color="#9b0db9"/><stop offset="0.666" stop-color="#940adb"/><stop offset="0.682" stop-color="#8b07f3"/><stop offset="0.704" stop-color="#8305fe"/><stop offset="0.742" stop-color="#8305fe"/><stop offset="0.755" stop-color="#8a07f5"/><stop offset="0.761" stop-color="#9209e2"/><stop offset="0.769" stop-color="#9d0eae"/><stop offset="0.774" stop-color="#a1109a"/><stop offset="0.78" stop-color="#a11095"/><stop offset="0.785" stop-color="#a0109c"/><stop offset="0.793" stop-color="#9c0db6"/><stop offset="0.804" stop-color="#980cc8"/><stop offset="0.821" stop-color="#9008e7"/><stop offset="0.837" stop-color="#8906f7"/><stop offset="0.867" stop-color="#7e04ff"/><stop offset="0.889" stop-color="#7402f6"/><stop offset="0.913" stop-color="#6601d6"/><stop offset="0.932" stop-color="#5800ae"/><stop offset="0.957" stop-color="#470076"/><stop offset="0.981" stop-color="#38004c"/><stop offset="1" stop-color="#31003c"/></linearGradient><linearGradient id="g149"><stop offset="0" stop-color="#360047"/><stop offset="0.06" stop-color="#260023"/><stop offset="0.095" stop-color="#18000e"/><stop offset="0.103" stop-color="#0b0003"/><stop offset="0.106" stop-color="#000000"/><stop offset="0.152" stop-color="#000000"/><stop offset="0.16" stop-color="#1a0010"/><stop offset="0.166" stop-color="#21001b"/><stop offset="0.198" stop-color="#23001e"/><stop offset="0.22" stop-color="#200019"/><stop offset="0.253" stop-color="#0c0003"/><stop offset="0.288" stop-color="#1c0013"/><stop offset="0.372" stop-color="#200019"/><stop offset="0.386" stop-color="#250021"/><stop offset="0.413" stop-color="#39004f"/><stop offset="0.465" stop-color="#5800ae"/><stop offset="0.508" stop-color="#6c01e6"/><stop offset="0.538" stop-color="#7a03fd"/><stop offset="0.554" stop-color="#8204ff"/><stop offset="0.56" stop-color="#8a06f5"/><stop offset="0.565" stop-color="#950ad6"/><stop offset="0.571" stop-color="#9f0fa6"/><stop offset="0.579" stop-color="#ab1753"/><stop offset="0.582" stop-color="#ad193d"/><stop offset="0.584" stop-color="#af1b2e"/><stop offset="0.592" stop-color="#b11d19"/><stop offset="0.603" stop-color="#b31e0f"/><stop offset="0.609" stop-color="#b21e12"/><stop offset="0.614" stop-color="#b11c20"/><stop offset="0.628" stop-color="#a9165e"/><stop offset="0.644" stop-color="#9c0db5"/><stop offset="0.652" stop-color="#960bd0"/><stop offset="0.666" stop-color="#8f08e9"/><stop offset="0.685" stop-color="#8806fa"/><stop offset="0.717" stop-color="#8004ff"/><stop offset="0.75" stop-color="#8505fd"/><stop offset="0.755" stop-color="#8906f8"/><stop offset="0.761" stop-color="#9008e6"/><stop offset="0.769" stop-color="#9c0db5"/><stop offset="0.772" stop-color="#9e0ea9"/><stop offset="0.777" stop-color="#a00fa1"/><stop offset="0.783" stop-color="#9f0fa4"/><stop offset="0.788" stop-color="#9c0eb4"/><stop offset="0.793" stop-color="#990cc5"/><stop offset="0.821" stop-color="#8d07ee"/><stop offset="0.837" stop-color="#8706fa"/><stop offset="0.867" stop-color="#7c03fe"/><stop offset="0.886" stop-color="#7202f3"/><stop offset="0.913" stop-color="#6101c9"/><stop offset="0.962" stop-color="#3f005f"/><stop offset="0.984" stop-color="#33003f"/><stop offset="1" stop-color="#2f0036"/></linearGradient><linearGradient id="g150"><stop offset="0" stop-color="#340042"/><stop offset="0.062" stop-color="#240020"/><stop offset="0.092" stop-color="#19000f"/><stop offset="0.101" stop-color="#0c0004"/><stop offset="0.103" stop-color="#000000"/><stop offset="0.155" stop-color="#000000"/><stop offset="0.158" stop-color="#100006"/><stop offset="0.163" stop-color="#1d0015"/><stop offset="0.171" stop-color="#22001d"/><stop offset="0.215" stop-color="#21001b"/><stop offset="0.242" stop-color="#100006"/><stop offset="0.255" stop-color="#040000"/><stop offset="0.272" stop-color="#15000a"/><stop offset="0.296" stop-color="#1c0013"/><stop offset="0.375" stop-color="#1f0018"/><stop offset="0.389" stop-color="#250022"/><stop offset="0.429" stop-color="#420068"/><stop offset="0.465" stop-color="#5700ac"/><stop offset="0.505" stop-color="#6b01e3"/><stop offset="0.533" stop-color="#7803fa"/><stop offset="0.554" stop-color="#8104ff"/><stop offset="0.56" stop-color="#8806f9"/><stop offset="0.565" stop-color="#9109e3"/><stop offset="0.571" stop-color="#9a0cc0"/><stop offset="0.582" stop-color="#a7146b"/><stop offset="0.587" stop-color="#aa1755"/><stop offset="0.598" stop-color="#ad1940"/><stop offset="0.606" stop-color="#ad193b"/><stop offset="0.611" stop-color="#ad1942"/><stop offset="0.622" stop-color="#a81568"/><stop offset="0.644" stop-color="#980cc7"/><stop offset="0.655" stop-color="#9209e2"/><stop offset="0.671" stop-color="#8a06f6"/><stop offset="0.704" stop-color="#8104ff"/><stop offset="0.75" stop-color="#8305fe"/><stop offset="0.755" stop-color="#8706fb"/><stop offset="0.761" stop-color="#8f08ec"/><stop offset="0.769" stop-color="#9b0dbc"/><stop offset="0.774" stop-color="#9e0eab"/><stop offset="0.78" stop-color="#9e0eab"/><stop offset="0.785" stop-color="#9c0db7"/><stop offset="0.793" stop-color="#960bd2"/><stop offset="0.818" stop-color="#8c07f2"/><stop offset="0.84" stop-color="#8405fd"/><stop offset="0.864" stop-color="#7a03fd"/><stop offset="0.883" stop-color="#7102f0"/><stop offset="0.924" stop-color="#5600a6"/><stop offset="0.962" stop-color="#3b0054"/><stop offset="0.984" stop-color="#300038"/><stop offset="1" stop-color="#2c0030"/></linearGradient><linearGradient id="g151"><stop offset="0" stop-color="#32003d"/><stop offset="0.084" stop-color="#1d0014"/><stop offset="0.095" stop-color="#15000b"/><stop offset="0.101" stop-color="#070001"/><stop offset="0.103" stop-color="#000000"/><stop offset="0.155" stop-color="#000000"/><stop offset="0.16" stop-color="#16000c"/><stop offset="0.166" stop-color="#200019"/><stop offset="0.182" stop-color="#22001c"/><stop offset="0.217" stop-color="#200019"/><stop offset="0.242" stop-color="#0e0005"/><stop offset="0.247" stop-color="#020000"/><stop offset="0.258" stop-color="#000000"/><stop offset="0.269" stop-color="#110007"/><stop offset="0.291" stop-color="#1b0012"/><stop offset="0.375" stop-color="#1e0016"/><stop offset="0.391" stop-color="#260023"/><stop offset="0.429" stop-color="#400063"/><stop offset="0.465" stop-color="#5700aa"/><stop offset="0.503" stop-color="#6901e0"/><stop offset="0.533" stop-color="#7803fb"/><stop offset="0.554" stop-color="#8004ff"/><stop offset="0.56" stop-color="#8605fc"/><stop offset="0.565" stop-color="#8e08ed"/><stop offset="0.571" stop-color="#960ad4"/><stop offset="0.582" stop-color="#a21194"/><stop offset="0.587" stop-color="#a51280"/><stop offset="0.601" stop-color="#a81567"/><stop offset="0.609" stop-color="#a81567"/><stop offset="0.617" stop-color="#a61377"/><stop offset="0.633" stop-color="#9e0eac"/><stop offset="0.644" stop-color="#960ad3"/><stop offset="0.655" stop-color="#8f08ea"/><stop offset="0.674" stop-color="#8706fa"/><stop offset="0.717" stop-color="#8004ff"/><stop offset="0.753" stop-color="#8305fe"/><stop offset="0.758" stop-color="#8806f9"/><stop offset="0.761" stop-color="#8d07f1"/><stop offset="0.772" stop-color="#9c0db7"/><stop offset="0.777" stop-color="#9d0eb1"/><stop offset="0.783" stop-color="#9b0db9"/><stop offset="0.793" stop-color="#9309de"/><stop offset="0.821" stop-color="#8806f9"/><stop offset="0.851" stop-color="#7f04ff"/><stop offset="0.872" stop-color="#7402f5"/><stop offset="0.889" stop-color="#6901e0"/><stop offset="0.935" stop-color="#4a0081"/><stop offset="0.962" stop-color="#38004c"/><stop offset="0.981" stop-color="#2f0035"/><stop offset="1" stop-color="#2a002c"/></linearGradient><linearGradient id="g152"><stop offset="0" stop-color="#31003a"/><stop offset="0.087" stop-color="#1b0012"/><stop offset="0.098" stop-color="#0f0005"/><stop offset="0.101" stop-color="#040000"/><stop offset="0.106" stop-color="#000000"/><stop offset="0.155" stop-color="#000000"/><stop offset="0.158" stop-color="#0a0003"/><stop offset="0.16" stop-color="#16000c"/><stop offset="0.166" stop-color="#200019"/><stop offset="0.198" stop-color="#22001c"/><stop offset="0.22" stop-color="#1e0017"/><stop offset="0.242" stop-color="#0c0004"/><stop offset="0.247" stop-color="#000000"/><stop offset="0.261" stop-color="#000000"/><stop offset="0.269" stop-color="#0f0006"/><stop offset="0.291" stop-color="#1a0011"/><stop offset="0.378" stop-color="#1e0016"/><stop offset="0.394" stop-color="#270025"/><stop offset="0.427" stop-color="#3d005a"/><stop offset="0.465" stop-color="#5600a8"/><stop offset="0.503" stop-color="#6901e0"/><stop offset="0.53" stop-color="#7603f9"/><stop offset="0.552" stop-color="#7e04ff"/><stop offset="0.56" stop-color="#8505fd"/><stop offset="0.568" stop-color="#8f08e9"/><stop offset="0.584" stop-color="#a00fa0"/><stop offset="0.598" stop-color="#a41283"/><stop offset="0.609" stop-color="#a5137e"/><stop offset="0.62" stop-color="#a21191"/><stop offset="0.633" stop-color="#9c0db6"/><stop offset="0.647" stop-color="#9309df"/><stop offset="0.663" stop-color="#8a07f5"/><stop offset="0.69" stop-color="#8204ff"/><stop offset="0.753" stop-color="#8104ff"/><stop offset="0.758" stop-color="#8706fb"/><stop offset="0.761" stop-color="#8b07f4"/><stop offset="0.769" stop-color="#980cc7"/><stop offset="0.774" stop-color="#9c0db6"/><stop offset="0.78" stop-color="#9b0db9"/><stop offset="0.785" stop-color="#980cc8"/><stop offset="0.791" stop-color="#9309de"/><stop offset="0.796" stop-color="#9008e9"/><stop offset="0.826" stop-color="#8405fd"/><stop offset="0.856" stop-color="#7b03fd"/><stop offset="0.88" stop-color="#6d02e9"/><stop offset="0.932" stop-color="#4a0080"/><stop offset="0.959" stop-color="#38004b"/><stop offset="0.981" stop-color="#2d0033"/><stop offset="1" stop-color="#29002a"/></linearGradient></defs>
<g shape-rendering="crispEdges"><rect x="113" width="368" y="88" height="2" fill="url(#g0)"/><rect x="113" width="368" y="90" height="2" fill="url(#g1)"/><rect x="113" width="368" y="92" height="2" fill="url(#g2)"/><rect x="113" width="368" y="94" height="2" fill="url(#g3)"/><rect x="113" width="368" y="96" height="2" fill="url(#g4)"/><rect x="113" width="368" y="98" height="2" fill="url(#g5)"/><rect x="113" width="368" y="100" height="2" fill="url(#g6)"/><rect x="113" width="368" y="102" height="2" fill="url(#g7)"/><rect x="113" width="368" y="104" height="2" fill="url(#g8)"/><rect x="113" width="368" y="106" height="2" fill="url(#g9)"/><rect x="113" width="368" y="108" height="2" fill="url(#g10)"/><rect x="113" width="368" y="110" height="2" fill="url(#g11)"/><rect x="113" width="368" y="112" height="2" fill="url(#g12)"/><rect x="113" width="368" y="114" height="2" fill="url(#g13)"/><rect x="113" width="368" y="116" height="2" fill="url(#g14)"/><rect x="113" width="368" y="118" height="2" fill="url(#g15)"/><rect x="113" width="368" y="120" height="2" fill="url(#g16)"/><rect x="113" width="368" y="122" height="2" fill="url(#g17)"/><rect x="113" width="368" y="124" height="2" fill="url(#g18)"/><rect x="113" width="368" y="126" height="2" fill="url(#g19)"/><rect x="113" width="368" y="128" height="2" fill="url(#g20)"/><rect x="113" width="368" y="130" height="2" fill="url(#g21)"/><rect x="113" width="368" y="132" height="2" fill="url(#g22)"/><rect x="113" width="368" y="134" height="2" fill="url(#g23)"/><rect x="113" width="368" y="136" height="2" fill="url(#g24)"/><rect x="113" width="368" y="138" height="2" fill="url(#g25)"/><rect x="113" width="368" y="140" height="2" fill="url(#g26)"/><rect x="113" width="368" y="142" height="2" fill="url(#g27)"/><rect x="113" width="368" y="144" height="2" fill="url(#g28)"/><rect x="113" width="368" y="146" height="2" fill="url(#g29)"/><rect x="113" width="368" y="148" height="2" fill="url(#g30)"/><rect x="113" width="368" y="150" height="2" fill="url(#g31)"/><rect x="113" width="368" y="152" height="2" fill="url(#g32)"/><rect x="113" width="368" y="154" height="2" fill="url(#g33)"/><rect x="113" width="368" y="156" height="2" fill="url(#g34)"/><rect x="113" width="368" y="158" height="2" fill="url(#g35)"/><rect x="113" width="368" y="160" height="2" fill="url(#g36)"/><rect x="113" width="368" y="162" height="2" fill="url(#g37)"/><rect x="113" width="368" y="164" height="2" fill="url(#g38)"/><rect x="113" width="368" y="166" height="2" fill="url(#g39)"/><rect x="113" width="368" y="168" height="2" fill="url(#g40)"/><rect x="113" width="368" y="170" height="2" fill="url(#g41)"/><rect x="113" width="368" y="172" height="2" fill="url(#g42)"/><rect x="113" width="368" y="174" height="2" fill="url(#g43)"/><rect x="113" width="368" y="176" height="2" fill="url(#g44)"/><rect x="113" width="368" y="178" height="2" fill="url(#g45)"/><rect x="113" width="368" y="180" height="2" fill="url(#g46)"/><rect x="113" width="368" y="182" height="2" fill="url(#g47)"/><rect x="113" width="368" y="184" height="2" fill="url(#g48)"/><rect x="113" width="368" y="186" height="2" fill="url(#g49)"/><rect x="113" width="368" y="188" height="2" fill="url(#g50)"/><rect x="113" width="368" y="190" height="2" fill="url(#g51)"/><rect x="113" width="368" y="192" height="2" fill="url(#g52)"/><rect x="113" width="368" y="194" height="2" fill="url(#g53)"/><rect x="113" width="368" y="196" height="2" fill="url(#g54)"/><rect x="113" width="368" y="198" height="2" fill="url(#g55)"/><rect x="113" width="368" y="200" height="2" fill="url(#g56)"/><rect x="113" width="368" y="202" height="2" fill="url(#g57)"/><rect x="113" width="368" y="204" height="2" fill="url(#g58)"/><rect x="113" width="368" y="206" height="2" fill="url(#g59)"/><rect x="113" width="368" y="208" height="2" fill="url(#g60)"/><rect x="113" width="368" y="210" height="2" fill="url(#g61)"/><rect x="113" width="368" y="212" height="2" fill="url(#g62)"/><rect x="113" width="368" y="214" height="2" fill="url(#g63)"/><rect x="113" width="368" y="216" height="2" fill="url(#g64)"/><rect x="113" width="368" y="218" height="2" fill="url(#g65)"/><rect x="113" width="368" y="220" height="2" fill="url(#g66)"/><rect x="113" width="368" y="222" height="2" fill="url(#g67)"/><rect x="113" width="368" y="224" height="2" fill="url(#g68)"/><rect x="113" width="368" y="226" height="2" fill="url(#g69)"/><rect x="113" width="368" y="228" height="2" fill="url(#g70)"/><rect x="113" width="368" y="230" height="2" fill="url(#g71)"/><rect x="113" width="368" y="232" height="2" fill="url(#g72)"/><rect x="113" width="368" y="234" height="2" fill="url(#g73)"/><rect x="113" width="368" y="236" height="2" fill="url(#g74)"/><rect x="113" width="368" y="238" height="2" fill="url(#g75)"/><rect x="113" width="368" y="240" height="2" fill="url(#g76)"/><rect x="113" width="368" y="242" height="2" fill="url(#g77)"/><rect x="113" width="368" y="244" height="2" fill="url(#g78)"/><rect x="113" width="368" y="246" height="2" fill="url(#g79)"/><rect x="113" width="368" y="248" height="2" fill="url(#g80)"/><rect x="113" width="368" y="250" height="2" fill="url(#g81)"/><rect x="113" width="368" y="252" height="2" fill="url(#g82)"/><rect x="113" width="368" y="254" height="2" fill="url(#g83)"/><rect x="113" width="368" y="256" height="2" fill="url(#g84)"/><rect x="113" width="368" y="258" height="2" fill="url(#g85)"/><rect x="113" width="368" y="260" height="2" fill="url(#g86)"/><rect x="113" width="368" y="262" height="2" fill="url(#g87)"/><rect x="113" width="368" y="264" height="2" fill="url(#g88)"/><rect x="113" width="368" y="266" height="2" fill="url(#g89)"/><rect x="113" width="368" y="268" height="2" fill="url(#g90)"/><rect x="113" width="368" y="270" height="2" fill="url(#g91)"/><rect x="113" width="368" y="272" height="2" fill="url(#g92)"/><rect x="113" width="368" y="274" height="2" fill="url(#g93)"/><rect x="113" width="368" y="276" height="2" fill="url(#g94)"/><rect x="113" width="368" y="278" height="2" fill="url(#g95)"/><rect x="113" width="368" y="280" height="2" fill="url(#g96)"/><rect x="113" width="368" y="282" height="2" fill="url(#g97)"/><rect x="113" width="368" y="284" height="2" fill="url(#g98)"/><rect x="113" width="368" y="286" height="2" fill="url(#g99)"/><rect x="113" width="368" y="288" height="2" fill="url(#g100)"/><rect x="113" width="368" y="290" height="2" fill="url(#g101)"/><rect x="113" width="368" y="292" height="2" fill="url(#g102)"/><rect x="113" width="368" y="294" height="2" fill="url(#g103)"/><rect x="113" width="368" y="296" height="2" fill="url(#g104)"/><rect x="113" width="368" y="298" height="2" fill="url(#g105)"/><rect x="113" width="368" y="300" height="2" fill="url(#g106)"/><rect x="113" width="368" y="302" height="2" fill="url(#g107)"/><rect x="113" width="368" y="304" height="2" fill="url(#g108)"/><rect x="113" width="368" y="306" height="2" fill="url(#g109)"/><rect x="113" width="368" y="308" height="2" fill="url(#g110)"/><rect x="113" width="368" y="310" height="2" fill="url(#g111)"/><rect x="113" width="368" y="312" height="2" fill="url(#g112)"/><rect x="113" width="368" y="314" height="2" fill="url(#g113)"/><rect x="113" width="368" y="316" height="2" fill="url(#g114)"/><rect x="113" width="368" y="318" height="2" fill="url(#g115)"/><rect x="113" width="368" y="320" height="2" fill="url(#g116)"/><rect x="113" width="368" y="322" height="2" fill="url(#g117)"/><rect x="113" width="368" y="324" height="2" fill="url(#g118)"/><rect x="113" width="368" y="326" height="2" fill="url(#g119)"/><rect x="113" width="368" y="328" height="2" fill="url(#g120)"/><rect x="113" width="368" y="330" height="2" fill="url(#g121)"/><rect x="113" width="368" y="332" height="2" fill="url(#g122)"/><rect x="113" width="368" y="334" height="2" fill="url(#g123)"/><rect x="113" width="368" y="336" height="2" fill="url(#g124)"/><rect x="113" width="368" y="338" height="2" fill="url(#g125)"/><rect x="113" width="368" y="340" height="2" fill="url(#g126)"/><rect x="113" width="368" y="342" height="2" fill="url(#g127)"/><rect x="113" width="368" y="344" height="2" fill="url(#g128)"/><rect x="113" width="368" y="346" height="2" fill="url(#g129)"/><rect x="113" width="368" y="348" height="2" fill="url(#g130)"/><rect x="113" width="368" y="350" height="2" fill="url(#g131)"/><rect x="113" width="368" y="352" height="2" fill="url(#g132)"/><rect x="113" width="368" y="354" height="2" fill="url(#g133)"/><rect x="113" width="368" y="356" height="2" fill="url(#g134)"/><rect x="113" width="368" y="358" height="2" fill="url(#g135)"/><rect x="113" width="368" y="360" height="2" fill="url(#g136)"/><rect x="113" width="368" y="362" height="2" fill="url(#g137)"/><rect x="113" width="368" y="364" height="2" fill="url(#g138)"/><rect x="113" width="368" y="366" height="2" fill="url(#g139)"/><rect x="113" width="368" y="368" height="2" fill="url(#g140)"/><rect x="113" width="368" y="370" height="2" fill="url(#g141)"/><rect x="113" width="368" y="372" height="2" fill="url(#g142)"/><rect x="113" width="368" y="374" height="2" fill="url(#g143)"/><rect x="113" width="368" y="376" height="2" fill="url(#g144)"/><rect x="113" width="368" y="378" height="2" fill="url(#g145)"/><rect x="113" width="368" y="380" height="2" fill="url(#g146)"/><rect x="113" width="368" y="382" height="2" fill="url(#g147)"/><rect x="113" width="368" y="384" height="2" fill="url(#g148)"/><rect x="113" width="368" y="386" height="2" fill="url(#g149)"/><rect x="113" width="368" y="388" height="2" fill="url(#g150)"/><rect x="113" width="368" y="390" height="2" fill="url(#g151)"/><rect x="113" width="368" y="392" height="1" fill="url(#g152)"/></g>
<defs><linearGradient id="cb" x1="0" y1="0" x2="0" y2="1"><stop offset="0" stop-color="#ffff00"/><stop offset="0.01562" stop-color="#fdf300"/><stop offset="0.03125" stop-color="#fbe800"/><stop offset="0.04688" stop-color="#f9dd00"/><stop offset="0.0625" stop-color="#f7d200"/><stop offset="0.07812" stop-color="#f5c800"/><stop offset="0.09375" stop-color="#f3be00"/><stop offset="0.1094" stop-color="#f1b400"/><stop offset="0.125" stop-color="#efab00"/><stop offset="0.1406" stop-color="#eca200"/><stop offset="0.1562" stop-color="#ea9900"/><stop offset="0.1719" stop-color="#e89100"/><stop offset="0.1875" stop-color="#e68900"/><stop offset="0.2031" stop-color="#e48100"/><stop offset="0.2188" stop-color="#e17a00"/><stop offset="0.2344" stop-color="#df7200"/><stop offset="0.25" stop-color="#dd6c00"/><stop offset="0.2656" stop-color="#db6500"/><stop offset="0.2812" stop-color="#d85f00"/><stop offset="0.2969" stop-color="#d65900"/><stop offset="0.3125" stop-color="#d35300"/><stop offset="0.3281" stop-color="#d14d00"/><stop offset="0.3438" stop-color="#cf4800"/><stop offset="0.3594" stop-color="#cc4300"/><stop offset="0.375" stop-color="#ca3e00"/><stop offset="0.3906" stop-color="#c73a00"/><stop offset="0.4062" stop-color="#c43500"/><stop offset="0.4219" stop-color="#c23100"/><stop offset="0.4375" stop-color="#bf2d00"/><stop offset="0.4531" stop-color="#bd2a00"/><stop offset="0.4688" stop-color="#ba2600"/><stop offset="0.4844" stop-color="#b72300"/><stop offset="0.5" stop-color="#b42000"/><stop offset="0.5156" stop-color="#b11d19"/><stop offset="0.5312" stop-color="#af1a32"/><stop offset="0.5469" stop-color="#ac184a"/><stop offset="0.5625" stop-color="#a91562"/><stop offset="0.5781" stop-color="#a61378"/><stop offset="0.5938" stop-color="#a3118e"/><stop offset="0.6094" stop-color="#9f0fa2"/><stop offset="0.625" stop-color="#9c0db4"/><stop offset="0.6406" stop-color="#990cc5"/><stop offset="0.6562" stop-color="#960ad4"/><stop offset="0.6719" stop-color="#9209e1"/><stop offset="0.6875" stop-color="#8f08ec"/><stop offset="0.7031" stop-color="#8b07f4"/><stop offset="0.7188" stop-color="#8706fa"/><stop offset="0.7344" stop-color="#8305fe"/><stop offset="0.75" stop-color="#8004ff"/><stop offset="0.7656" stop-color="#7b03fe"/><stop offset="0.7812" stop-color="#7703fa"/><stop offset="0.7969" stop-color="#7302f4"/><stop offset="0.8125" stop-color="#6e02ec"/><stop offset="0.8281" stop-color="#6a01e1"/><stop offset="0.8438" stop-color="#6501d4"/><stop offset="0.8594" stop-color="#6001c5"/><stop offset="0.875" stop-color="#5a00b4"/><stop offset="0.8906" stop-color="#5400a2"/><stop offset="0.9062" stop-color="#4e008e"/><stop offset="0.9219" stop-color="#470078"/><stop offset="0.9375" stop-color="#400062"/><stop offset="0.9531" stop-color="#37004a"/><stop offset="0.9688" stop-color="#2d0032"/><stop offset="0.9844" stop-color="#200019"/><stop offset="1" stop-color="#000000"/></linearGradient></defs><rect x="501.5" y="81.5" width="18" height="318" fill="url(#cb)" stroke="#000" stroke-width="1"/>
<path fill="#000" shape-rendering="crispEdges" d="M112 81h1v321h-1zM482 81h1v321h-1zM111 81h372v1h-372zM112 399h371v1h-371zM111 81h1v6h-1zM111 395h1v7h-1zM112 395h1v6h-1zM112 81h1v6h-1zM127 397h1v4h-1zM127 81h1v4h-1zM142 397h1v4h-1zM142 81h1v4h-1zM158 397h1v4h-1zM158 81h1v4h-1zM173 395h1v6h-1zM173 81h1v6h-1zM189 397h1v4h-1zM189 81h1v4h-1zM204 397h1v4h-1zM204 81h1v4h-1zM219 397h1v4h-1zM219 81h1v4h-1zM235 395h1v6h-1zM235 81h1v6h-1zM250 397h1v4h-1zM250 81h1v4h-1zM266 397h1v4h-1zM266 81h1v4h-1zM281 397h1v4h-1zM281 81h1v4h-1zM297 395h1v6h-1zM297 81h1v6h-1zM312 397h1v4h-1zM312 81h1v4h-1zM327 397h1v4h-1zM327 81h1v4h-1zM343 397h1v4h-1zM343 81h1v4h-1zM358 395h1v6h-1zM358 81h1v6h-1zM374 397h1v4h-1zM374 81h1v4h-1zM389 397h1v4h-1zM389 81h1v4h-1zM404 397h1v4h-1zM404 81h1v4h-1zM420 395h1v6h-1zM420 81h1v6h-1zM435 397h1v4h-1zM435 81h1v4h-1zM451 397h1v4h-1zM451 81h1v4h-1zM466 397h1v4h-1zM466 81h1v4h-1zM482 395h1v6h-1zM482 81h1v6h-1zM111 401h4v1h-4zM479 401h4v1h-4zM111 393h4v1h-4zM479 393h4v1h-4zM111 386h7v1h-7zM476 386h7v1h-7zM111 339h4v1h-4zM479 339h4v1h-4zM111 312h4v1h-4zM479 312h4v1h-4zM111 292h4v1h-4zM479 292h4v1h-4zM111 278h4v1h-4zM479 278h4v1h-4zM111 265h4v1h-4zM479 265h4v1h-4zM111 255h4v1h-4zM479 255h4v1h-4zM111 246h4v1h-4zM479 246h4v1h-4zM111 238h4v1h-4zM479 238h4v1h-4zM111 231h7v1h-7zM476 231h7v1h-7zM111 184h4v1h-4zM479 184h4v1h-4zM111 157h4v1h-4zM479 157h4v1h-4zM111 138h4v1h-4zM479 138h4v1h-4zM111 123h4v1h-4zM479 123h4v1h-4zM111 111h4v1h-4zM479 111h4v1h-4zM111 100h4v1h-4zM479 100h4v1h-4zM111 91h4v1h-4zM479 91h4v1h-4zM111 83h4v1h-4zM479 83h4v1h-4zM502 346h4v1h-4zM515 346h4v1h-4zM502 293h4v1h-4zM515 293h4v1h-4zM502 240h4v1h-4zM515 240h4v1h-4zM502 187h4v1h-4zM515 187h4v1h-4zM502 134h4v1h-4zM515 134h4v1h-4z"/>
<g fill="#000" font-family="'Liberation Sans', sans-serif" font-size="16px">
<text x="297.2" y="61" font-size="16.5" text-anchor="middle" textLength="159.5" lengthAdjust="spacingAndGlyphs">dN / d log d (3/19/19)</text>
<text x="296.1" y="452.6" font-size="16.5" text-anchor="middle" textLength="86.5" lengthAdjust="spacingAndGlyphs">Time [hour]</text>
<text transform="translate(55.8 238.8) rotate(-90)" font-size="16.5" text-anchor="middle" textLength="128" lengthAdjust="spacingAndGlyphs">Particle size [nm]</text>
<text x="113.7" y="427.6" text-anchor="middle" textLength="9.28" lengthAdjust="spacingAndGlyphs">0</text>
<text x="175.367" y="427.6" text-anchor="middle" textLength="9.28" lengthAdjust="spacingAndGlyphs">4</text>
<text x="237.033" y="427.6" text-anchor="middle" textLength="9.28" lengthAdjust="spacingAndGlyphs">8</text>
<text x="298.7" y="427.6" text-anchor="middle" textLength="18.56" lengthAdjust="spacingAndGlyphs">12</text>
<text x="360.367" y="427.6" text-anchor="middle" textLength="18.56" lengthAdjust="spacingAndGlyphs">16</text>
<text x="422.033" y="427.6" text-anchor="middle" textLength="18.56" lengthAdjust="spacingAndGlyphs">20</text>
<text x="483.7" y="427.6" text-anchor="middle" textLength="18.56" lengthAdjust="spacingAndGlyphs">24</text>
<text x="96.6" y="235.9" text-anchor="end" textLength="27.84" lengthAdjust="spacingAndGlyphs">100</text>
<text x="97.5" y="390" text-anchor="end" textLength="18.56" lengthAdjust="spacingAndGlyphs">10</text>
<text x="533.2" y="404.2" text-anchor="start" textLength="9.28" lengthAdjust="spacingAndGlyphs">0</text>
<text x="533.2" y="351.2" text-anchor="start" textLength="37.12" lengthAdjust="spacingAndGlyphs">1000</text>
<text x="533.2" y="298.2" text-anchor="start" textLength="37.12" lengthAdjust="spacingAndGlyphs">2000</text>
<text x="533.2" y="245.2" text-anchor="start" textLength="37.12" lengthAdjust="spacingAndGlyphs">3000</text>
<text x="533.2" y="192.2" text-anchor="start" textLength="37.12" lengthAdjust="spacingAndGlyphs">4000</text>
<text x="533.2" y="139.2" text-anchor="start" textLength="37.12" lengthAdjust="spacingAndGlyphs">5000</text>
<text x="533.2" y="86.2" text-anchor="start" textLength="37.12" lengthAdjust="spacingAndGlyphs">6000</text>
</g>
</svg>
</body></html>
